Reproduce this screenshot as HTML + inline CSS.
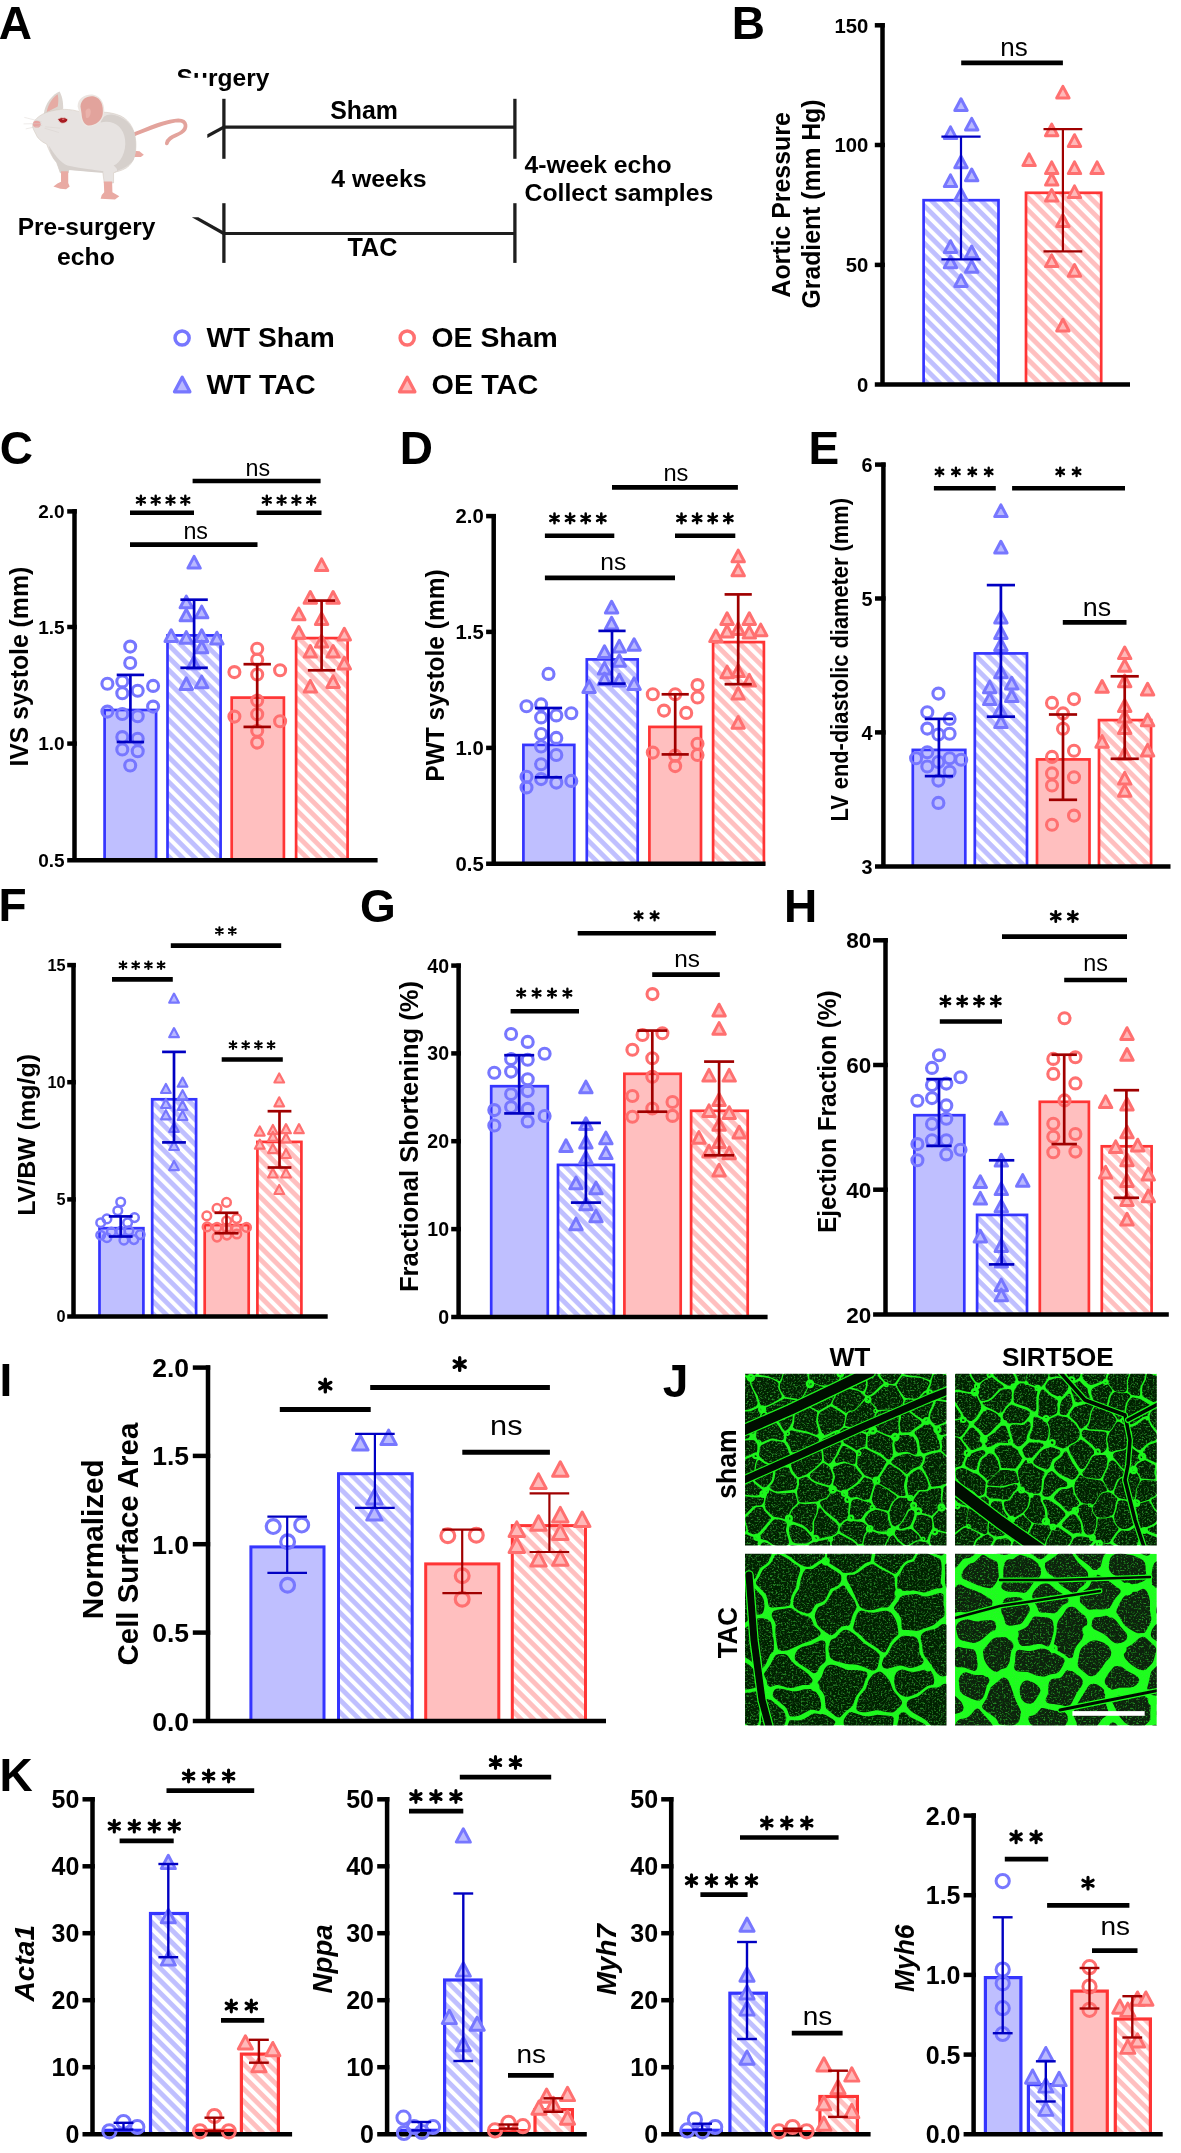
<!DOCTYPE html>
<html><head><meta charset="utf-8"><style>
html,body{margin:0;padding:0;background:#fff;}
svg{display:block;font-family:"Liberation Sans", sans-serif;} text{opacity:0.999;}
</style></head><body>
<svg width="1181" height="2153" viewBox="0 0 1181 2153">
<rect width="1181" height="2153" fill="#fff"/>
<defs><pattern id="hb" patternUnits="userSpaceOnUse" width="8.8" height="20" patternTransform="rotate(-45)"><rect width="8.8" height="20" fill="#bfbfff"/><rect width="4.0" height="20" fill="#fff"/></pattern><pattern id="hr" patternUnits="userSpaceOnUse" width="8.8" height="20" patternTransform="rotate(-45)"><rect width="8.8" height="20" fill="#ffbfbf"/><rect width="4.0" height="20" fill="#fff"/></pattern></defs>
<text x="-1.2" y="39.4" font-size="46" font-weight="bold" text-anchor="start" fill="#000">A</text>
<text x="731.8" y="38.9" font-size="46" font-weight="bold" text-anchor="start" fill="#000">B</text>
<text x="-0.2" y="463.5" font-size="46" font-weight="bold" text-anchor="start" fill="#000">C</text>
<text x="399.8" y="464.0" font-size="46" font-weight="bold" text-anchor="start" fill="#000">D</text>
<text x="808.4" y="464.0" font-size="46" font-weight="bold" text-anchor="start" fill="#000">E</text>
<text x="-1.6" y="921.2" font-size="46" font-weight="bold" text-anchor="start" fill="#000">F</text>
<text x="360.0" y="922.4" font-size="46" font-weight="bold" text-anchor="start" fill="#000">G</text>
<text x="784.0" y="922.3" font-size="46" font-weight="bold" text-anchor="start" fill="#000">H</text>
<text x="-0.5" y="1395.6" font-size="46" font-weight="bold" text-anchor="start" fill="#000">I</text>
<text x="662.8" y="1397.3" font-size="46" font-weight="bold" text-anchor="start" fill="#000">J</text>
<text x="-0.6" y="1790.8" font-size="46" font-weight="bold" text-anchor="start" fill="#000">K</text>
<g transform="translate(20,85) scale(0.14395)">
<path d="M790 345 C 900 300, 1010 250, 1100 245 C 1160 245, 1165 300, 1120 330 C 1080 355, 1030 360, 1020 405" fill="none" stroke="#e3a39c" stroke-width="26" stroke-linecap="round"/>
<path d="M775 455 L 830 460 L 860 485 L 840 500 L 790 500 Z" fill="#e9aaa3"/>
<path d="M165 205 C 170 130, 230 60, 275 45 C 300 90, 300 140, 300 165 Z" fill="#dcd5d0"/>
<path d="M185 190 C 195 130, 235 80, 262 65 C 270 100, 265 130, 262 150 Z" fill="#e6aba4"/>
<path d="M88 275 C 100 235, 150 195, 220 180 C 300 160, 380 170, 440 195 C 520 185, 620 180, 700 215 C 770 250, 800 320, 805 400 C 808 480, 790 540, 740 575 C 700 600, 670 600, 650 610 L 650 680 L 585 680 L 575 605 C 500 600, 420 590, 340 585 L 335 610 L 280 610 L 255 540 C 220 500, 200 450, 185 410 C 150 395, 120 370, 110 340 C 100 320, 85 300, 88 275 Z" fill="#e7e3e1" stroke="#d3c8be" stroke-width="4"/>
<path d="M560 260 C 650 240, 720 290, 730 380 C 740 460, 700 540, 650 560 C 700 600, 660 610, 650 610 C 670 600, 760 570, 790 520 C 810 470, 810 380, 790 320 C 760 250, 700 215, 640 205 C 600 200, 570 220, 560 260 Z" fill="#d6d0cc"/>
<path d="M200 420 C 230 470, 280 540, 330 560 C 420 580, 520 590, 580 600 L 575 610 C 500 605, 420 595, 340 590 L 335 612 L 280 612 L 255 540 C 225 505, 205 460, 200 420 Z" fill="#d6d0cc"/>
<path d="M400 150 C 400 90, 460 60, 510 68 C 570 80, 590 140, 585 200 C 580 250, 530 290, 470 290 C 430 280, 420 240, 415 200 Z" fill="#ece6e2"/>
<path d="M420 150 C 425 95, 470 72, 515 80 C 565 92, 580 145, 575 200 C 570 245, 525 285, 472 282 C 440 270, 430 235, 428 200 Z" fill="#e2a39c"/>
<path d="M455 180 C 470 150, 500 160, 490 200 C 485 225, 470 235, 458 225 Z" fill="#eab2ab"/>
<path d="M262 238 C 280 222, 318 222, 332 240 C 330 262, 300 272, 282 262 C 272 256, 266 248, 262 238 Z" fill="#a81c22" stroke="#e9dcd5" stroke-width="6"/>
<ellipse cx="300" cy="238" rx="9" ry="5" fill="#d8686c"/>
<ellipse cx="117" cy="272" rx="27" ry="24" fill="#e8a3a0"/>
<path d="M150 255 L 30 225 M150 268 L 25 270 M155 280 L 40 305 M170 300 L 270 330 M175 290 L 280 300" stroke="#d8d0cc" stroke-width="3" fill="none"/>
<path d="M285 600 L 335 600 L 335 680 L 345 705 L 320 725 L 280 720 L 232 705 L 260 685 L 285 672 Z" fill="#e9aaa3"/>
<path d="M582 670 L 640 670 L 642 745 L 690 772 L 660 795 L 560 790 L 568 765 L 585 745 Z" fill="#e9aaa3"/>
</g>
<line x1="223.9" y1="98.8" x2="223.9" y2="158.8" stroke="#1e1e1e" stroke-width="3.3" stroke-linecap="butt"/>
<line x1="223.9" y1="127.1" x2="514.9" y2="127.1" stroke="#1e1e1e" stroke-width="3.1" stroke-linecap="butt"/>
<line x1="514.9" y1="98.8" x2="514.9" y2="158.8" stroke="#1e1e1e" stroke-width="3.3" stroke-linecap="butt"/>
<polygon points="207.3,134.2 207.3,137.9 224.7,128.5 223.1,125.7" fill="#1e1e1e"/>
<line x1="223.9" y1="203.2" x2="223.9" y2="262.9" stroke="#1e1e1e" stroke-width="3.3" stroke-linecap="butt"/>
<line x1="223.9" y1="233.5" x2="514.9" y2="233.5" stroke="#1e1e1e" stroke-width="3.1" stroke-linecap="butt"/>
<line x1="514.9" y1="203.2" x2="514.9" y2="262.9" stroke="#1e1e1e" stroke-width="3.3" stroke-linecap="butt"/>
<polygon points="191.8,217.2 198.3,217.2 224.7,232.1 223.1,234.9" fill="#1e1e1e"/>
<text x="176.6" y="85.6" font-size="24.6" font-weight="bold" text-anchor="start" textLength="92.8" lengthAdjust="spacingAndGlyphs" fill="#000">Surgery</text>
<rect x="174" y="77.8" width="35" height="16" fill="#fff"/>
<text x="364.1" y="119.2" font-size="24.9" font-weight="bold" text-anchor="middle" textLength="67.8" lengthAdjust="spacingAndGlyphs" fill="#000">Sham</text>
<text x="378.9" y="187.2" font-size="24.7" font-weight="bold" text-anchor="middle" textLength="95.3" lengthAdjust="spacingAndGlyphs" fill="#000">4 weeks</text>
<text x="372.5" y="256.3" font-size="24.9" font-weight="bold" text-anchor="middle" textLength="49.9" lengthAdjust="spacingAndGlyphs" fill="#000">TAC</text>
<text x="524.5" y="173.0" font-size="24.7" font-weight="bold" text-anchor="start" textLength="147.1" lengthAdjust="spacingAndGlyphs" fill="#000">4-week echo</text>
<text x="524.5" y="200.9" font-size="24.7" font-weight="bold" text-anchor="start" textLength="188.8" lengthAdjust="spacingAndGlyphs" fill="#000">Collect samples</text>
<text x="86.5" y="235.4" font-size="24.5" font-weight="bold" text-anchor="middle" textLength="137.7" lengthAdjust="spacingAndGlyphs" fill="#000">Pre-surgery</text>
<text x="85.9" y="265.0" font-size="24.5" font-weight="bold" text-anchor="middle" textLength="57.8" lengthAdjust="spacingAndGlyphs" fill="#000">echo</text>
<circle cx="182.1" cy="338.0" r="7.05" fill="none" stroke="#7777ff" stroke-width="3.5"/>
<circle cx="407.2" cy="338.0" r="7.05" fill="none" stroke="#ff7070" stroke-width="3.5"/>
<path d="M182.2 377.3L189.9 391.8L174.5 391.8Z" fill="#b9b9ff" stroke="#7777ff" stroke-width="3.3" stroke-linejoin="round"/>
<path d="M407.2 377.3L414.9 391.8L399.5 391.8Z" fill="#ffb9b9" stroke="#ff7070" stroke-width="3.3" stroke-linejoin="round"/>
<text x="206.5" y="346.5" font-size="28" font-weight="bold" text-anchor="start" textLength="128.2" lengthAdjust="spacingAndGlyphs" fill="#000">WT Sham</text>
<text x="206.5" y="394.4" font-size="28" font-weight="bold" text-anchor="start" textLength="109.2" lengthAdjust="spacingAndGlyphs" fill="#000">WT TAC</text>
<text x="431.5" y="346.5" font-size="28" font-weight="bold" text-anchor="start" textLength="126.2" lengthAdjust="spacingAndGlyphs" fill="#000">OE Sham</text>
<text x="431.5" y="394.4" font-size="28" font-weight="bold" text-anchor="start" textLength="106.7" lengthAdjust="spacingAndGlyphs" fill="#000">OE TAC</text>
<text transform="translate(789.9,204.9) rotate(-90)" font-size="25" font-weight="bold" text-anchor="middle" textLength="185.3" lengthAdjust="spacingAndGlyphs" fill="#000">Aortic Pressure</text>
<text transform="translate(819.8,204.0) rotate(-90)" font-size="25" font-weight="bold" text-anchor="middle" textLength="208.9" lengthAdjust="spacingAndGlyphs" fill="#000">Gradient (mm Hg)</text>
<rect x="923.6" y="200.2" width="74.9" height="184.1" fill="url(#hb)" stroke="#3535ff" stroke-width="2.7"/>
<rect x="1026.0" y="192.8" width="75.2" height="191.5" fill="url(#hr)" stroke="#ff3535" stroke-width="2.7"/>
<line x1="882.5" y1="23.1" x2="882.5" y2="384.4" stroke="#000" stroke-width="4.5" stroke-linecap="butt"/>
<line x1="874.8" y1="384.4" x2="1130.0" y2="384.4" stroke="#000" stroke-width="4.5" stroke-linecap="butt"/>
<line x1="874.8" y1="25.3" x2="884.8" y2="25.3" stroke="#000" stroke-width="4.5" stroke-linecap="butt"/>
<line x1="874.8" y1="145.0" x2="884.8" y2="145.0" stroke="#000" stroke-width="4.5" stroke-linecap="butt"/>
<line x1="874.8" y1="264.9" x2="884.8" y2="264.9" stroke="#000" stroke-width="4.5" stroke-linecap="butt"/>
<text x="868.3" y="32.6" font-size="20.3" font-weight="bold" text-anchor="end" fill="#000">150</text>
<text x="868.3" y="152.3" font-size="20.3" font-weight="bold" text-anchor="end" fill="#000">100</text>
<text x="868.3" y="272.2" font-size="20.3" font-weight="bold" text-anchor="end" fill="#000">50</text>
<text x="868.3" y="391.7" font-size="20.3" font-weight="bold" text-anchor="end" fill="#000">0</text>
<line x1="961.2" y1="62.9" x2="1062.9" y2="62.9" stroke="#000" stroke-width="4.6" stroke-linecap="butt"/>
<text x="1014.0" y="55.8" font-size="25" font-weight="normal" text-anchor="middle" textLength="27.5" lengthAdjust="spacingAndGlyphs" fill="#000">ns</text>
<path d="M961.0 98.8L967.2 110.5L954.8 110.5Z" fill="#b9b9ff" stroke="#7777ff" stroke-width="3.0" stroke-linejoin="round"/>
<path d="M971.7 118.4L977.9 130.0L965.5 130.0Z" fill="#b9b9ff" stroke="#7777ff" stroke-width="3.0" stroke-linejoin="round"/>
<path d="M950.5 126.9L956.7 138.6L944.3 138.6Z" fill="#b9b9ff" stroke="#7777ff" stroke-width="3.0" stroke-linejoin="round"/>
<path d="M961.0 156.1L967.2 167.7L954.8 167.7Z" fill="#b9b9ff" stroke="#7777ff" stroke-width="3.0" stroke-linejoin="round"/>
<path d="M971.7 169.0L977.9 180.7L965.5 180.7Z" fill="#b9b9ff" stroke="#7777ff" stroke-width="3.0" stroke-linejoin="round"/>
<path d="M950.5 174.9L956.7 186.6L944.3 186.6Z" fill="#b9b9ff" stroke="#7777ff" stroke-width="3.0" stroke-linejoin="round"/>
<path d="M961.0 188.6L967.2 200.3L954.8 200.3Z" fill="#b9b9ff" stroke="#7777ff" stroke-width="3.0" stroke-linejoin="round"/>
<path d="M950.5 240.7L956.7 252.4L944.3 252.4Z" fill="#b9b9ff" stroke="#7777ff" stroke-width="3.0" stroke-linejoin="round"/>
<path d="M971.7 246.0L977.9 257.7L965.5 257.7Z" fill="#b9b9ff" stroke="#7777ff" stroke-width="3.0" stroke-linejoin="round"/>
<path d="M950.5 256.2L956.7 267.8L944.3 267.8Z" fill="#b9b9ff" stroke="#7777ff" stroke-width="3.0" stroke-linejoin="round"/>
<path d="M971.7 260.6L977.9 272.3L965.5 272.3Z" fill="#b9b9ff" stroke="#7777ff" stroke-width="3.0" stroke-linejoin="round"/>
<path d="M961.0 274.8L967.2 286.5L954.8 286.5Z" fill="#b9b9ff" stroke="#7777ff" stroke-width="3.0" stroke-linejoin="round"/>
<path d="M1062.9 86.4L1069.1 98.0L1056.7 98.0Z" fill="#ffb9b9" stroke="#ff7070" stroke-width="3.0" stroke-linejoin="round"/>
<path d="M1051.7 124.1L1057.9 135.7L1045.5 135.7Z" fill="#ffb9b9" stroke="#ff7070" stroke-width="3.0" stroke-linejoin="round"/>
<path d="M1074.5 134.7L1080.7 146.4L1068.3 146.4Z" fill="#ffb9b9" stroke="#ff7070" stroke-width="3.0" stroke-linejoin="round"/>
<path d="M1029.1 153.9L1035.3 165.6L1022.9 165.6Z" fill="#ffb9b9" stroke="#ff7070" stroke-width="3.0" stroke-linejoin="round"/>
<path d="M1051.7 161.9L1057.9 173.6L1045.5 173.6Z" fill="#ffb9b9" stroke="#ff7070" stroke-width="3.0" stroke-linejoin="round"/>
<path d="M1074.5 161.9L1080.7 173.6L1068.3 173.6Z" fill="#ffb9b9" stroke="#ff7070" stroke-width="3.0" stroke-linejoin="round"/>
<path d="M1097.1 161.9L1103.3 173.6L1090.9 173.6Z" fill="#ffb9b9" stroke="#ff7070" stroke-width="3.0" stroke-linejoin="round"/>
<path d="M1051.7 173.5L1057.9 185.1L1045.5 185.1Z" fill="#ffb9b9" stroke="#ff7070" stroke-width="3.0" stroke-linejoin="round"/>
<path d="M1051.7 189.5L1057.9 201.1L1045.5 201.1Z" fill="#ffb9b9" stroke="#ff7070" stroke-width="3.0" stroke-linejoin="round"/>
<path d="M1074.5 185.9L1080.7 197.6L1068.3 197.6Z" fill="#ffb9b9" stroke="#ff7070" stroke-width="3.0" stroke-linejoin="round"/>
<path d="M1062.9 214.7L1069.1 226.4L1056.7 226.4Z" fill="#ffb9b9" stroke="#ff7070" stroke-width="3.0" stroke-linejoin="round"/>
<path d="M1051.7 254.9L1057.9 266.6L1045.5 266.6Z" fill="#ffb9b9" stroke="#ff7070" stroke-width="3.0" stroke-linejoin="round"/>
<path d="M1074.5 264.5L1080.7 276.2L1068.3 276.2Z" fill="#ffb9b9" stroke="#ff7070" stroke-width="3.0" stroke-linejoin="round"/>
<path d="M1062.9 319.3L1069.1 330.9L1056.7 330.9Z" fill="#ffb9b9" stroke="#ff7070" stroke-width="3.0" stroke-linejoin="round"/>
<line x1="961.0" y1="136.7" x2="961.0" y2="259.4" stroke="#0000c2" stroke-width="2.2" stroke-linecap="butt"/>
<line x1="941.4" y1="136.7" x2="980.6" y2="136.7" stroke="#0000c2" stroke-width="2.2" stroke-linecap="butt"/>
<line x1="941.4" y1="259.4" x2="980.6" y2="259.4" stroke="#0000c2" stroke-width="2.2" stroke-linecap="butt"/>
<line x1="1062.9" y1="129.2" x2="1062.9" y2="251.4" stroke="#a00000" stroke-width="2.2" stroke-linecap="butt"/>
<line x1="1043.5" y1="129.2" x2="1082.3" y2="129.2" stroke="#a00000" stroke-width="2.2" stroke-linecap="butt"/>
<line x1="1043.5" y1="251.4" x2="1082.3" y2="251.4" stroke="#a00000" stroke-width="2.2" stroke-linecap="butt"/>
<text transform="translate(27.9,666.7) rotate(-90)" font-size="25.5" font-weight="bold" text-anchor="middle" textLength="199.8" lengthAdjust="spacingAndGlyphs" fill="#000">IVS systole (mm)</text>
<rect x="104.6" y="710.0" width="51.5" height="150.3" fill="#bfbfff" stroke="#3535ff" stroke-width="2.7"/>
<rect x="167.5" y="635.4" width="53.1" height="224.9" fill="url(#hb)" stroke="#3535ff" stroke-width="2.7"/>
<rect x="231.7" y="697.6" width="52.2" height="162.7" fill="#ffbfbf" stroke="#ff3535" stroke-width="2.7"/>
<rect x="296.1" y="638.1" width="51.5" height="222.2" fill="url(#hr)" stroke="#ff3535" stroke-width="2.7"/>
<line x1="74.5" y1="509.1" x2="74.5" y2="860.3" stroke="#000" stroke-width="4.5" stroke-linecap="butt"/>
<line x1="67.2" y1="860.3" x2="377.6" y2="860.3" stroke="#000" stroke-width="4.5" stroke-linecap="butt"/>
<line x1="67.2" y1="511.4" x2="76.8" y2="511.4" stroke="#000" stroke-width="4.5" stroke-linecap="butt"/>
<line x1="67.2" y1="627.0" x2="76.8" y2="627.0" stroke="#000" stroke-width="4.5" stroke-linecap="butt"/>
<line x1="67.2" y1="743.6" x2="76.8" y2="743.6" stroke="#000" stroke-width="4.5" stroke-linecap="butt"/>
<text x="64.7" y="518.2" font-size="19" font-weight="bold" text-anchor="end" fill="#000">2.0</text>
<text x="64.7" y="633.8" font-size="19" font-weight="bold" text-anchor="end" fill="#000">1.5</text>
<text x="64.7" y="750.4" font-size="19" font-weight="bold" text-anchor="end" fill="#000">1.0</text>
<text x="64.7" y="867.1" font-size="19" font-weight="bold" text-anchor="end" fill="#000">0.5</text>
<line x1="192.6" y1="481.0" x2="320.6" y2="481.0" stroke="#000" stroke-width="4.6" stroke-linecap="butt"/>
<text x="257.9" y="476.0" font-size="24" font-weight="normal" text-anchor="middle" textLength="24.6" lengthAdjust="spacingAndGlyphs" fill="#000">ns</text>
<line x1="130.0" y1="512.8" x2="194.0" y2="512.8" stroke="#000" stroke-width="4.6" stroke-linecap="butt"/>
<path d="M140.90 495.75V504.75M136.95 497.97L144.85 502.53M136.95 502.53L144.85 497.97" stroke="#000" stroke-width="2.40" stroke-linecap="round" fill="none"/>
<path d="M155.70 495.75V504.75M151.75 497.97L159.65 502.53M151.75 502.53L159.65 497.97" stroke="#000" stroke-width="2.40" stroke-linecap="round" fill="none"/>
<path d="M170.50 495.75V504.75M166.55 497.97L174.45 502.53M166.55 502.53L174.45 497.97" stroke="#000" stroke-width="2.40" stroke-linecap="round" fill="none"/>
<path d="M185.30 495.75V504.75M181.35 497.97L189.25 502.53M181.35 502.53L189.25 497.97" stroke="#000" stroke-width="2.40" stroke-linecap="round" fill="none"/>
<line x1="256.6" y1="512.8" x2="321.5" y2="512.8" stroke="#000" stroke-width="4.6" stroke-linecap="butt"/>
<path d="M266.80 495.75V504.75M262.85 497.97L270.75 502.53M262.85 502.53L270.75 497.97" stroke="#000" stroke-width="2.40" stroke-linecap="round" fill="none"/>
<path d="M281.60 495.75V504.75M277.65 497.97L285.55 502.53M277.65 502.53L285.55 497.97" stroke="#000" stroke-width="2.40" stroke-linecap="round" fill="none"/>
<path d="M296.40 495.75V504.75M292.45 497.97L300.35 502.53M292.45 502.53L300.35 497.97" stroke="#000" stroke-width="2.40" stroke-linecap="round" fill="none"/>
<path d="M311.20 495.75V504.75M307.25 497.97L315.15 502.53M307.25 502.53L315.15 497.97" stroke="#000" stroke-width="2.40" stroke-linecap="round" fill="none"/>
<line x1="130.0" y1="544.6" x2="257.5" y2="544.6" stroke="#000" stroke-width="4.6" stroke-linecap="butt"/>
<text x="195.7" y="539.1" font-size="24" font-weight="normal" text-anchor="middle" textLength="24.6" lengthAdjust="spacingAndGlyphs" fill="#000">ns</text>
<circle cx="130.2" cy="646.6" r="5.5" fill="none" stroke="#7777ff" stroke-width="3.1"/>
<circle cx="130.2" cy="663.0" r="5.5" fill="none" stroke="#7777ff" stroke-width="3.1"/>
<circle cx="107.4" cy="683.7" r="5.5" fill="none" stroke="#7777ff" stroke-width="3.1"/>
<circle cx="122.3" cy="681.4" r="5.5" fill="none" stroke="#7777ff" stroke-width="3.1"/>
<circle cx="122.3" cy="693.2" r="5.5" fill="none" stroke="#7777ff" stroke-width="3.1"/>
<circle cx="137.7" cy="690.8" r="5.5" fill="none" stroke="#7777ff" stroke-width="3.1"/>
<circle cx="153.1" cy="685.9" r="5.5" fill="none" stroke="#7777ff" stroke-width="3.1"/>
<circle cx="153.1" cy="706.6" r="5.5" fill="none" stroke="#7777ff" stroke-width="3.1"/>
<circle cx="107.4" cy="711.6" r="5.5" fill="none" stroke="#7777ff" stroke-width="3.1"/>
<circle cx="122.3" cy="714.0" r="5.5" fill="none" stroke="#7777ff" stroke-width="3.1"/>
<circle cx="137.7" cy="716.3" r="5.5" fill="none" stroke="#7777ff" stroke-width="3.1"/>
<circle cx="122.3" cy="737.1" r="5.5" fill="none" stroke="#7777ff" stroke-width="3.1"/>
<circle cx="137.7" cy="738.8" r="5.5" fill="none" stroke="#7777ff" stroke-width="3.1"/>
<circle cx="122.3" cy="749.5" r="5.5" fill="none" stroke="#7777ff" stroke-width="3.1"/>
<circle cx="137.7" cy="751.3" r="5.5" fill="none" stroke="#7777ff" stroke-width="3.1"/>
<circle cx="130.2" cy="765.5" r="5.5" fill="none" stroke="#7777ff" stroke-width="3.1"/>
<path d="M194.1 556.4L200.3 568.1L187.9 568.1Z" fill="#b9b9ff" stroke="#7777ff" stroke-width="3.0" stroke-linejoin="round"/>
<path d="M186.3 596.1L192.5 607.7L180.1 607.7Z" fill="#b9b9ff" stroke="#7777ff" stroke-width="3.0" stroke-linejoin="round"/>
<path d="M186.3 609.1L192.5 620.7L180.1 620.7Z" fill="#b9b9ff" stroke="#7777ff" stroke-width="3.0" stroke-linejoin="round"/>
<path d="M201.7 606.1L207.9 617.8L195.5 617.8Z" fill="#b9b9ff" stroke="#7777ff" stroke-width="3.0" stroke-linejoin="round"/>
<path d="M171.2 629.8L177.4 641.5L165.0 641.5Z" fill="#b9b9ff" stroke="#7777ff" stroke-width="3.0" stroke-linejoin="round"/>
<path d="M186.3 631.6L192.5 643.3L180.1 643.3Z" fill="#b9b9ff" stroke="#7777ff" stroke-width="3.0" stroke-linejoin="round"/>
<path d="M201.7 629.8L207.9 641.5L195.5 641.5Z" fill="#b9b9ff" stroke="#7777ff" stroke-width="3.0" stroke-linejoin="round"/>
<path d="M216.9 632.2L223.1 643.9L210.7 643.9Z" fill="#b9b9ff" stroke="#7777ff" stroke-width="3.0" stroke-linejoin="round"/>
<path d="M201.7 641.1L207.9 652.8L195.5 652.8Z" fill="#b9b9ff" stroke="#7777ff" stroke-width="3.0" stroke-linejoin="round"/>
<path d="M193.6 657.1L199.8 668.8L187.4 668.8Z" fill="#b9b9ff" stroke="#7777ff" stroke-width="3.0" stroke-linejoin="round"/>
<path d="M186.3 677.8L192.5 689.5L180.1 689.5Z" fill="#b9b9ff" stroke="#7777ff" stroke-width="3.0" stroke-linejoin="round"/>
<path d="M201.7 676.1L207.9 687.7L195.5 687.7Z" fill="#b9b9ff" stroke="#7777ff" stroke-width="3.0" stroke-linejoin="round"/>
<circle cx="257.2" cy="648.7" r="5.5" fill="none" stroke="#ff7070" stroke-width="3.1"/>
<circle cx="257.2" cy="659.7" r="5.5" fill="none" stroke="#ff7070" stroke-width="3.1"/>
<circle cx="234.4" cy="672.1" r="5.5" fill="none" stroke="#ff7070" stroke-width="3.1"/>
<circle cx="280.1" cy="670.3" r="5.5" fill="none" stroke="#ff7070" stroke-width="3.1"/>
<circle cx="257.2" cy="674.5" r="5.5" fill="none" stroke="#ff7070" stroke-width="3.1"/>
<circle cx="257.2" cy="700.6" r="5.5" fill="none" stroke="#ff7070" stroke-width="3.1"/>
<circle cx="234.4" cy="716.6" r="5.5" fill="none" stroke="#ff7070" stroke-width="3.1"/>
<circle cx="257.2" cy="714.2" r="5.5" fill="none" stroke="#ff7070" stroke-width="3.1"/>
<circle cx="280.1" cy="721.3" r="5.5" fill="none" stroke="#ff7070" stroke-width="3.1"/>
<circle cx="257.2" cy="730.8" r="5.5" fill="none" stroke="#ff7070" stroke-width="3.1"/>
<circle cx="257.2" cy="742.6" r="5.5" fill="none" stroke="#ff7070" stroke-width="3.1"/>
<path d="M321.6 558.9L327.8 570.6L315.4 570.6Z" fill="#ffb9b9" stroke="#ff7070" stroke-width="3.0" stroke-linejoin="round"/>
<path d="M310.3 591.5L316.5 603.2L304.1 603.2Z" fill="#ffb9b9" stroke="#ff7070" stroke-width="3.0" stroke-linejoin="round"/>
<path d="M333.1 591.5L339.3 603.2L326.9 603.2Z" fill="#ffb9b9" stroke="#ff7070" stroke-width="3.0" stroke-linejoin="round"/>
<path d="M298.8 608.1L305.0 619.8L292.6 619.8Z" fill="#ffb9b9" stroke="#ff7070" stroke-width="3.0" stroke-linejoin="round"/>
<path d="M321.6 612.9L327.8 624.5L315.4 624.5Z" fill="#ffb9b9" stroke="#ff7070" stroke-width="3.0" stroke-linejoin="round"/>
<path d="M298.8 626.5L305.0 638.2L292.6 638.2Z" fill="#ffb9b9" stroke="#ff7070" stroke-width="3.0" stroke-linejoin="round"/>
<path d="M344.3 628.3L350.5 639.9L338.1 639.9Z" fill="#ffb9b9" stroke="#ff7070" stroke-width="3.0" stroke-linejoin="round"/>
<path d="M321.6 635.4L327.8 647.1L315.4 647.1Z" fill="#ffb9b9" stroke="#ff7070" stroke-width="3.0" stroke-linejoin="round"/>
<path d="M310.3 645.5L316.5 657.1L304.1 657.1Z" fill="#ffb9b9" stroke="#ff7070" stroke-width="3.0" stroke-linejoin="round"/>
<path d="M333.1 645.5L339.3 657.1L326.9 657.1Z" fill="#ffb9b9" stroke="#ff7070" stroke-width="3.0" stroke-linejoin="round"/>
<path d="M344.3 657.3L350.5 669.0L338.1 669.0Z" fill="#ffb9b9" stroke="#ff7070" stroke-width="3.0" stroke-linejoin="round"/>
<path d="M333.1 675.7L339.3 687.4L326.9 687.4Z" fill="#ffb9b9" stroke="#ff7070" stroke-width="3.0" stroke-linejoin="round"/>
<path d="M310.3 680.4L316.5 692.1L304.1 692.1Z" fill="#ffb9b9" stroke="#ff7070" stroke-width="3.0" stroke-linejoin="round"/>
<line x1="130.4" y1="674.9" x2="130.4" y2="742.0" stroke="#0000c2" stroke-width="2.7" stroke-linecap="butt"/>
<line x1="116.7" y1="674.9" x2="144.1" y2="674.9" stroke="#0000c2" stroke-width="2.7" stroke-linecap="butt"/>
<line x1="116.7" y1="742.0" x2="144.1" y2="742.0" stroke="#0000c2" stroke-width="2.7" stroke-linecap="butt"/>
<line x1="194.1" y1="599.7" x2="194.1" y2="667.8" stroke="#0000c2" stroke-width="2.7" stroke-linecap="butt"/>
<line x1="180.4" y1="599.7" x2="207.8" y2="599.7" stroke="#0000c2" stroke-width="2.7" stroke-linecap="butt"/>
<line x1="180.4" y1="667.8" x2="207.8" y2="667.8" stroke="#0000c2" stroke-width="2.7" stroke-linecap="butt"/>
<line x1="257.2" y1="664.2" x2="257.2" y2="726.9" stroke="#a00000" stroke-width="2.7" stroke-linecap="butt"/>
<line x1="243.5" y1="664.2" x2="270.9" y2="664.2" stroke="#a00000" stroke-width="2.7" stroke-linecap="butt"/>
<line x1="243.5" y1="726.9" x2="270.9" y2="726.9" stroke="#a00000" stroke-width="2.7" stroke-linecap="butt"/>
<line x1="321.6" y1="600.6" x2="321.6" y2="670.3" stroke="#a00000" stroke-width="2.7" stroke-linecap="butt"/>
<line x1="307.9" y1="600.6" x2="335.3" y2="600.6" stroke="#a00000" stroke-width="2.7" stroke-linecap="butt"/>
<line x1="307.9" y1="670.3" x2="335.3" y2="670.3" stroke="#a00000" stroke-width="2.7" stroke-linecap="butt"/>
<text transform="translate(444.0,675.5) rotate(-90)" font-size="25.5" font-weight="bold" text-anchor="middle" textLength="212.3" lengthAdjust="spacingAndGlyphs" fill="#000">PWT systole (mm)</text>
<rect x="523.4" y="744.9" width="50.9" height="118.9" fill="#bfbfff" stroke="#3535ff" stroke-width="2.7"/>
<rect x="586.8" y="659.4" width="50.9" height="204.4" fill="url(#hb)" stroke="#3535ff" stroke-width="2.7"/>
<rect x="649.4" y="726.9" width="51.6" height="136.9" fill="#ffbfbf" stroke="#ff3535" stroke-width="2.7"/>
<rect x="713.1" y="642.1" width="50.8" height="221.6" fill="url(#hr)" stroke="#ff3535" stroke-width="2.7"/>
<line x1="493.7" y1="513.9" x2="493.7" y2="863.7" stroke="#000" stroke-width="4.5" stroke-linecap="butt"/>
<line x1="486.1" y1="863.7" x2="765.5" y2="863.7" stroke="#000" stroke-width="4.5" stroke-linecap="butt"/>
<line x1="486.1" y1="516.1" x2="495.9" y2="516.1" stroke="#000" stroke-width="4.5" stroke-linecap="butt"/>
<line x1="486.1" y1="631.9" x2="495.9" y2="631.9" stroke="#000" stroke-width="4.5" stroke-linecap="butt"/>
<line x1="486.1" y1="747.9" x2="495.9" y2="747.9" stroke="#000" stroke-width="4.5" stroke-linecap="butt"/>
<text x="483.8" y="523.4" font-size="20.3" font-weight="bold" text-anchor="end" fill="#000">2.0</text>
<text x="483.8" y="639.2" font-size="20.3" font-weight="bold" text-anchor="end" fill="#000">1.5</text>
<text x="483.8" y="755.2" font-size="20.3" font-weight="bold" text-anchor="end" fill="#000">1.0</text>
<text x="483.8" y="871.0" font-size="20.3" font-weight="bold" text-anchor="end" fill="#000">0.5</text>
<line x1="612.0" y1="487.4" x2="737.9" y2="487.4" stroke="#000" stroke-width="4.6" stroke-linecap="butt"/>
<text x="675.9" y="480.7" font-size="24" font-weight="normal" text-anchor="middle" textLength="25.0" lengthAdjust="spacingAndGlyphs" fill="#000">ns</text>
<line x1="544.9" y1="535.7" x2="614.3" y2="535.7" stroke="#000" stroke-width="4.6" stroke-linecap="butt"/>
<path d="M554.50 513.63V523.17M550.31 515.98L558.69 520.82M550.31 520.82L558.69 515.98" stroke="#000" stroke-width="2.54" stroke-linecap="round" fill="none"/>
<path d="M570.10 513.63V523.17M565.91 515.98L574.29 520.82M565.91 520.82L574.29 515.98" stroke="#000" stroke-width="2.54" stroke-linecap="round" fill="none"/>
<path d="M585.70 513.63V523.17M581.51 515.98L589.89 520.82M581.51 520.82L589.89 515.98" stroke="#000" stroke-width="2.54" stroke-linecap="round" fill="none"/>
<path d="M601.30 513.63V523.17M597.11 515.98L605.49 520.82M597.11 520.82L605.49 515.98" stroke="#000" stroke-width="2.54" stroke-linecap="round" fill="none"/>
<line x1="675.0" y1="535.7" x2="735.3" y2="535.7" stroke="#000" stroke-width="4.6" stroke-linecap="butt"/>
<path d="M681.50 513.63V523.17M677.31 515.98L685.69 520.82M677.31 520.82L685.69 515.98" stroke="#000" stroke-width="2.54" stroke-linecap="round" fill="none"/>
<path d="M697.10 513.63V523.17M692.91 515.98L701.29 520.82M692.91 520.82L701.29 515.98" stroke="#000" stroke-width="2.54" stroke-linecap="round" fill="none"/>
<path d="M712.70 513.63V523.17M708.51 515.98L716.89 520.82M708.51 520.82L716.89 515.98" stroke="#000" stroke-width="2.54" stroke-linecap="round" fill="none"/>
<path d="M728.30 513.63V523.17M724.11 515.98L732.49 520.82M724.11 520.82L732.49 515.98" stroke="#000" stroke-width="2.54" stroke-linecap="round" fill="none"/>
<line x1="544.9" y1="577.9" x2="675.0" y2="577.9" stroke="#000" stroke-width="4.6" stroke-linecap="butt"/>
<text x="613.3" y="570.4" font-size="24" font-weight="normal" text-anchor="middle" textLength="26.0" lengthAdjust="spacingAndGlyphs" fill="#000">ns</text>
<circle cx="548.5" cy="673.9" r="5.5" fill="none" stroke="#7777ff" stroke-width="3.1"/>
<circle cx="526.5" cy="706.2" r="5.5" fill="none" stroke="#7777ff" stroke-width="3.1"/>
<circle cx="541.1" cy="704.4" r="5.5" fill="none" stroke="#7777ff" stroke-width="3.1"/>
<circle cx="571.3" cy="713.3" r="5.5" fill="none" stroke="#7777ff" stroke-width="3.1"/>
<circle cx="541.1" cy="717.4" r="5.5" fill="none" stroke="#7777ff" stroke-width="3.1"/>
<circle cx="556.3" cy="715.4" r="5.5" fill="none" stroke="#7777ff" stroke-width="3.1"/>
<circle cx="541.1" cy="734.0" r="5.5" fill="none" stroke="#7777ff" stroke-width="3.1"/>
<circle cx="556.3" cy="737.9" r="5.5" fill="none" stroke="#7777ff" stroke-width="3.1"/>
<circle cx="541.1" cy="746.5" r="5.5" fill="none" stroke="#7777ff" stroke-width="3.1"/>
<circle cx="556.3" cy="755.0" r="5.5" fill="none" stroke="#7777ff" stroke-width="3.1"/>
<circle cx="541.1" cy="764.3" r="5.5" fill="none" stroke="#7777ff" stroke-width="3.1"/>
<circle cx="526.5" cy="776.7" r="5.5" fill="none" stroke="#7777ff" stroke-width="3.1"/>
<circle cx="541.1" cy="779.1" r="5.5" fill="none" stroke="#7777ff" stroke-width="3.1"/>
<circle cx="556.3" cy="782.6" r="5.5" fill="none" stroke="#7777ff" stroke-width="3.1"/>
<circle cx="571.3" cy="780.9" r="5.5" fill="none" stroke="#7777ff" stroke-width="3.1"/>
<circle cx="526.5" cy="787.4" r="5.5" fill="none" stroke="#7777ff" stroke-width="3.1"/>
<path d="M611.6 601.3L617.8 613.0L605.4 613.0Z" fill="#b9b9ff" stroke="#7777ff" stroke-width="3.0" stroke-linejoin="round"/>
<path d="M611.6 617.3L617.8 629.0L605.4 629.0Z" fill="#b9b9ff" stroke="#7777ff" stroke-width="3.0" stroke-linejoin="round"/>
<path d="M604.5 645.8L610.7 657.4L598.3 657.4Z" fill="#b9b9ff" stroke="#7777ff" stroke-width="3.0" stroke-linejoin="round"/>
<path d="M619.3 640.4L625.5 652.1L613.1 652.1Z" fill="#b9b9ff" stroke="#7777ff" stroke-width="3.0" stroke-linejoin="round"/>
<path d="M634.1 638.7L640.3 650.3L627.9 650.3Z" fill="#b9b9ff" stroke="#7777ff" stroke-width="3.0" stroke-linejoin="round"/>
<path d="M619.3 654.7L625.5 666.3L613.1 666.3Z" fill="#b9b9ff" stroke="#7777ff" stroke-width="3.0" stroke-linejoin="round"/>
<path d="M604.5 662.4L610.7 674.0L598.3 674.0Z" fill="#b9b9ff" stroke="#7777ff" stroke-width="3.0" stroke-linejoin="round"/>
<path d="M604.5 673.0L610.7 684.7L598.3 684.7Z" fill="#b9b9ff" stroke="#7777ff" stroke-width="3.0" stroke-linejoin="round"/>
<path d="M619.3 674.2L625.5 685.9L613.1 685.9Z" fill="#b9b9ff" stroke="#7777ff" stroke-width="3.0" stroke-linejoin="round"/>
<path d="M589.1 680.7L595.3 692.4L582.9 692.4Z" fill="#b9b9ff" stroke="#7777ff" stroke-width="3.0" stroke-linejoin="round"/>
<path d="M634.1 677.8L640.3 689.4L627.9 689.4Z" fill="#b9b9ff" stroke="#7777ff" stroke-width="3.0" stroke-linejoin="round"/>
<circle cx="652.8" cy="694.3" r="5.5" fill="none" stroke="#ff7070" stroke-width="3.1"/>
<circle cx="675.2" cy="694.3" r="5.5" fill="none" stroke="#ff7070" stroke-width="3.1"/>
<circle cx="697.5" cy="685.1" r="5.5" fill="none" stroke="#ff7070" stroke-width="3.1"/>
<circle cx="697.5" cy="697.5" r="5.5" fill="none" stroke="#ff7070" stroke-width="3.1"/>
<circle cx="664.0" cy="710.6" r="5.5" fill="none" stroke="#ff7070" stroke-width="3.1"/>
<circle cx="686.2" cy="712.9" r="5.5" fill="none" stroke="#ff7070" stroke-width="3.1"/>
<circle cx="697.5" cy="743.7" r="5.5" fill="none" stroke="#ff7070" stroke-width="3.1"/>
<circle cx="652.8" cy="752.6" r="5.5" fill="none" stroke="#ff7070" stroke-width="3.1"/>
<circle cx="697.5" cy="755.0" r="5.5" fill="none" stroke="#ff7070" stroke-width="3.1"/>
<circle cx="675.2" cy="755.6" r="5.5" fill="none" stroke="#ff7070" stroke-width="3.1"/>
<circle cx="675.2" cy="766.1" r="5.5" fill="none" stroke="#ff7070" stroke-width="3.1"/>
<path d="M738.2 550.1L744.4 561.8L732.0 561.8Z" fill="#ffb9b9" stroke="#ff7070" stroke-width="3.0" stroke-linejoin="round"/>
<path d="M738.2 564.1L744.4 575.8L732.0 575.8Z" fill="#ffb9b9" stroke="#ff7070" stroke-width="3.0" stroke-linejoin="round"/>
<path d="M727.1 612.8L733.3 624.5L720.9 624.5Z" fill="#ffb9b9" stroke="#ff7070" stroke-width="3.0" stroke-linejoin="round"/>
<path d="M749.3 612.8L755.5 624.5L743.1 624.5Z" fill="#ffb9b9" stroke="#ff7070" stroke-width="3.0" stroke-linejoin="round"/>
<path d="M715.9 630.0L722.1 641.6L709.7 641.6Z" fill="#ffb9b9" stroke="#ff7070" stroke-width="3.0" stroke-linejoin="round"/>
<path d="M727.1 625.2L733.3 636.9L720.9 636.9Z" fill="#ffb9b9" stroke="#ff7070" stroke-width="3.0" stroke-linejoin="round"/>
<path d="M738.2 622.9L744.3 634.5L732.0 634.5Z" fill="#ffb9b9" stroke="#ff7070" stroke-width="3.0" stroke-linejoin="round"/>
<path d="M749.3 626.4L755.5 638.1L743.1 638.1Z" fill="#ffb9b9" stroke="#ff7070" stroke-width="3.0" stroke-linejoin="round"/>
<path d="M760.7 624.1L766.9 635.7L754.5 635.7Z" fill="#ffb9b9" stroke="#ff7070" stroke-width="3.0" stroke-linejoin="round"/>
<path d="M727.1 666.1L733.3 677.8L720.9 677.8Z" fill="#ffb9b9" stroke="#ff7070" stroke-width="3.0" stroke-linejoin="round"/>
<path d="M738.2 665.0L744.3 676.6L732.0 676.6Z" fill="#ffb9b9" stroke="#ff7070" stroke-width="3.0" stroke-linejoin="round"/>
<path d="M749.3 674.4L755.5 686.1L743.1 686.1Z" fill="#ffb9b9" stroke="#ff7070" stroke-width="3.0" stroke-linejoin="round"/>
<path d="M738.2 687.5L744.3 699.1L732.0 699.1Z" fill="#ffb9b9" stroke="#ff7070" stroke-width="3.0" stroke-linejoin="round"/>
<path d="M738.2 716.5L744.3 728.2L732.0 728.2Z" fill="#ffb9b9" stroke="#ff7070" stroke-width="3.0" stroke-linejoin="round"/>
<line x1="548.5" y1="708.0" x2="548.5" y2="777.3" stroke="#0000c2" stroke-width="2.7" stroke-linecap="butt"/>
<line x1="534.9" y1="708.0" x2="562.1" y2="708.0" stroke="#0000c2" stroke-width="2.7" stroke-linecap="butt"/>
<line x1="534.9" y1="777.3" x2="562.1" y2="777.3" stroke="#0000c2" stroke-width="2.7" stroke-linecap="butt"/>
<line x1="612.0" y1="630.9" x2="612.0" y2="683.6" stroke="#0000c2" stroke-width="2.7" stroke-linecap="butt"/>
<line x1="598.4" y1="630.9" x2="625.6" y2="630.9" stroke="#0000c2" stroke-width="2.7" stroke-linecap="butt"/>
<line x1="598.4" y1="683.6" x2="625.6" y2="683.6" stroke="#0000c2" stroke-width="2.7" stroke-linecap="butt"/>
<line x1="675.2" y1="694.3" x2="675.2" y2="754.4" stroke="#a00000" stroke-width="2.7" stroke-linecap="butt"/>
<line x1="661.6" y1="694.3" x2="688.8" y2="694.3" stroke="#a00000" stroke-width="2.7" stroke-linecap="butt"/>
<line x1="661.6" y1="754.4" x2="688.8" y2="754.4" stroke="#a00000" stroke-width="2.7" stroke-linecap="butt"/>
<line x1="738.2" y1="594.4" x2="738.2" y2="684.2" stroke="#a00000" stroke-width="2.7" stroke-linecap="butt"/>
<line x1="724.6" y1="594.4" x2="751.8" y2="594.4" stroke="#a00000" stroke-width="2.7" stroke-linecap="butt"/>
<line x1="724.6" y1="684.2" x2="751.8" y2="684.2" stroke="#a00000" stroke-width="2.7" stroke-linecap="butt"/>
<text transform="translate(847.6,659.8) rotate(-90)" font-size="24" font-weight="bold" text-anchor="middle" textLength="323.5" lengthAdjust="spacingAndGlyphs" fill="#000">LV end-diastolic diameter (mm)</text>
<rect x="912.8" y="749.9" width="52.5" height="116.5" fill="#bfbfff" stroke="#3535ff" stroke-width="2.7"/>
<rect x="974.8" y="653.4" width="52.2" height="213.0" fill="url(#hb)" stroke="#3535ff" stroke-width="2.7"/>
<rect x="1037.0" y="759.4" width="52.5" height="107.0" fill="#ffbfbf" stroke="#ff3535" stroke-width="2.7"/>
<rect x="1099.0" y="720.1" width="52.1" height="146.3" fill="url(#hr)" stroke="#ff3535" stroke-width="2.7"/>
<line x1="883.4" y1="462.4" x2="883.4" y2="866.4" stroke="#000" stroke-width="4.5" stroke-linecap="butt"/>
<line x1="875.0" y1="866.4" x2="1170.5" y2="866.4" stroke="#000" stroke-width="4.5" stroke-linecap="butt"/>
<line x1="875.0" y1="464.6" x2="885.6" y2="464.6" stroke="#000" stroke-width="4.5" stroke-linecap="butt"/>
<line x1="875.0" y1="598.5" x2="885.6" y2="598.5" stroke="#000" stroke-width="4.5" stroke-linecap="butt"/>
<line x1="875.0" y1="732.4" x2="885.6" y2="732.4" stroke="#000" stroke-width="4.5" stroke-linecap="butt"/>
<text x="872.6" y="471.7" font-size="19.8" font-weight="bold" text-anchor="end" fill="#000">6</text>
<text x="872.6" y="605.6" font-size="19.8" font-weight="bold" text-anchor="end" fill="#000">5</text>
<text x="872.6" y="739.5" font-size="19.8" font-weight="bold" text-anchor="end" fill="#000">4</text>
<text x="872.6" y="873.5" font-size="19.8" font-weight="bold" text-anchor="end" fill="#000">3</text>
<line x1="933.9" y1="488.3" x2="995.8" y2="488.3" stroke="#000" stroke-width="4.6" stroke-linecap="butt"/>
<path d="M939.50 467.62V476.17M935.75 469.73L943.25 474.07M935.75 474.07L943.25 469.73" stroke="#000" stroke-width="2.28" stroke-linecap="round" fill="none"/>
<path d="M955.90 467.62V476.17M952.15 469.73L959.65 474.07M952.15 474.07L959.65 469.73" stroke="#000" stroke-width="2.28" stroke-linecap="round" fill="none"/>
<path d="M972.30 467.62V476.17M968.55 469.73L976.05 474.07M968.55 474.07L976.05 469.73" stroke="#000" stroke-width="2.28" stroke-linecap="round" fill="none"/>
<path d="M988.70 467.62V476.17M984.95 469.73L992.45 474.07M984.95 474.07L992.45 469.73" stroke="#000" stroke-width="2.28" stroke-linecap="round" fill="none"/>
<line x1="1012.1" y1="488.3" x2="1125.0" y2="488.3" stroke="#000" stroke-width="4.6" stroke-linecap="butt"/>
<path d="M1060.20 467.62V476.17M1056.45 469.73L1063.95 474.07M1056.45 474.07L1063.95 469.73" stroke="#000" stroke-width="2.28" stroke-linecap="round" fill="none"/>
<path d="M1076.60 467.62V476.17M1072.85 469.73L1080.35 474.07M1072.85 474.07L1080.35 469.73" stroke="#000" stroke-width="2.28" stroke-linecap="round" fill="none"/>
<line x1="1062.8" y1="622.4" x2="1126.5" y2="622.4" stroke="#000" stroke-width="4.6" stroke-linecap="butt"/>
<text x="1096.9" y="615.9" font-size="25" font-weight="normal" text-anchor="middle" textLength="28.4" lengthAdjust="spacingAndGlyphs" fill="#000">ns</text>
<circle cx="938.4" cy="693.6" r="5.5" fill="none" stroke="#7777ff" stroke-width="3.1"/>
<circle cx="927.3" cy="712.2" r="5.5" fill="none" stroke="#7777ff" stroke-width="3.1"/>
<circle cx="949.6" cy="718.9" r="5.5" fill="none" stroke="#7777ff" stroke-width="3.1"/>
<circle cx="927.3" cy="728.6" r="5.5" fill="none" stroke="#7777ff" stroke-width="3.1"/>
<circle cx="938.4" cy="734.5" r="5.5" fill="none" stroke="#7777ff" stroke-width="3.1"/>
<circle cx="949.6" cy="733.8" r="5.5" fill="none" stroke="#7777ff" stroke-width="3.1"/>
<circle cx="927.3" cy="752.3" r="5.5" fill="none" stroke="#7777ff" stroke-width="3.1"/>
<circle cx="916.1" cy="758.3" r="5.5" fill="none" stroke="#7777ff" stroke-width="3.1"/>
<circle cx="938.4" cy="762.0" r="5.5" fill="none" stroke="#7777ff" stroke-width="3.1"/>
<circle cx="949.6" cy="758.3" r="5.5" fill="none" stroke="#7777ff" stroke-width="3.1"/>
<circle cx="961.2" cy="759.8" r="5.5" fill="none" stroke="#7777ff" stroke-width="3.1"/>
<circle cx="927.3" cy="766.5" r="5.5" fill="none" stroke="#7777ff" stroke-width="3.1"/>
<circle cx="949.6" cy="771.7" r="5.5" fill="none" stroke="#7777ff" stroke-width="3.1"/>
<circle cx="938.4" cy="780.6" r="5.5" fill="none" stroke="#7777ff" stroke-width="3.1"/>
<circle cx="938.4" cy="802.9" r="5.5" fill="none" stroke="#7777ff" stroke-width="3.1"/>
<path d="M1000.9 504.9L1007.1 516.6L994.7 516.6Z" fill="#b9b9ff" stroke="#7777ff" stroke-width="3.0" stroke-linejoin="round"/>
<path d="M1000.9 541.3L1007.1 553.0L994.7 553.0Z" fill="#b9b9ff" stroke="#7777ff" stroke-width="3.0" stroke-linejoin="round"/>
<path d="M1000.9 611.2L1007.1 622.9L994.7 622.9Z" fill="#b9b9ff" stroke="#7777ff" stroke-width="3.0" stroke-linejoin="round"/>
<path d="M1000.9 626.8L1007.1 638.5L994.7 638.5Z" fill="#b9b9ff" stroke="#7777ff" stroke-width="3.0" stroke-linejoin="round"/>
<path d="M1000.9 638.7L1007.1 650.4L994.7 650.4Z" fill="#b9b9ff" stroke="#7777ff" stroke-width="3.0" stroke-linejoin="round"/>
<path d="M1000.9 666.2L1007.1 677.8L994.7 677.8Z" fill="#b9b9ff" stroke="#7777ff" stroke-width="3.0" stroke-linejoin="round"/>
<path d="M989.7 681.1L995.9 692.7L983.5 692.7Z" fill="#b9b9ff" stroke="#7777ff" stroke-width="3.0" stroke-linejoin="round"/>
<path d="M1011.7 677.3L1017.9 689.0L1005.5 689.0Z" fill="#b9b9ff" stroke="#7777ff" stroke-width="3.0" stroke-linejoin="round"/>
<path d="M989.7 692.9L995.9 704.6L983.5 704.6Z" fill="#b9b9ff" stroke="#7777ff" stroke-width="3.0" stroke-linejoin="round"/>
<path d="M1011.7 690.0L1017.9 701.6L1005.5 701.6Z" fill="#b9b9ff" stroke="#7777ff" stroke-width="3.0" stroke-linejoin="round"/>
<path d="M1000.1 704.1L1006.3 715.8L993.9 715.8Z" fill="#b9b9ff" stroke="#7777ff" stroke-width="3.0" stroke-linejoin="round"/>
<path d="M1000.9 716.0L1007.1 727.6L994.7 727.6Z" fill="#b9b9ff" stroke="#7777ff" stroke-width="3.0" stroke-linejoin="round"/>
<circle cx="1052.0" cy="702.9" r="5.5" fill="none" stroke="#ff7070" stroke-width="3.1"/>
<circle cx="1074.0" cy="699.1" r="5.5" fill="none" stroke="#ff7070" stroke-width="3.1"/>
<circle cx="1063.0" cy="713.4" r="5.5" fill="none" stroke="#ff7070" stroke-width="3.1"/>
<circle cx="1063.0" cy="728.8" r="5.5" fill="none" stroke="#ff7070" stroke-width="3.1"/>
<circle cx="1074.0" cy="750.8" r="5.5" fill="none" stroke="#ff7070" stroke-width="3.1"/>
<circle cx="1052.0" cy="756.9" r="5.5" fill="none" stroke="#ff7070" stroke-width="3.1"/>
<circle cx="1052.0" cy="773.4" r="5.5" fill="none" stroke="#ff7070" stroke-width="3.1"/>
<circle cx="1074.0" cy="777.2" r="5.5" fill="none" stroke="#ff7070" stroke-width="3.1"/>
<circle cx="1052.0" cy="785.5" r="5.5" fill="none" stroke="#ff7070" stroke-width="3.1"/>
<circle cx="1052.0" cy="824.7" r="5.5" fill="none" stroke="#ff7070" stroke-width="3.1"/>
<circle cx="1074.0" cy="815.6" r="5.5" fill="none" stroke="#ff7070" stroke-width="3.1"/>
<path d="M1124.7 647.0L1130.9 658.6L1118.5 658.6Z" fill="#ffb9b9" stroke="#ff7070" stroke-width="3.0" stroke-linejoin="round"/>
<path d="M1124.7 659.6L1130.9 671.3L1118.5 671.3Z" fill="#ffb9b9" stroke="#ff7070" stroke-width="3.0" stroke-linejoin="round"/>
<path d="M1102.1 680.5L1108.3 692.2L1095.9 692.2Z" fill="#ffb9b9" stroke="#ff7070" stroke-width="3.0" stroke-linejoin="round"/>
<path d="M1124.7 675.0L1130.9 686.7L1118.5 686.7Z" fill="#ffb9b9" stroke="#ff7070" stroke-width="3.0" stroke-linejoin="round"/>
<path d="M1147.6 683.3L1153.8 694.9L1141.4 694.9Z" fill="#ffb9b9" stroke="#ff7070" stroke-width="3.0" stroke-linejoin="round"/>
<path d="M1124.7 699.8L1130.9 711.4L1118.5 711.4Z" fill="#ffb9b9" stroke="#ff7070" stroke-width="3.0" stroke-linejoin="round"/>
<path d="M1124.7 710.3L1130.9 721.9L1118.5 721.9Z" fill="#ffb9b9" stroke="#ff7070" stroke-width="3.0" stroke-linejoin="round"/>
<path d="M1147.6 714.1L1153.8 725.8L1141.4 725.8Z" fill="#ffb9b9" stroke="#ff7070" stroke-width="3.0" stroke-linejoin="round"/>
<path d="M1124.7 721.8L1130.9 733.5L1118.5 733.5Z" fill="#ffb9b9" stroke="#ff7070" stroke-width="3.0" stroke-linejoin="round"/>
<path d="M1102.1 735.6L1108.3 747.2L1095.9 747.2Z" fill="#ffb9b9" stroke="#ff7070" stroke-width="3.0" stroke-linejoin="round"/>
<path d="M1147.6 744.4L1153.8 756.0L1141.4 756.0Z" fill="#ffb9b9" stroke="#ff7070" stroke-width="3.0" stroke-linejoin="round"/>
<path d="M1124.7 747.7L1130.9 759.3L1118.5 759.3Z" fill="#ffb9b9" stroke="#ff7070" stroke-width="3.0" stroke-linejoin="round"/>
<path d="M1124.7 772.4L1130.9 784.1L1118.5 784.1Z" fill="#ffb9b9" stroke="#ff7070" stroke-width="3.0" stroke-linejoin="round"/>
<path d="M1124.7 784.6L1130.9 796.2L1118.5 796.2Z" fill="#ffb9b9" stroke="#ff7070" stroke-width="3.0" stroke-linejoin="round"/>
<line x1="938.9" y1="718.9" x2="938.9" y2="776.1" stroke="#0000c2" stroke-width="2.7" stroke-linecap="butt"/>
<line x1="924.8" y1="718.9" x2="953.0" y2="718.9" stroke="#0000c2" stroke-width="2.7" stroke-linecap="butt"/>
<line x1="924.8" y1="776.1" x2="953.0" y2="776.1" stroke="#0000c2" stroke-width="2.7" stroke-linecap="butt"/>
<line x1="1000.9" y1="585.1" x2="1000.9" y2="716.7" stroke="#0000c2" stroke-width="2.7" stroke-linecap="butt"/>
<line x1="986.8" y1="585.1" x2="1015.0" y2="585.1" stroke="#0000c2" stroke-width="2.7" stroke-linecap="butt"/>
<line x1="986.8" y1="716.7" x2="1015.0" y2="716.7" stroke="#0000c2" stroke-width="2.7" stroke-linecap="butt"/>
<line x1="1063.0" y1="714.5" x2="1063.0" y2="799.8" stroke="#a00000" stroke-width="2.7" stroke-linecap="butt"/>
<line x1="1048.9" y1="714.5" x2="1077.1" y2="714.5" stroke="#a00000" stroke-width="2.7" stroke-linecap="butt"/>
<line x1="1048.9" y1="799.8" x2="1077.1" y2="799.8" stroke="#a00000" stroke-width="2.7" stroke-linecap="butt"/>
<line x1="1124.7" y1="676.3" x2="1124.7" y2="758.8" stroke="#a00000" stroke-width="2.7" stroke-linecap="butt"/>
<line x1="1110.6" y1="676.3" x2="1138.8" y2="676.3" stroke="#a00000" stroke-width="2.7" stroke-linecap="butt"/>
<line x1="1110.6" y1="758.8" x2="1138.8" y2="758.8" stroke="#a00000" stroke-width="2.7" stroke-linecap="butt"/>
<text transform="translate(34.7,1134.9) rotate(-90)" font-size="24.5" font-weight="bold" text-anchor="middle" textLength="161.8" lengthAdjust="spacingAndGlyphs" fill="#000">LV/BW (mg/g)</text>
<rect x="99.5" y="1228.2" width="43.9" height="88.2" fill="#bfbfff" stroke="#3535ff" stroke-width="2.7"/>
<rect x="152.2" y="1099.3" width="43.9" height="217.2" fill="url(#hb)" stroke="#3535ff" stroke-width="2.7"/>
<rect x="204.7" y="1225.1" width="44.0" height="91.4" fill="#ffbfbf" stroke="#ff3535" stroke-width="2.7"/>
<rect x="257.4" y="1141.9" width="44.0" height="174.6" fill="url(#hr)" stroke="#ff3535" stroke-width="2.7"/>
<line x1="73.5" y1="962.9" x2="73.5" y2="1316.5" stroke="#000" stroke-width="4.5" stroke-linecap="butt"/>
<line x1="67.2" y1="1316.5" x2="327.7" y2="1316.5" stroke="#000" stroke-width="4.5" stroke-linecap="butt"/>
<line x1="67.2" y1="965.1" x2="75.8" y2="965.1" stroke="#000" stroke-width="4.5" stroke-linecap="butt"/>
<line x1="67.2" y1="1082.2" x2="75.8" y2="1082.2" stroke="#000" stroke-width="4.5" stroke-linecap="butt"/>
<line x1="67.2" y1="1199.4" x2="75.8" y2="1199.4" stroke="#000" stroke-width="4.5" stroke-linecap="butt"/>
<text x="65.6" y="970.9" font-size="16.3" font-weight="bold" text-anchor="end" fill="#000">15</text>
<text x="65.6" y="1088.0" font-size="16.3" font-weight="bold" text-anchor="end" fill="#000">10</text>
<text x="65.6" y="1205.2" font-size="16.3" font-weight="bold" text-anchor="end" fill="#000">5</text>
<text x="65.6" y="1322.3" font-size="16.3" font-weight="bold" text-anchor="end" fill="#000">0</text>
<line x1="112.0" y1="979.4" x2="172.8" y2="979.4" stroke="#000" stroke-width="4.6" stroke-linecap="butt"/>
<path d="M123.00 961.47V969.03M119.68 963.33L126.32 967.17M119.68 967.17L126.32 963.33" stroke="#000" stroke-width="2.02" stroke-linecap="round" fill="none"/>
<path d="M135.70 961.47V969.03M132.38 963.33L139.02 967.17M132.38 967.17L139.02 963.33" stroke="#000" stroke-width="2.02" stroke-linecap="round" fill="none"/>
<path d="M148.40 961.47V969.03M145.08 963.33L151.72 967.17M145.08 967.17L151.72 963.33" stroke="#000" stroke-width="2.02" stroke-linecap="round" fill="none"/>
<path d="M161.10 961.47V969.03M157.78 963.33L164.42 967.17M157.78 967.17L164.42 963.33" stroke="#000" stroke-width="2.02" stroke-linecap="round" fill="none"/>
<line x1="170.8" y1="945.6" x2="281.2" y2="945.6" stroke="#000" stroke-width="4.6" stroke-linecap="butt"/>
<path d="M219.40 927.27V934.83M216.08 929.13L222.72 932.97M216.08 932.97L222.72 929.13" stroke="#000" stroke-width="2.02" stroke-linecap="round" fill="none"/>
<path d="M232.30 927.27V934.83M228.98 929.13L235.62 932.97M228.98 932.97L235.62 929.13" stroke="#000" stroke-width="2.02" stroke-linecap="round" fill="none"/>
<line x1="221.7" y1="1059.5" x2="282.8" y2="1059.5" stroke="#000" stroke-width="4.6" stroke-linecap="butt"/>
<path d="M233.00 1041.37V1048.93M229.68 1043.23L236.32 1047.07M229.68 1047.07L236.32 1043.23" stroke="#000" stroke-width="2.02" stroke-linecap="round" fill="none"/>
<path d="M245.70 1041.37V1048.93M242.38 1043.23L249.02 1047.07M242.38 1047.07L249.02 1043.23" stroke="#000" stroke-width="2.02" stroke-linecap="round" fill="none"/>
<path d="M258.40 1041.37V1048.93M255.08 1043.23L261.72 1047.07M255.08 1047.07L261.72 1043.23" stroke="#000" stroke-width="2.02" stroke-linecap="round" fill="none"/>
<path d="M271.10 1041.37V1048.93M267.78 1043.23L274.42 1047.07M267.78 1047.07L274.42 1043.23" stroke="#000" stroke-width="2.02" stroke-linecap="round" fill="none"/>
<circle cx="120.7" cy="1202.0" r="4.3" fill="none" stroke="#7777ff" stroke-width="2.5"/>
<circle cx="117.8" cy="1210.7" r="4.3" fill="none" stroke="#7777ff" stroke-width="2.5"/>
<circle cx="106.9" cy="1218.9" r="4.3" fill="none" stroke="#7777ff" stroke-width="2.5"/>
<circle cx="134.5" cy="1217.6" r="4.3" fill="none" stroke="#7777ff" stroke-width="2.5"/>
<circle cx="100.7" cy="1222.7" r="4.3" fill="none" stroke="#7777ff" stroke-width="2.5"/>
<circle cx="127.6" cy="1222.7" r="4.3" fill="none" stroke="#7777ff" stroke-width="2.5"/>
<circle cx="100.7" cy="1235.2" r="4.3" fill="none" stroke="#7777ff" stroke-width="2.5"/>
<circle cx="111.3" cy="1232.1" r="4.3" fill="none" stroke="#7777ff" stroke-width="2.5"/>
<circle cx="120.7" cy="1231.4" r="4.3" fill="none" stroke="#7777ff" stroke-width="2.5"/>
<circle cx="128.9" cy="1230.8" r="4.3" fill="none" stroke="#7777ff" stroke-width="2.5"/>
<circle cx="140.2" cy="1234.6" r="4.3" fill="none" stroke="#7777ff" stroke-width="2.5"/>
<circle cx="106.9" cy="1237.7" r="4.3" fill="none" stroke="#7777ff" stroke-width="2.5"/>
<circle cx="123.9" cy="1240.2" r="4.3" fill="none" stroke="#7777ff" stroke-width="2.5"/>
<circle cx="133.9" cy="1239.6" r="4.3" fill="none" stroke="#7777ff" stroke-width="2.5"/>
<path d="M174.0 993.6L178.9 1002.7L169.2 1002.7Z" fill="#b9b9ff" stroke="#7777ff" stroke-width="2.2" stroke-linejoin="round"/>
<path d="M174.0 1028.1L178.9 1037.2L169.2 1037.2Z" fill="#b9b9ff" stroke="#7777ff" stroke-width="2.2" stroke-linejoin="round"/>
<path d="M165.9 1083.9L170.7 1093.0L161.0 1093.0Z" fill="#b9b9ff" stroke="#7777ff" stroke-width="2.2" stroke-linejoin="round"/>
<path d="M182.6 1077.6L187.4 1086.7L177.7 1086.7Z" fill="#b9b9ff" stroke="#7777ff" stroke-width="2.2" stroke-linejoin="round"/>
<path d="M182.6 1090.2L187.4 1099.3L177.7 1099.3Z" fill="#b9b9ff" stroke="#7777ff" stroke-width="2.2" stroke-linejoin="round"/>
<path d="M165.9 1098.9L170.7 1108.0L161.0 1108.0Z" fill="#b9b9ff" stroke="#7777ff" stroke-width="2.2" stroke-linejoin="round"/>
<path d="M182.6 1100.8L187.4 1109.9L177.7 1109.9Z" fill="#b9b9ff" stroke="#7777ff" stroke-width="2.2" stroke-linejoin="round"/>
<path d="M165.9 1110.2L170.7 1119.3L161.0 1119.3Z" fill="#b9b9ff" stroke="#7777ff" stroke-width="2.2" stroke-linejoin="round"/>
<path d="M182.6 1110.8L187.4 1120.0L177.7 1120.0Z" fill="#b9b9ff" stroke="#7777ff" stroke-width="2.2" stroke-linejoin="round"/>
<path d="M174.0 1122.8L178.9 1131.9L169.2 1131.9Z" fill="#b9b9ff" stroke="#7777ff" stroke-width="2.2" stroke-linejoin="round"/>
<path d="M174.0 1140.9L178.9 1150.0L169.2 1150.0Z" fill="#b9b9ff" stroke="#7777ff" stroke-width="2.2" stroke-linejoin="round"/>
<path d="M174.0 1161.0L178.9 1170.1L169.2 1170.1Z" fill="#b9b9ff" stroke="#7777ff" stroke-width="2.2" stroke-linejoin="round"/>
<circle cx="226.5" cy="1202.4" r="4.3" fill="none" stroke="#ff7070" stroke-width="2.5"/>
<circle cx="217.0" cy="1208.4" r="4.3" fill="none" stroke="#ff7070" stroke-width="2.5"/>
<circle cx="206.8" cy="1215.9" r="4.3" fill="none" stroke="#ff7070" stroke-width="2.5"/>
<circle cx="236.6" cy="1218.6" r="4.3" fill="none" stroke="#ff7070" stroke-width="2.5"/>
<circle cx="226.6" cy="1220.8" r="4.3" fill="none" stroke="#ff7070" stroke-width="2.5"/>
<circle cx="207.1" cy="1226.9" r="4.3" fill="none" stroke="#ff7070" stroke-width="2.5"/>
<circle cx="217.0" cy="1227.4" r="4.3" fill="none" stroke="#ff7070" stroke-width="2.5"/>
<circle cx="226.9" cy="1228.0" r="4.3" fill="none" stroke="#ff7070" stroke-width="2.5"/>
<circle cx="236.3" cy="1228.8" r="4.3" fill="none" stroke="#ff7070" stroke-width="2.5"/>
<circle cx="246.5" cy="1227.4" r="4.3" fill="none" stroke="#ff7070" stroke-width="2.5"/>
<circle cx="217.0" cy="1237.1" r="4.3" fill="none" stroke="#ff7070" stroke-width="2.5"/>
<circle cx="226.9" cy="1235.1" r="4.3" fill="none" stroke="#ff7070" stroke-width="2.5"/>
<circle cx="236.8" cy="1234.0" r="4.3" fill="none" stroke="#ff7070" stroke-width="2.5"/>
<path d="M279.2 1073.4L284.1 1082.5L274.4 1082.5Z" fill="#ffb9b9" stroke="#ff7070" stroke-width="2.2" stroke-linejoin="round"/>
<path d="M279.2 1097.3L284.1 1106.4L274.4 1106.4Z" fill="#ffb9b9" stroke="#ff7070" stroke-width="2.2" stroke-linejoin="round"/>
<path d="M259.8 1126.5L264.6 1135.6L254.9 1135.6Z" fill="#ffb9b9" stroke="#ff7070" stroke-width="2.2" stroke-linejoin="round"/>
<path d="M272.9 1125.0L277.7 1134.1L268.1 1134.1Z" fill="#ffb9b9" stroke="#ff7070" stroke-width="2.2" stroke-linejoin="round"/>
<path d="M286.0 1124.1L290.9 1133.2L281.2 1133.2Z" fill="#ffb9b9" stroke="#ff7070" stroke-width="2.2" stroke-linejoin="round"/>
<path d="M299.0 1124.1L303.8 1133.2L294.2 1133.2Z" fill="#ffb9b9" stroke="#ff7070" stroke-width="2.2" stroke-linejoin="round"/>
<path d="M272.9 1131.8L277.7 1140.9L268.1 1140.9Z" fill="#ffb9b9" stroke="#ff7070" stroke-width="2.2" stroke-linejoin="round"/>
<path d="M286.0 1133.3L290.9 1142.4L281.2 1142.4Z" fill="#ffb9b9" stroke="#ff7070" stroke-width="2.2" stroke-linejoin="round"/>
<path d="M259.8 1139.6L264.6 1148.7L254.9 1148.7Z" fill="#ffb9b9" stroke="#ff7070" stroke-width="2.2" stroke-linejoin="round"/>
<path d="M272.9 1144.0L277.7 1153.1L268.1 1153.1Z" fill="#ffb9b9" stroke="#ff7070" stroke-width="2.2" stroke-linejoin="round"/>
<path d="M286.0 1148.9L290.9 1158.0L281.2 1158.0Z" fill="#ffb9b9" stroke="#ff7070" stroke-width="2.2" stroke-linejoin="round"/>
<path d="M272.9 1168.4L277.7 1177.5L268.1 1177.5Z" fill="#ffb9b9" stroke="#ff7070" stroke-width="2.2" stroke-linejoin="round"/>
<path d="M286.0 1168.4L290.9 1177.5L281.2 1177.5Z" fill="#ffb9b9" stroke="#ff7070" stroke-width="2.2" stroke-linejoin="round"/>
<path d="M279.2 1184.9L284.1 1194.0L274.4 1194.0Z" fill="#ffb9b9" stroke="#ff7070" stroke-width="2.2" stroke-linejoin="round"/>
<line x1="120.7" y1="1216.4" x2="120.7" y2="1236.5" stroke="#0000c2" stroke-width="2.7" stroke-linecap="butt"/>
<line x1="108.8" y1="1216.4" x2="132.6" y2="1216.4" stroke="#0000c2" stroke-width="2.7" stroke-linecap="butt"/>
<line x1="108.8" y1="1236.5" x2="132.6" y2="1236.5" stroke="#0000c2" stroke-width="2.7" stroke-linecap="butt"/>
<line x1="174.0" y1="1051.9" x2="174.0" y2="1142.4" stroke="#0000c2" stroke-width="2.7" stroke-linecap="butt"/>
<line x1="162.1" y1="1051.9" x2="185.9" y2="1051.9" stroke="#0000c2" stroke-width="2.7" stroke-linecap="butt"/>
<line x1="162.1" y1="1142.4" x2="185.9" y2="1142.4" stroke="#0000c2" stroke-width="2.7" stroke-linecap="butt"/>
<line x1="226.5" y1="1212.8" x2="226.5" y2="1233.2" stroke="#a00000" stroke-width="2.7" stroke-linecap="butt"/>
<line x1="214.6" y1="1212.8" x2="238.4" y2="1212.8" stroke="#a00000" stroke-width="2.7" stroke-linecap="butt"/>
<line x1="214.6" y1="1233.2" x2="238.4" y2="1233.2" stroke="#a00000" stroke-width="2.7" stroke-linecap="butt"/>
<line x1="279.5" y1="1111.2" x2="279.5" y2="1167.5" stroke="#a00000" stroke-width="2.7" stroke-linecap="butt"/>
<line x1="267.6" y1="1111.2" x2="291.4" y2="1111.2" stroke="#a00000" stroke-width="2.7" stroke-linecap="butt"/>
<line x1="267.6" y1="1167.5" x2="291.4" y2="1167.5" stroke="#a00000" stroke-width="2.7" stroke-linecap="butt"/>
<text transform="translate(418.4,1136.5) rotate(-90)" font-size="25" font-weight="bold" text-anchor="middle" textLength="311.2" lengthAdjust="spacingAndGlyphs" fill="#000">Fractional  Shortening (%)</text>
<rect x="491.2" y="1086.2" width="56.6" height="230.7" fill="#bfbfff" stroke="#3535ff" stroke-width="2.7"/>
<rect x="558.0" y="1164.9" width="55.9" height="152.0" fill="url(#hb)" stroke="#3535ff" stroke-width="2.7"/>
<rect x="624.4" y="1073.8" width="56.3" height="243.2" fill="#ffbfbf" stroke="#ff3535" stroke-width="2.7"/>
<rect x="691.1" y="1110.8" width="56.6" height="206.2" fill="url(#hr)" stroke="#ff3535" stroke-width="2.7"/>
<line x1="458.6" y1="963.4" x2="458.6" y2="1316.9" stroke="#000" stroke-width="4.5" stroke-linecap="butt"/>
<line x1="451.2" y1="1316.9" x2="767.6" y2="1316.9" stroke="#000" stroke-width="4.5" stroke-linecap="butt"/>
<line x1="451.2" y1="965.6" x2="460.9" y2="965.6" stroke="#000" stroke-width="4.5" stroke-linecap="butt"/>
<line x1="451.2" y1="1053.4" x2="460.9" y2="1053.4" stroke="#000" stroke-width="4.5" stroke-linecap="butt"/>
<line x1="451.2" y1="1141.2" x2="460.9" y2="1141.2" stroke="#000" stroke-width="4.5" stroke-linecap="butt"/>
<line x1="451.2" y1="1229.1" x2="460.9" y2="1229.1" stroke="#000" stroke-width="4.5" stroke-linecap="butt"/>
<text x="449.0" y="972.6" font-size="19.5" font-weight="bold" text-anchor="end" fill="#000">40</text>
<text x="449.0" y="1060.4" font-size="19.5" font-weight="bold" text-anchor="end" fill="#000">30</text>
<text x="449.0" y="1148.2" font-size="19.5" font-weight="bold" text-anchor="end" fill="#000">20</text>
<text x="449.0" y="1236.1" font-size="19.5" font-weight="bold" text-anchor="end" fill="#000">10</text>
<text x="449.0" y="1323.9" font-size="19.5" font-weight="bold" text-anchor="end" fill="#000">0</text>
<line x1="577.7" y1="933.2" x2="715.9" y2="933.2" stroke="#000" stroke-width="4.6" stroke-linecap="butt"/>
<path d="M638.60 911.39V920.21M634.73 913.57L642.47 918.03M634.73 918.03L642.47 913.57" stroke="#000" stroke-width="2.35" stroke-linecap="round" fill="none"/>
<path d="M654.60 911.39V920.21M650.73 913.57L658.47 918.03M650.73 918.03L658.47 913.57" stroke="#000" stroke-width="2.35" stroke-linecap="round" fill="none"/>
<line x1="652.2" y1="974.6" x2="719.8" y2="974.6" stroke="#000" stroke-width="4.6" stroke-linecap="butt"/>
<text x="687.1" y="966.7" font-size="24" font-weight="normal" text-anchor="middle" textLength="25.7" lengthAdjust="spacingAndGlyphs" fill="#000">ns</text>
<line x1="510.6" y1="1011.3" x2="579.0" y2="1011.3" stroke="#000" stroke-width="4.6" stroke-linecap="butt"/>
<path d="M521.20 988.79V997.61M517.33 990.97L525.07 995.43M517.33 995.43L525.07 990.97" stroke="#000" stroke-width="2.35" stroke-linecap="round" fill="none"/>
<path d="M536.60 988.79V997.61M532.73 990.97L540.47 995.43M532.73 995.43L540.47 990.97" stroke="#000" stroke-width="2.35" stroke-linecap="round" fill="none"/>
<path d="M552.00 988.79V997.61M548.13 990.97L555.87 995.43M548.13 995.43L555.87 990.97" stroke="#000" stroke-width="2.35" stroke-linecap="round" fill="none"/>
<path d="M567.40 988.79V997.61M563.53 990.97L571.27 995.43M563.53 995.43L571.27 990.97" stroke="#000" stroke-width="2.35" stroke-linecap="round" fill="none"/>
<circle cx="511.1" cy="1034.0" r="5.5" fill="none" stroke="#7777ff" stroke-width="3.1"/>
<circle cx="527.7" cy="1041.9" r="5.5" fill="none" stroke="#7777ff" stroke-width="3.1"/>
<circle cx="544.6" cy="1053.8" r="5.5" fill="none" stroke="#7777ff" stroke-width="3.1"/>
<circle cx="511.1" cy="1059.1" r="5.5" fill="none" stroke="#7777ff" stroke-width="3.1"/>
<circle cx="527.7" cy="1059.7" r="5.5" fill="none" stroke="#7777ff" stroke-width="3.1"/>
<circle cx="494.3" cy="1072.8" r="5.5" fill="none" stroke="#7777ff" stroke-width="3.1"/>
<circle cx="511.1" cy="1071.6" r="5.5" fill="none" stroke="#7777ff" stroke-width="3.1"/>
<circle cx="527.7" cy="1079.3" r="5.5" fill="none" stroke="#7777ff" stroke-width="3.1"/>
<circle cx="511.1" cy="1094.1" r="5.5" fill="none" stroke="#7777ff" stroke-width="3.1"/>
<circle cx="527.7" cy="1091.1" r="5.5" fill="none" stroke="#7777ff" stroke-width="3.1"/>
<circle cx="511.1" cy="1107.1" r="5.5" fill="none" stroke="#7777ff" stroke-width="3.1"/>
<circle cx="527.7" cy="1108.9" r="5.5" fill="none" stroke="#7777ff" stroke-width="3.1"/>
<circle cx="494.3" cy="1110.1" r="5.5" fill="none" stroke="#7777ff" stroke-width="3.1"/>
<circle cx="544.6" cy="1116.0" r="5.5" fill="none" stroke="#7777ff" stroke-width="3.1"/>
<circle cx="527.7" cy="1121.4" r="5.5" fill="none" stroke="#7777ff" stroke-width="3.1"/>
<circle cx="494.3" cy="1125.5" r="5.5" fill="none" stroke="#7777ff" stroke-width="3.1"/>
<path d="M585.9 1081.1L592.1 1092.8L579.7 1092.8Z" fill="#b9b9ff" stroke="#7777ff" stroke-width="3.0" stroke-linejoin="round"/>
<path d="M585.9 1117.8L592.1 1129.5L579.7 1129.5Z" fill="#b9b9ff" stroke="#7777ff" stroke-width="3.0" stroke-linejoin="round"/>
<path d="M566.0 1139.8L572.2 1151.5L559.8 1151.5Z" fill="#b9b9ff" stroke="#7777ff" stroke-width="3.0" stroke-linejoin="round"/>
<path d="M585.9 1136.2L592.1 1147.9L579.7 1147.9Z" fill="#b9b9ff" stroke="#7777ff" stroke-width="3.0" stroke-linejoin="round"/>
<path d="M605.9 1132.1L612.1 1143.8L599.7 1143.8Z" fill="#b9b9ff" stroke="#7777ff" stroke-width="3.0" stroke-linejoin="round"/>
<path d="M605.9 1146.9L612.1 1158.6L599.7 1158.6Z" fill="#b9b9ff" stroke="#7777ff" stroke-width="3.0" stroke-linejoin="round"/>
<path d="M585.9 1151.6L592.1 1163.3L579.7 1163.3Z" fill="#b9b9ff" stroke="#7777ff" stroke-width="3.0" stroke-linejoin="round"/>
<path d="M576.0 1177.1L582.2 1188.8L569.8 1188.8Z" fill="#b9b9ff" stroke="#7777ff" stroke-width="3.0" stroke-linejoin="round"/>
<path d="M596.0 1182.1L602.2 1193.8L589.8 1193.8Z" fill="#b9b9ff" stroke="#7777ff" stroke-width="3.0" stroke-linejoin="round"/>
<path d="M586.0 1198.1L592.2 1209.8L579.8 1209.8Z" fill="#b9b9ff" stroke="#7777ff" stroke-width="3.0" stroke-linejoin="round"/>
<path d="M596.0 1210.1L602.2 1221.8L589.8 1221.8Z" fill="#b9b9ff" stroke="#7777ff" stroke-width="3.0" stroke-linejoin="round"/>
<path d="M576.0 1218.1L582.2 1229.8L569.8 1229.8Z" fill="#b9b9ff" stroke="#7777ff" stroke-width="3.0" stroke-linejoin="round"/>
<circle cx="652.5" cy="994.1" r="5.5" fill="none" stroke="#ff7070" stroke-width="3.1"/>
<circle cx="642.5" cy="1035.0" r="5.5" fill="none" stroke="#ff7070" stroke-width="3.1"/>
<circle cx="662.4" cy="1033.2" r="5.5" fill="none" stroke="#ff7070" stroke-width="3.1"/>
<circle cx="632.4" cy="1049.8" r="5.5" fill="none" stroke="#ff7070" stroke-width="3.1"/>
<circle cx="652.3" cy="1058.3" r="5.5" fill="none" stroke="#ff7070" stroke-width="3.1"/>
<circle cx="652.3" cy="1076.8" r="5.5" fill="none" stroke="#ff7070" stroke-width="3.1"/>
<circle cx="632.4" cy="1096.0" r="5.5" fill="none" stroke="#ff7070" stroke-width="3.1"/>
<circle cx="672.5" cy="1102.0" r="5.5" fill="none" stroke="#ff7070" stroke-width="3.1"/>
<circle cx="652.3" cy="1108.5" r="5.5" fill="none" stroke="#ff7070" stroke-width="3.1"/>
<circle cx="632.4" cy="1116.8" r="5.5" fill="none" stroke="#ff7070" stroke-width="3.1"/>
<circle cx="672.5" cy="1115.9" r="5.5" fill="none" stroke="#ff7070" stroke-width="3.1"/>
<path d="M719.1 1004.2L725.3 1015.9L712.9 1015.9Z" fill="#ffb9b9" stroke="#ff7070" stroke-width="3.0" stroke-linejoin="round"/>
<path d="M719.1 1022.6L725.3 1034.3L712.9 1034.3Z" fill="#ffb9b9" stroke="#ff7070" stroke-width="3.0" stroke-linejoin="round"/>
<path d="M709.0 1069.4L715.2 1081.1L702.8 1081.1Z" fill="#ffb9b9" stroke="#ff7070" stroke-width="3.0" stroke-linejoin="round"/>
<path d="M729.2 1069.4L735.4 1081.1L723.0 1081.1Z" fill="#ffb9b9" stroke="#ff7070" stroke-width="3.0" stroke-linejoin="round"/>
<path d="M719.1 1093.7L725.3 1105.4L712.9 1105.4Z" fill="#ffb9b9" stroke="#ff7070" stroke-width="3.0" stroke-linejoin="round"/>
<path d="M709.0 1104.9L715.2 1116.6L702.8 1116.6Z" fill="#ffb9b9" stroke="#ff7070" stroke-width="3.0" stroke-linejoin="round"/>
<path d="M729.2 1106.7L735.4 1118.4L723.0 1118.4Z" fill="#ffb9b9" stroke="#ff7070" stroke-width="3.0" stroke-linejoin="round"/>
<path d="M719.1 1118.6L725.3 1130.3L712.9 1130.3Z" fill="#ffb9b9" stroke="#ff7070" stroke-width="3.0" stroke-linejoin="round"/>
<path d="M698.9 1131.6L705.1 1143.3L692.7 1143.3Z" fill="#ffb9b9" stroke="#ff7070" stroke-width="3.0" stroke-linejoin="round"/>
<path d="M739.2 1126.3L745.4 1138.0L733.0 1138.0Z" fill="#ffb9b9" stroke="#ff7070" stroke-width="3.0" stroke-linejoin="round"/>
<path d="M719.1 1135.8L725.3 1147.5L712.9 1147.5Z" fill="#ffb9b9" stroke="#ff7070" stroke-width="3.0" stroke-linejoin="round"/>
<path d="M709.0 1145.2L715.2 1156.9L702.8 1156.9Z" fill="#ffb9b9" stroke="#ff7070" stroke-width="3.0" stroke-linejoin="round"/>
<path d="M729.2 1147.0L735.4 1158.7L723.0 1158.7Z" fill="#ffb9b9" stroke="#ff7070" stroke-width="3.0" stroke-linejoin="round"/>
<path d="M719.1 1164.2L725.3 1175.9L712.9 1175.9Z" fill="#ffb9b9" stroke="#ff7070" stroke-width="3.0" stroke-linejoin="round"/>
<line x1="519.2" y1="1055.2" x2="519.2" y2="1113.4" stroke="#0000c2" stroke-width="2.7" stroke-linecap="butt"/>
<line x1="504.2" y1="1055.2" x2="534.2" y2="1055.2" stroke="#0000c2" stroke-width="2.7" stroke-linecap="butt"/>
<line x1="504.2" y1="1113.4" x2="534.2" y2="1113.4" stroke="#0000c2" stroke-width="2.7" stroke-linecap="butt"/>
<line x1="585.9" y1="1122.9" x2="585.9" y2="1202.6" stroke="#0000c2" stroke-width="2.7" stroke-linecap="butt"/>
<line x1="570.9" y1="1122.9" x2="600.9" y2="1122.9" stroke="#0000c2" stroke-width="2.7" stroke-linecap="butt"/>
<line x1="570.9" y1="1202.6" x2="600.9" y2="1202.6" stroke="#0000c2" stroke-width="2.7" stroke-linecap="butt"/>
<line x1="652.3" y1="1030.6" x2="652.3" y2="1111.7" stroke="#a00000" stroke-width="2.7" stroke-linecap="butt"/>
<line x1="637.3" y1="1030.6" x2="667.3" y2="1030.6" stroke="#a00000" stroke-width="2.7" stroke-linecap="butt"/>
<line x1="637.3" y1="1111.7" x2="667.3" y2="1111.7" stroke="#a00000" stroke-width="2.7" stroke-linecap="butt"/>
<line x1="719.1" y1="1061.6" x2="719.1" y2="1155.3" stroke="#a00000" stroke-width="2.7" stroke-linecap="butt"/>
<line x1="704.1" y1="1061.6" x2="734.1" y2="1061.6" stroke="#a00000" stroke-width="2.7" stroke-linecap="butt"/>
<line x1="704.1" y1="1155.3" x2="734.1" y2="1155.3" stroke="#a00000" stroke-width="2.7" stroke-linecap="butt"/>
<text transform="translate(836.0,1111.7) rotate(-90)" font-size="25.4" font-weight="bold" text-anchor="middle" textLength="242.7" lengthAdjust="spacingAndGlyphs" fill="#000">Ejection Fraction (%)</text>
<rect x="914.4" y="1115.2" width="49.9" height="199.2" fill="#bfbfff" stroke="#3535ff" stroke-width="2.7"/>
<rect x="977.1" y="1214.9" width="49.9" height="99.6" fill="url(#hb)" stroke="#3535ff" stroke-width="2.7"/>
<rect x="1039.8" y="1101.8" width="49.1" height="212.7" fill="#ffbfbf" stroke="#ff3535" stroke-width="2.7"/>
<rect x="1101.8" y="1146.3" width="49.8" height="168.2" fill="url(#hr)" stroke="#ff3535" stroke-width="2.7"/>
<line x1="885.5" y1="938.0" x2="885.5" y2="1314.5" stroke="#000" stroke-width="4.5" stroke-linecap="butt"/>
<line x1="873.1" y1="1314.5" x2="1168.8" y2="1314.5" stroke="#000" stroke-width="4.5" stroke-linecap="butt"/>
<line x1="873.1" y1="940.3" x2="887.8" y2="940.3" stroke="#000" stroke-width="4.5" stroke-linecap="butt"/>
<line x1="873.1" y1="1065.0" x2="887.8" y2="1065.0" stroke="#000" stroke-width="4.5" stroke-linecap="butt"/>
<line x1="873.1" y1="1189.7" x2="887.8" y2="1189.7" stroke="#000" stroke-width="4.5" stroke-linecap="butt"/>
<text x="871.3" y="948.4" font-size="22.5" font-weight="bold" text-anchor="end" fill="#000">80</text>
<text x="871.3" y="1073.1" font-size="22.5" font-weight="bold" text-anchor="end" fill="#000">60</text>
<text x="871.3" y="1197.8" font-size="22.5" font-weight="bold" text-anchor="end" fill="#000">40</text>
<text x="871.3" y="1322.6" font-size="22.5" font-weight="bold" text-anchor="end" fill="#000">20</text>
<line x1="1002.0" y1="936.6" x2="1127.0" y2="936.6" stroke="#000" stroke-width="4.6" stroke-linecap="butt"/>
<path d="M1055.75 911.33V921.67M1051.21 913.88L1060.29 919.12M1051.21 919.12L1060.29 913.88" stroke="#000" stroke-width="2.76" stroke-linecap="round" fill="none"/>
<path d="M1072.85 911.33V921.67M1068.31 913.88L1077.39 919.12M1068.31 919.12L1077.39 913.88" stroke="#000" stroke-width="2.76" stroke-linecap="round" fill="none"/>
<line x1="1064.2" y1="980.0" x2="1127.0" y2="980.0" stroke="#000" stroke-width="4.6" stroke-linecap="butt"/>
<text x="1095.5" y="971.1" font-size="24" font-weight="normal" text-anchor="middle" textLength="24.7" lengthAdjust="spacingAndGlyphs" fill="#000">ns</text>
<line x1="939.8" y1="1021.5" x2="1002.0" y2="1021.5" stroke="#000" stroke-width="4.6" stroke-linecap="butt"/>
<path d="M945.40 996.03V1006.38M940.86 998.58L949.94 1003.82M940.86 1003.82L949.94 998.58" stroke="#000" stroke-width="2.76" stroke-linecap="round" fill="none"/>
<path d="M962.20 996.03V1006.38M957.66 998.58L966.74 1003.82M957.66 1003.82L966.74 998.58" stroke="#000" stroke-width="2.76" stroke-linecap="round" fill="none"/>
<path d="M979.00 996.03V1006.38M974.46 998.58L983.54 1003.82M974.46 1003.82L983.54 998.58" stroke="#000" stroke-width="2.76" stroke-linecap="round" fill="none"/>
<path d="M995.80 996.03V1006.38M991.26 998.58L1000.34 1003.82M991.26 1003.82L1000.34 998.58" stroke="#000" stroke-width="2.76" stroke-linecap="round" fill="none"/>
<circle cx="939.0" cy="1055.2" r="5.5" fill="none" stroke="#7777ff" stroke-width="3.1"/>
<circle cx="932.0" cy="1067.9" r="5.5" fill="none" stroke="#7777ff" stroke-width="3.1"/>
<circle cx="960.5" cy="1077.3" r="5.5" fill="none" stroke="#7777ff" stroke-width="3.1"/>
<circle cx="932.0" cy="1085.0" r="5.5" fill="none" stroke="#7777ff" stroke-width="3.1"/>
<circle cx="946.3" cy="1083.6" r="5.5" fill="none" stroke="#7777ff" stroke-width="3.1"/>
<circle cx="917.4" cy="1100.7" r="5.5" fill="none" stroke="#7777ff" stroke-width="3.1"/>
<circle cx="932.0" cy="1098.1" r="5.5" fill="none" stroke="#7777ff" stroke-width="3.1"/>
<circle cx="946.3" cy="1105.4" r="5.5" fill="none" stroke="#7777ff" stroke-width="3.1"/>
<circle cx="932.0" cy="1123.9" r="5.5" fill="none" stroke="#7777ff" stroke-width="3.1"/>
<circle cx="946.3" cy="1118.8" r="5.5" fill="none" stroke="#7777ff" stroke-width="3.1"/>
<circle cx="917.4" cy="1144.1" r="5.5" fill="none" stroke="#7777ff" stroke-width="3.1"/>
<circle cx="932.0" cy="1140.2" r="5.5" fill="none" stroke="#7777ff" stroke-width="3.1"/>
<circle cx="946.3" cy="1140.2" r="5.5" fill="none" stroke="#7777ff" stroke-width="3.1"/>
<circle cx="960.5" cy="1149.7" r="5.5" fill="none" stroke="#7777ff" stroke-width="3.1"/>
<circle cx="946.3" cy="1154.4" r="5.5" fill="none" stroke="#7777ff" stroke-width="3.1"/>
<circle cx="917.4" cy="1160.3" r="5.5" fill="none" stroke="#7777ff" stroke-width="3.1"/>
<path d="M1001.3 1112.3L1007.5 1124.0L995.1 1124.0Z" fill="#b9b9ff" stroke="#7777ff" stroke-width="3.0" stroke-linejoin="round"/>
<path d="M1001.3 1154.4L1007.5 1166.1L995.1 1166.1Z" fill="#b9b9ff" stroke="#7777ff" stroke-width="3.0" stroke-linejoin="round"/>
<path d="M980.3 1175.8L986.5 1187.5L974.1 1187.5Z" fill="#b9b9ff" stroke="#7777ff" stroke-width="3.0" stroke-linejoin="round"/>
<path d="M1022.7 1174.6L1028.9 1186.3L1016.5 1186.3Z" fill="#b9b9ff" stroke="#7777ff" stroke-width="3.0" stroke-linejoin="round"/>
<path d="M1001.3 1182.9L1007.5 1194.6L995.1 1194.6Z" fill="#b9b9ff" stroke="#7777ff" stroke-width="3.0" stroke-linejoin="round"/>
<path d="M980.3 1192.4L986.5 1204.1L974.1 1204.1Z" fill="#b9b9ff" stroke="#7777ff" stroke-width="3.0" stroke-linejoin="round"/>
<path d="M1001.3 1200.1L1007.5 1211.8L995.1 1211.8Z" fill="#b9b9ff" stroke="#7777ff" stroke-width="3.0" stroke-linejoin="round"/>
<path d="M980.3 1230.3L986.5 1242.0L974.1 1242.0Z" fill="#b9b9ff" stroke="#7777ff" stroke-width="3.0" stroke-linejoin="round"/>
<path d="M1001.3 1239.8L1007.5 1251.5L995.1 1251.5Z" fill="#b9b9ff" stroke="#7777ff" stroke-width="3.0" stroke-linejoin="round"/>
<path d="M1001.3 1255.2L1007.5 1266.9L995.1 1266.9Z" fill="#b9b9ff" stroke="#7777ff" stroke-width="3.0" stroke-linejoin="round"/>
<path d="M1001.3 1279.1L1007.5 1290.8L995.1 1290.8Z" fill="#b9b9ff" stroke="#7777ff" stroke-width="3.0" stroke-linejoin="round"/>
<path d="M1001.3 1289.1L1007.5 1300.8L995.1 1300.8Z" fill="#b9b9ff" stroke="#7777ff" stroke-width="3.0" stroke-linejoin="round"/>
<circle cx="1064.5" cy="1018.2" r="5.5" fill="none" stroke="#ff7070" stroke-width="3.1"/>
<circle cx="1053.3" cy="1058.9" r="5.5" fill="none" stroke="#ff7070" stroke-width="3.1"/>
<circle cx="1075.4" cy="1057.3" r="5.5" fill="none" stroke="#ff7070" stroke-width="3.1"/>
<circle cx="1053.3" cy="1073.9" r="5.5" fill="none" stroke="#ff7070" stroke-width="3.1"/>
<circle cx="1075.4" cy="1083.4" r="5.5" fill="none" stroke="#ff7070" stroke-width="3.1"/>
<circle cx="1064.5" cy="1100.4" r="5.5" fill="none" stroke="#ff7070" stroke-width="3.1"/>
<circle cx="1053.3" cy="1123.7" r="5.5" fill="none" stroke="#ff7070" stroke-width="3.1"/>
<circle cx="1053.3" cy="1136.8" r="5.5" fill="none" stroke="#ff7070" stroke-width="3.1"/>
<circle cx="1075.4" cy="1134.0" r="5.5" fill="none" stroke="#ff7070" stroke-width="3.1"/>
<circle cx="1053.3" cy="1152.2" r="5.5" fill="none" stroke="#ff7070" stroke-width="3.1"/>
<circle cx="1075.4" cy="1151.6" r="5.5" fill="none" stroke="#ff7070" stroke-width="3.1"/>
<path d="M1127.0 1027.7L1133.2 1039.4L1120.8 1039.4Z" fill="#ffb9b9" stroke="#ff7070" stroke-width="3.0" stroke-linejoin="round"/>
<path d="M1127.0 1048.5L1133.2 1060.2L1120.8 1060.2Z" fill="#ffb9b9" stroke="#ff7070" stroke-width="3.0" stroke-linejoin="round"/>
<path d="M1105.6 1095.9L1111.8 1107.6L1099.4 1107.6Z" fill="#ffb9b9" stroke="#ff7070" stroke-width="3.0" stroke-linejoin="round"/>
<path d="M1127.0 1098.3L1133.2 1110.0L1120.8 1110.0Z" fill="#ffb9b9" stroke="#ff7070" stroke-width="3.0" stroke-linejoin="round"/>
<path d="M1127.0 1126.1L1133.2 1137.8L1120.8 1137.8Z" fill="#ffb9b9" stroke="#ff7070" stroke-width="3.0" stroke-linejoin="round"/>
<path d="M1115.7 1140.9L1121.9 1152.6L1109.5 1152.6Z" fill="#ffb9b9" stroke="#ff7070" stroke-width="3.0" stroke-linejoin="round"/>
<path d="M1137.7 1139.2L1143.9 1150.9L1131.5 1150.9Z" fill="#ffb9b9" stroke="#ff7070" stroke-width="3.0" stroke-linejoin="round"/>
<path d="M1127.0 1154.0L1133.2 1165.7L1120.8 1165.7Z" fill="#ffb9b9" stroke="#ff7070" stroke-width="3.0" stroke-linejoin="round"/>
<path d="M1105.6 1166.4L1111.8 1178.1L1099.4 1178.1Z" fill="#ffb9b9" stroke="#ff7070" stroke-width="3.0" stroke-linejoin="round"/>
<path d="M1148.3 1168.2L1154.5 1179.9L1142.1 1179.9Z" fill="#ffb9b9" stroke="#ff7070" stroke-width="3.0" stroke-linejoin="round"/>
<path d="M1127.0 1174.7L1133.2 1186.4L1120.8 1186.4Z" fill="#ffb9b9" stroke="#ff7070" stroke-width="3.0" stroke-linejoin="round"/>
<path d="M1148.3 1190.1L1154.5 1201.8L1142.1 1201.8Z" fill="#ffb9b9" stroke="#ff7070" stroke-width="3.0" stroke-linejoin="round"/>
<path d="M1127.0 1193.7L1133.2 1205.4L1120.8 1205.4Z" fill="#ffb9b9" stroke="#ff7070" stroke-width="3.0" stroke-linejoin="round"/>
<path d="M1127.0 1213.3L1133.2 1225.0L1120.8 1225.0Z" fill="#ffb9b9" stroke="#ff7070" stroke-width="3.0" stroke-linejoin="round"/>
<line x1="939.0" y1="1079.1" x2="939.0" y2="1145.9" stroke="#0000c2" stroke-width="2.7" stroke-linecap="butt"/>
<line x1="926.3" y1="1079.1" x2="951.7" y2="1079.1" stroke="#0000c2" stroke-width="2.7" stroke-linecap="butt"/>
<line x1="926.3" y1="1145.9" x2="951.7" y2="1145.9" stroke="#0000c2" stroke-width="2.7" stroke-linecap="butt"/>
<line x1="1001.6" y1="1160.3" x2="1001.6" y2="1264.4" stroke="#0000c2" stroke-width="2.7" stroke-linecap="butt"/>
<line x1="988.9" y1="1160.3" x2="1014.3" y2="1160.3" stroke="#0000c2" stroke-width="2.7" stroke-linecap="butt"/>
<line x1="988.9" y1="1264.4" x2="1014.3" y2="1264.4" stroke="#0000c2" stroke-width="2.7" stroke-linecap="butt"/>
<line x1="1064.2" y1="1054.7" x2="1064.2" y2="1144.1" stroke="#a00000" stroke-width="2.7" stroke-linecap="butt"/>
<line x1="1051.5" y1="1054.7" x2="1076.9" y2="1054.7" stroke="#a00000" stroke-width="2.7" stroke-linecap="butt"/>
<line x1="1051.5" y1="1144.1" x2="1076.9" y2="1144.1" stroke="#a00000" stroke-width="2.7" stroke-linecap="butt"/>
<line x1="1126.4" y1="1090.2" x2="1126.4" y2="1197.8" stroke="#a00000" stroke-width="2.7" stroke-linecap="butt"/>
<line x1="1113.7" y1="1090.2" x2="1139.1" y2="1090.2" stroke="#a00000" stroke-width="2.7" stroke-linecap="butt"/>
<line x1="1113.7" y1="1197.8" x2="1139.1" y2="1197.8" stroke="#a00000" stroke-width="2.7" stroke-linecap="butt"/>
<text transform="translate(102.7,1539.3) rotate(-90)" font-size="29.5" font-weight="bold" text-anchor="middle" textLength="160.1" lengthAdjust="spacingAndGlyphs" fill="#000">Normalized</text>
<text transform="translate(138.3,1544.1) rotate(-90)" font-size="29.5" font-weight="bold" text-anchor="middle" textLength="242.8" lengthAdjust="spacingAndGlyphs" fill="#000">Cell Surface Area</text>
<rect x="250.9" y="1546.9" width="73.1" height="174.2" fill="#bfbfff" stroke="#3535ff" stroke-width="3.0"/>
<rect x="338.5" y="1473.7" width="73.7" height="247.4" fill="url(#hb)" stroke="#3535ff" stroke-width="3.0"/>
<rect x="425.7" y="1563.9" width="73.1" height="157.2" fill="#ffbfbf" stroke="#ff3535" stroke-width="3.0"/>
<rect x="512.3" y="1525.6" width="73.2" height="195.5" fill="url(#hr)" stroke="#ff3535" stroke-width="3.0"/>
<line x1="208.0" y1="1365.3" x2="208.0" y2="1721.1" stroke="#000" stroke-width="4.5" stroke-linecap="butt"/>
<line x1="192.8" y1="1721.1" x2="606.0" y2="1721.1" stroke="#000" stroke-width="4.5" stroke-linecap="butt"/>
<line x1="192.8" y1="1367.6" x2="210.2" y2="1367.6" stroke="#000" stroke-width="4.5" stroke-linecap="butt"/>
<line x1="192.8" y1="1455.9" x2="210.2" y2="1455.9" stroke="#000" stroke-width="4.5" stroke-linecap="butt"/>
<line x1="192.8" y1="1544.2" x2="210.2" y2="1544.2" stroke="#000" stroke-width="4.5" stroke-linecap="butt"/>
<line x1="192.8" y1="1632.6" x2="210.2" y2="1632.6" stroke="#000" stroke-width="4.5" stroke-linecap="butt"/>
<text x="189.0" y="1377.1" font-size="26.5" font-weight="bold" text-anchor="end" fill="#000">2.0</text>
<text x="189.0" y="1465.4" font-size="26.5" font-weight="bold" text-anchor="end" fill="#000">1.5</text>
<text x="189.0" y="1553.7" font-size="26.5" font-weight="bold" text-anchor="end" fill="#000">1.0</text>
<text x="189.0" y="1642.1" font-size="26.5" font-weight="bold" text-anchor="end" fill="#000">0.5</text>
<text x="189.0" y="1730.6" font-size="26.5" font-weight="bold" text-anchor="end" fill="#000">0.0</text>
<line x1="279.8" y1="1409.5" x2="370.7" y2="1409.5" stroke="#000" stroke-width="4.9" stroke-linecap="butt"/>
<path d="M325.30 1379.30V1391.90M319.77 1382.41L330.83 1388.79M319.77 1388.79L330.83 1382.41" stroke="#000" stroke-width="3.36" stroke-linecap="round" fill="none"/>
<line x1="370.2" y1="1387.5" x2="549.9" y2="1387.5" stroke="#000" stroke-width="4.9" stroke-linecap="butt"/>
<path d="M459.70 1357.80V1370.40M454.17 1360.91L465.23 1367.29M454.17 1367.29L465.23 1360.91" stroke="#000" stroke-width="3.36" stroke-linecap="round" fill="none"/>
<line x1="462.3" y1="1452.3" x2="549.9" y2="1452.3" stroke="#000" stroke-width="4.9" stroke-linecap="butt"/>
<text x="506.3" y="1434.7" font-size="28" font-weight="normal" text-anchor="middle" textLength="32.4" lengthAdjust="spacingAndGlyphs" fill="#000">ns</text>
<circle cx="273.2" cy="1526.6" r="6.9" fill="none" stroke="#7777ff" stroke-width="3.2"/>
<circle cx="301.7" cy="1525.1" r="6.9" fill="none" stroke="#7777ff" stroke-width="3.2"/>
<circle cx="287.6" cy="1541.8" r="6.9" fill="none" stroke="#7777ff" stroke-width="3.2"/>
<circle cx="287.6" cy="1585.3" r="6.9" fill="none" stroke="#7777ff" stroke-width="3.2"/>
<path d="M360.4 1435.5L368.1 1450.0L352.7 1450.0Z" fill="#b9b9ff" stroke="#7777ff" stroke-width="3.0" stroke-linejoin="round"/>
<path d="M388.6 1430.1L396.3 1444.6L380.9 1444.6Z" fill="#b9b9ff" stroke="#7777ff" stroke-width="3.0" stroke-linejoin="round"/>
<path d="M374.4 1489.6L382.1 1504.1L366.7 1504.1Z" fill="#b9b9ff" stroke="#7777ff" stroke-width="3.0" stroke-linejoin="round"/>
<path d="M374.4 1505.6L382.1 1520.1L366.7 1520.1Z" fill="#b9b9ff" stroke="#7777ff" stroke-width="3.0" stroke-linejoin="round"/>
<circle cx="447.8" cy="1535.7" r="6.9" fill="none" stroke="#ff7070" stroke-width="3.2"/>
<circle cx="476.3" cy="1535.3" r="6.9" fill="none" stroke="#ff7070" stroke-width="3.2"/>
<circle cx="462.2" cy="1575.7" r="6.9" fill="none" stroke="#ff7070" stroke-width="3.2"/>
<circle cx="462.2" cy="1599.3" r="6.9" fill="none" stroke="#ff7070" stroke-width="3.2"/>
<path d="M560.3 1461.7L568.0 1476.2L552.6 1476.2Z" fill="#ffb9b9" stroke="#ff7070" stroke-width="3.0" stroke-linejoin="round"/>
<path d="M538.5 1473.9L546.2 1488.4L530.8 1488.4Z" fill="#ffb9b9" stroke="#ff7070" stroke-width="3.0" stroke-linejoin="round"/>
<path d="M516.8 1521.9L524.5 1536.4L509.1 1536.4Z" fill="#ffb9b9" stroke="#ff7070" stroke-width="3.0" stroke-linejoin="round"/>
<path d="M538.5 1515.8L546.2 1530.2L530.8 1530.2Z" fill="#ffb9b9" stroke="#ff7070" stroke-width="3.0" stroke-linejoin="round"/>
<path d="M560.3 1507.4L568.0 1521.9L552.6 1521.9Z" fill="#ffb9b9" stroke="#ff7070" stroke-width="3.0" stroke-linejoin="round"/>
<path d="M582.2 1512.0L589.9 1526.5L574.5 1526.5Z" fill="#ffb9b9" stroke="#ff7070" stroke-width="3.0" stroke-linejoin="round"/>
<path d="M560.3 1524.9L568.0 1539.4L552.6 1539.4Z" fill="#ffb9b9" stroke="#ff7070" stroke-width="3.0" stroke-linejoin="round"/>
<path d="M516.8 1537.9L524.5 1552.4L509.1 1552.4Z" fill="#ffb9b9" stroke="#ff7070" stroke-width="3.0" stroke-linejoin="round"/>
<path d="M538.5 1551.6L546.2 1566.1L530.8 1566.1Z" fill="#ffb9b9" stroke="#ff7070" stroke-width="3.0" stroke-linejoin="round"/>
<path d="M560.3 1550.8L568.0 1565.2L552.6 1565.2Z" fill="#ffb9b9" stroke="#ff7070" stroke-width="3.0" stroke-linejoin="round"/>
<line x1="287.2" y1="1516.7" x2="287.2" y2="1572.8" stroke="#0000c2" stroke-width="2.2" stroke-linecap="butt"/>
<line x1="267.4" y1="1516.7" x2="307.0" y2="1516.7" stroke="#0000c2" stroke-width="2.2" stroke-linecap="butt"/>
<line x1="267.4" y1="1572.8" x2="307.0" y2="1572.8" stroke="#0000c2" stroke-width="2.2" stroke-linecap="butt"/>
<line x1="374.9" y1="1433.9" x2="374.9" y2="1507.9" stroke="#0000c2" stroke-width="2.2" stroke-linecap="butt"/>
<line x1="355.1" y1="1433.9" x2="394.7" y2="1433.9" stroke="#0000c2" stroke-width="2.2" stroke-linecap="butt"/>
<line x1="355.1" y1="1507.9" x2="394.7" y2="1507.9" stroke="#0000c2" stroke-width="2.2" stroke-linecap="butt"/>
<line x1="462.2" y1="1529.6" x2="462.2" y2="1593.2" stroke="#a00000" stroke-width="2.2" stroke-linecap="butt"/>
<line x1="442.4" y1="1529.6" x2="482.0" y2="1529.6" stroke="#a00000" stroke-width="2.2" stroke-linecap="butt"/>
<line x1="442.4" y1="1593.2" x2="482.0" y2="1593.2" stroke="#a00000" stroke-width="2.2" stroke-linecap="butt"/>
<line x1="549.4" y1="1493.3" x2="549.4" y2="1552.0" stroke="#a00000" stroke-width="2.2" stroke-linecap="butt"/>
<line x1="529.6" y1="1493.3" x2="569.2" y2="1493.3" stroke="#a00000" stroke-width="2.2" stroke-linecap="butt"/>
<line x1="529.6" y1="1552.0" x2="569.2" y2="1552.0" stroke="#a00000" stroke-width="2.2" stroke-linecap="butt"/>
<text transform="translate(34.3,1963.2) rotate(-90)" font-size="28" font-weight="bold" text-anchor="middle" font-style="italic" textLength="76.6" lengthAdjust="spacingAndGlyphs" fill="#000">Acta1</text>
<rect x="105.6" y="2130.3" width="37.8" height="3.9" fill="#bfbfff" stroke="#3535ff" stroke-width="3.2"/>
<rect x="150.5" y="1913.5" width="36.9" height="220.7" fill="url(#hb)" stroke="#3535ff" stroke-width="3.2"/>
<rect x="196.2" y="2130.3" width="36.9" height="3.9" fill="#ffbfbf" stroke="#ff3535" stroke-width="3.2"/>
<rect x="241.4" y="2054.1" width="37.0" height="80.1" fill="url(#hr)" stroke="#ff3535" stroke-width="3.2"/>
<line x1="92.5" y1="1797.0" x2="92.5" y2="2134.2" stroke="#000" stroke-width="4.5" stroke-linecap="butt"/>
<line x1="82.5" y1="2134.2" x2="292.1" y2="2134.2" stroke="#000" stroke-width="4.5" stroke-linecap="butt"/>
<line x1="82.5" y1="1799.3" x2="94.8" y2="1799.3" stroke="#000" stroke-width="4.5" stroke-linecap="butt"/>
<line x1="82.5" y1="1866.3" x2="94.8" y2="1866.3" stroke="#000" stroke-width="4.5" stroke-linecap="butt"/>
<line x1="82.5" y1="1933.2" x2="94.8" y2="1933.2" stroke="#000" stroke-width="4.5" stroke-linecap="butt"/>
<line x1="82.5" y1="2000.2" x2="94.8" y2="2000.2" stroke="#000" stroke-width="4.5" stroke-linecap="butt"/>
<line x1="82.5" y1="2067.2" x2="94.8" y2="2067.2" stroke="#000" stroke-width="4.5" stroke-linecap="butt"/>
<text x="79.4" y="1808.2" font-size="25" font-weight="bold" text-anchor="end" fill="#000">50</text>
<text x="79.4" y="1875.2" font-size="25" font-weight="bold" text-anchor="end" fill="#000">40</text>
<text x="79.4" y="1942.2" font-size="25" font-weight="bold" text-anchor="end" fill="#000">30</text>
<text x="79.4" y="2009.2" font-size="25" font-weight="bold" text-anchor="end" fill="#000">20</text>
<text x="79.4" y="2076.1" font-size="25" font-weight="bold" text-anchor="end" fill="#000">10</text>
<text x="79.4" y="2143.1" font-size="25" font-weight="bold" text-anchor="end" fill="#000">0</text>
<line x1="119.6" y1="1840.8" x2="173.7" y2="1840.8" stroke="#000" stroke-width="4.7" stroke-linecap="butt"/>
<path d="M114.30 1820.25V1831.95M109.17 1823.14L119.44 1829.06M109.17 1829.06L119.44 1823.14" stroke="#000" stroke-width="3.12" stroke-linecap="round" fill="none"/>
<path d="M134.30 1820.25V1831.95M129.17 1823.14L139.44 1829.06M129.17 1829.06L139.44 1823.14" stroke="#000" stroke-width="3.12" stroke-linecap="round" fill="none"/>
<path d="M154.30 1820.25V1831.95M149.17 1823.14L159.44 1829.06M149.17 1829.06L159.44 1823.14" stroke="#000" stroke-width="3.12" stroke-linecap="round" fill="none"/>
<path d="M174.30 1820.25V1831.95M169.17 1823.14L179.44 1829.06M169.17 1829.06L179.44 1823.14" stroke="#000" stroke-width="3.12" stroke-linecap="round" fill="none"/>
<line x1="166.5" y1="1790.6" x2="254.2" y2="1790.6" stroke="#000" stroke-width="4.7" stroke-linecap="butt"/>
<path d="M188.60 1770.15V1781.85M183.47 1773.04L193.73 1778.96M183.47 1778.96L193.73 1773.04" stroke="#000" stroke-width="3.12" stroke-linecap="round" fill="none"/>
<path d="M208.60 1770.15V1781.85M203.47 1773.04L213.73 1778.96M203.47 1778.96L213.73 1773.04" stroke="#000" stroke-width="3.12" stroke-linecap="round" fill="none"/>
<path d="M228.60 1770.15V1781.85M223.47 1773.04L233.73 1778.96M223.47 1778.96L233.73 1773.04" stroke="#000" stroke-width="3.12" stroke-linecap="round" fill="none"/>
<line x1="221.0" y1="2020.4" x2="264.2" y2="2020.4" stroke="#000" stroke-width="4.7" stroke-linecap="butt"/>
<path d="M231.30 2000.15V2011.85M226.17 2003.04L236.44 2008.96M226.17 2008.96L236.44 2003.04" stroke="#000" stroke-width="3.12" stroke-linecap="round" fill="none"/>
<path d="M251.30 2000.15V2011.85M246.17 2003.04L256.44 2008.96M246.17 2008.96L256.44 2003.04" stroke="#000" stroke-width="3.12" stroke-linecap="round" fill="none"/>
<circle cx="109.4" cy="2131.3" r="6.6" fill="none" stroke="#7777ff" stroke-width="3.0"/>
<circle cx="123.5" cy="2122.0" r="6.6" fill="none" stroke="#7777ff" stroke-width="3.0"/>
<circle cx="137.3" cy="2127.0" r="6.6" fill="none" stroke="#7777ff" stroke-width="3.0"/>
<path d="M168.3 1855.3L175.4 1868.6L161.2 1868.6Z" fill="#b9b9ff" stroke="#7777ff" stroke-width="2.9" stroke-linejoin="round"/>
<path d="M168.3 1909.5L175.4 1922.8L161.2 1922.8Z" fill="#b9b9ff" stroke="#7777ff" stroke-width="2.9" stroke-linejoin="round"/>
<path d="M168.3 1951.8L175.4 1965.1L161.2 1965.1Z" fill="#b9b9ff" stroke="#7777ff" stroke-width="2.9" stroke-linejoin="round"/>
<circle cx="200.0" cy="2131.3" r="6.6" fill="none" stroke="#ff7070" stroke-width="3.0"/>
<circle cx="214.4" cy="2116.0" r="6.6" fill="none" stroke="#ff7070" stroke-width="3.0"/>
<circle cx="228.8" cy="2131.3" r="6.6" fill="none" stroke="#ff7070" stroke-width="3.0"/>
<path d="M245.4 2035.7L252.5 2049.0L238.3 2049.0Z" fill="#ffb9b9" stroke="#ff7070" stroke-width="2.9" stroke-linejoin="round"/>
<path d="M272.8 2042.4L279.9 2055.7L265.7 2055.7Z" fill="#ffb9b9" stroke="#ff7070" stroke-width="2.9" stroke-linejoin="round"/>
<path d="M258.9 2058.5L266.0 2071.8L251.8 2071.8Z" fill="#ffb9b9" stroke="#ff7070" stroke-width="2.9" stroke-linejoin="round"/>
<line x1="123.5" y1="2122.8" x2="123.5" y2="2129.6" stroke="#0000c2" stroke-width="2.4" stroke-linecap="butt"/>
<line x1="113.6" y1="2122.8" x2="133.4" y2="2122.8" stroke="#0000c2" stroke-width="2.4" stroke-linecap="butt"/>
<line x1="113.6" y1="2129.6" x2="133.4" y2="2129.6" stroke="#0000c2" stroke-width="2.4" stroke-linecap="butt"/>
<line x1="168.3" y1="1864.0" x2="168.3" y2="1957.2" stroke="#0000c2" stroke-width="2.4" stroke-linecap="butt"/>
<line x1="158.4" y1="1864.0" x2="178.2" y2="1864.0" stroke="#0000c2" stroke-width="2.4" stroke-linecap="butt"/>
<line x1="158.4" y1="1957.2" x2="178.2" y2="1957.2" stroke="#0000c2" stroke-width="2.4" stroke-linecap="butt"/>
<line x1="214.4" y1="2117.7" x2="214.4" y2="2131.0" stroke="#a00000" stroke-width="2.4" stroke-linecap="butt"/>
<line x1="204.5" y1="2117.7" x2="224.3" y2="2117.7" stroke="#a00000" stroke-width="2.4" stroke-linecap="butt"/>
<line x1="204.5" y1="2131.0" x2="224.3" y2="2131.0" stroke="#a00000" stroke-width="2.4" stroke-linecap="butt"/>
<line x1="258.9" y1="2039.8" x2="258.9" y2="2062.7" stroke="#a00000" stroke-width="2.4" stroke-linecap="butt"/>
<line x1="249.0" y1="2039.8" x2="268.8" y2="2039.8" stroke="#a00000" stroke-width="2.4" stroke-linecap="butt"/>
<line x1="249.0" y1="2062.7" x2="268.8" y2="2062.7" stroke="#a00000" stroke-width="2.4" stroke-linecap="butt"/>
<text transform="translate(332.0,1958.9) rotate(-90)" font-size="28" font-weight="bold" text-anchor="middle" font-style="italic" textLength="69.0" lengthAdjust="spacingAndGlyphs" fill="#000">Nppa</text>
<rect x="400.4" y="2130.3" width="36.0" height="3.9" fill="#bfbfff" stroke="#3535ff" stroke-width="3.2"/>
<rect x="444.6" y="1980.0" width="36.4" height="154.2" fill="url(#hb)" stroke="#3535ff" stroke-width="3.2"/>
<rect x="489.3" y="2130.6" width="37.5" height="3.6" fill="#ffbfbf" stroke="#ff3535" stroke-width="3.2"/>
<rect x="535.0" y="2109.6" width="37.4" height="24.6" fill="url(#hr)" stroke="#ff3535" stroke-width="3.2"/>
<line x1="387.1" y1="1797.0" x2="387.1" y2="2134.2" stroke="#000" stroke-width="4.5" stroke-linecap="butt"/>
<line x1="377.2" y1="2134.2" x2="586.8" y2="2134.2" stroke="#000" stroke-width="4.5" stroke-linecap="butt"/>
<line x1="377.2" y1="1799.3" x2="389.4" y2="1799.3" stroke="#000" stroke-width="4.5" stroke-linecap="butt"/>
<line x1="377.2" y1="1866.3" x2="389.4" y2="1866.3" stroke="#000" stroke-width="4.5" stroke-linecap="butt"/>
<line x1="377.2" y1="1933.2" x2="389.4" y2="1933.2" stroke="#000" stroke-width="4.5" stroke-linecap="butt"/>
<line x1="377.2" y1="2000.2" x2="389.4" y2="2000.2" stroke="#000" stroke-width="4.5" stroke-linecap="butt"/>
<line x1="377.2" y1="2067.2" x2="389.4" y2="2067.2" stroke="#000" stroke-width="4.5" stroke-linecap="butt"/>
<text x="374.0" y="1808.2" font-size="25" font-weight="bold" text-anchor="end" fill="#000">50</text>
<text x="374.0" y="1875.2" font-size="25" font-weight="bold" text-anchor="end" fill="#000">40</text>
<text x="374.0" y="1942.2" font-size="25" font-weight="bold" text-anchor="end" fill="#000">30</text>
<text x="374.0" y="2009.2" font-size="25" font-weight="bold" text-anchor="end" fill="#000">20</text>
<text x="374.0" y="2076.1" font-size="25" font-weight="bold" text-anchor="end" fill="#000">10</text>
<text x="374.0" y="2143.1" font-size="25" font-weight="bold" text-anchor="end" fill="#000">0</text>
<line x1="409.0" y1="1811.1" x2="463.3" y2="1811.1" stroke="#000" stroke-width="4.7" stroke-linecap="butt"/>
<path d="M415.90 1790.65V1802.35M410.76 1793.54L421.03 1799.46M410.76 1799.46L421.03 1793.54" stroke="#000" stroke-width="3.12" stroke-linecap="round" fill="none"/>
<path d="M435.90 1790.65V1802.35M430.76 1793.54L441.03 1799.46M430.76 1799.46L441.03 1793.54" stroke="#000" stroke-width="3.12" stroke-linecap="round" fill="none"/>
<path d="M455.90 1790.65V1802.35M450.76 1793.54L461.03 1799.46M450.76 1799.46L461.03 1793.54" stroke="#000" stroke-width="3.12" stroke-linecap="round" fill="none"/>
<line x1="459.8" y1="1777.1" x2="551.2" y2="1777.1" stroke="#000" stroke-width="4.7" stroke-linecap="butt"/>
<path d="M495.50 1756.65V1768.35M490.37 1759.54L500.63 1765.46M490.37 1765.46L500.63 1759.54" stroke="#000" stroke-width="3.12" stroke-linecap="round" fill="none"/>
<path d="M515.50 1756.65V1768.35M510.37 1759.54L520.63 1765.46M510.37 1765.46L520.63 1759.54" stroke="#000" stroke-width="3.12" stroke-linecap="round" fill="none"/>
<line x1="508.0" y1="2075.3" x2="553.8" y2="2075.3" stroke="#000" stroke-width="4.7" stroke-linecap="butt"/>
<text x="531.2" y="2062.7" font-size="26" font-weight="normal" text-anchor="middle" textLength="29.6" lengthAdjust="spacingAndGlyphs" fill="#000">ns</text>
<circle cx="403.5" cy="2117.7" r="6.6" fill="none" stroke="#7777ff" stroke-width="3.0"/>
<circle cx="404.0" cy="2133.0" r="6.6" fill="none" stroke="#7777ff" stroke-width="3.0"/>
<circle cx="414.0" cy="2127.0" r="6.6" fill="none" stroke="#7777ff" stroke-width="3.0"/>
<circle cx="422.0" cy="2132.0" r="6.6" fill="none" stroke="#7777ff" stroke-width="3.0"/>
<circle cx="433.0" cy="2127.0" r="6.6" fill="none" stroke="#7777ff" stroke-width="3.0"/>
<path d="M463.3 1828.8L470.4 1842.1L456.2 1842.1Z" fill="#b9b9ff" stroke="#7777ff" stroke-width="2.9" stroke-linejoin="round"/>
<path d="M463.3 1962.8L470.4 1976.1L456.2 1976.1Z" fill="#b9b9ff" stroke="#7777ff" stroke-width="2.9" stroke-linejoin="round"/>
<path d="M449.3 2010.3L456.4 2023.6L442.2 2023.6Z" fill="#b9b9ff" stroke="#7777ff" stroke-width="2.9" stroke-linejoin="round"/>
<path d="M477.2 2017.0L484.3 2030.3L470.1 2030.3Z" fill="#b9b9ff" stroke="#7777ff" stroke-width="2.9" stroke-linejoin="round"/>
<path d="M463.3 2037.4L470.4 2050.7L456.2 2050.7Z" fill="#b9b9ff" stroke="#7777ff" stroke-width="2.9" stroke-linejoin="round"/>
<circle cx="495.0" cy="2130.4" r="6.6" fill="none" stroke="#ff7070" stroke-width="3.0"/>
<circle cx="508.5" cy="2122.8" r="6.6" fill="none" stroke="#ff7070" stroke-width="3.0"/>
<circle cx="522.9" cy="2126.2" r="6.6" fill="none" stroke="#ff7070" stroke-width="3.0"/>
<path d="M546.6 2089.0L553.7 2102.3L539.5 2102.3Z" fill="#ffb9b9" stroke="#ff7070" stroke-width="2.9" stroke-linejoin="round"/>
<path d="M567.5 2087.3L574.6 2100.6L560.4 2100.6Z" fill="#ffb9b9" stroke="#ff7070" stroke-width="2.9" stroke-linejoin="round"/>
<path d="M539.0 2100.9L546.1 2114.2L531.9 2114.2Z" fill="#ffb9b9" stroke="#ff7070" stroke-width="2.9" stroke-linejoin="round"/>
<path d="M567.5 2111.0L574.6 2124.3L560.4 2124.3Z" fill="#ffb9b9" stroke="#ff7070" stroke-width="2.9" stroke-linejoin="round"/>
<path d="M553.4 2097.3L560.5 2110.6L546.3 2110.6Z" fill="#ffb9b9" stroke="#ff7070" stroke-width="2.9" stroke-linejoin="round"/>
<line x1="421.3" y1="2122.0" x2="421.3" y2="2130.4" stroke="#0000c2" stroke-width="2.4" stroke-linecap="butt"/>
<line x1="411.4" y1="2122.0" x2="431.2" y2="2122.0" stroke="#0000c2" stroke-width="2.4" stroke-linecap="butt"/>
<line x1="411.4" y1="2130.4" x2="431.2" y2="2130.4" stroke="#0000c2" stroke-width="2.4" stroke-linecap="butt"/>
<line x1="463.3" y1="1893.5" x2="463.3" y2="2061.0" stroke="#0000c2" stroke-width="2.4" stroke-linecap="butt"/>
<line x1="453.4" y1="1893.5" x2="473.2" y2="1893.5" stroke="#0000c2" stroke-width="2.4" stroke-linecap="butt"/>
<line x1="453.4" y1="2061.0" x2="473.2" y2="2061.0" stroke="#0000c2" stroke-width="2.4" stroke-linecap="butt"/>
<line x1="508.5" y1="2124.5" x2="508.5" y2="2128.7" stroke="#a00000" stroke-width="2.4" stroke-linecap="butt"/>
<line x1="498.6" y1="2124.5" x2="518.4" y2="2124.5" stroke="#a00000" stroke-width="2.4" stroke-linecap="butt"/>
<line x1="498.6" y1="2128.7" x2="518.4" y2="2128.7" stroke="#a00000" stroke-width="2.4" stroke-linecap="butt"/>
<line x1="553.4" y1="2098.3" x2="553.4" y2="2111.8" stroke="#a00000" stroke-width="2.4" stroke-linecap="butt"/>
<line x1="543.5" y1="2098.3" x2="563.3" y2="2098.3" stroke="#a00000" stroke-width="2.4" stroke-linecap="butt"/>
<line x1="543.5" y1="2111.8" x2="563.3" y2="2111.8" stroke="#a00000" stroke-width="2.4" stroke-linecap="butt"/>
<text transform="translate(615.9,1959.7) rotate(-90)" font-size="28" font-weight="bold" text-anchor="middle" font-style="italic" textLength="71.1" lengthAdjust="spacingAndGlyphs" fill="#000">Myh7</text>
<rect x="681.6" y="2130.3" width="39.8" height="3.9" fill="#bfbfff" stroke="#3535ff" stroke-width="3.2"/>
<rect x="729.9" y="1993.2" width="36.5" height="141.0" fill="url(#hb)" stroke="#3535ff" stroke-width="3.2"/>
<rect x="774.6" y="2131.6" width="37.5" height="2.6" fill="#ffbfbf" stroke="#ff3535" stroke-width="3.2"/>
<rect x="819.9" y="2096.5" width="37.5" height="37.7" fill="url(#hr)" stroke="#ff3535" stroke-width="3.2"/>
<line x1="671.2" y1="1797.0" x2="671.2" y2="2134.2" stroke="#000" stroke-width="4.5" stroke-linecap="butt"/>
<line x1="661.2" y1="2134.2" x2="870.6" y2="2134.2" stroke="#000" stroke-width="4.5" stroke-linecap="butt"/>
<line x1="661.2" y1="1799.3" x2="673.5" y2="1799.3" stroke="#000" stroke-width="4.5" stroke-linecap="butt"/>
<line x1="661.2" y1="1866.3" x2="673.5" y2="1866.3" stroke="#000" stroke-width="4.5" stroke-linecap="butt"/>
<line x1="661.2" y1="1933.2" x2="673.5" y2="1933.2" stroke="#000" stroke-width="4.5" stroke-linecap="butt"/>
<line x1="661.2" y1="2000.2" x2="673.5" y2="2000.2" stroke="#000" stroke-width="4.5" stroke-linecap="butt"/>
<line x1="661.2" y1="2067.2" x2="673.5" y2="2067.2" stroke="#000" stroke-width="4.5" stroke-linecap="butt"/>
<text x="658.1" y="1808.2" font-size="25" font-weight="bold" text-anchor="end" fill="#000">50</text>
<text x="658.1" y="1875.2" font-size="25" font-weight="bold" text-anchor="end" fill="#000">40</text>
<text x="658.1" y="1942.2" font-size="25" font-weight="bold" text-anchor="end" fill="#000">30</text>
<text x="658.1" y="2009.2" font-size="25" font-weight="bold" text-anchor="end" fill="#000">20</text>
<text x="658.1" y="2076.1" font-size="25" font-weight="bold" text-anchor="end" fill="#000">10</text>
<text x="658.1" y="2143.1" font-size="25" font-weight="bold" text-anchor="end" fill="#000">0</text>
<line x1="700.4" y1="1894.6" x2="747.6" y2="1894.6" stroke="#000" stroke-width="4.7" stroke-linecap="butt"/>
<path d="M691.50 1874.75V1886.45M686.37 1877.64L696.63 1883.56M686.37 1883.56L696.63 1877.64" stroke="#000" stroke-width="3.12" stroke-linecap="round" fill="none"/>
<path d="M711.50 1874.75V1886.45M706.37 1877.64L716.63 1883.56M706.37 1883.56L716.63 1877.64" stroke="#000" stroke-width="3.12" stroke-linecap="round" fill="none"/>
<path d="M731.50 1874.75V1886.45M726.37 1877.64L736.63 1883.56M726.37 1883.56L736.63 1877.64" stroke="#000" stroke-width="3.12" stroke-linecap="round" fill="none"/>
<path d="M751.50 1874.75V1886.45M746.37 1877.64L756.63 1883.56M746.37 1883.56L756.63 1877.64" stroke="#000" stroke-width="3.12" stroke-linecap="round" fill="none"/>
<line x1="740.0" y1="1837.5" x2="838.6" y2="1837.5" stroke="#000" stroke-width="4.7" stroke-linecap="butt"/>
<path d="M766.80 1817.15V1828.85M761.66 1820.04L771.93 1825.96M761.66 1825.96L771.93 1820.04" stroke="#000" stroke-width="3.12" stroke-linecap="round" fill="none"/>
<path d="M786.80 1817.15V1828.85M781.66 1820.04L791.93 1825.96M781.66 1825.96L791.93 1820.04" stroke="#000" stroke-width="3.12" stroke-linecap="round" fill="none"/>
<path d="M806.80 1817.15V1828.85M801.66 1820.04L811.93 1825.96M801.66 1825.96L811.93 1820.04" stroke="#000" stroke-width="3.12" stroke-linecap="round" fill="none"/>
<line x1="791.8" y1="2033.1" x2="842.6" y2="2033.1" stroke="#000" stroke-width="4.7" stroke-linecap="butt"/>
<text x="817.5" y="2025.4" font-size="26" font-weight="normal" text-anchor="middle" textLength="29.6" lengthAdjust="spacingAndGlyphs" fill="#000">ns</text>
<circle cx="694.9" cy="2119.4" r="6.6" fill="none" stroke="#7777ff" stroke-width="3.0"/>
<circle cx="687.2" cy="2130.4" r="6.6" fill="none" stroke="#7777ff" stroke-width="3.0"/>
<circle cx="702.5" cy="2131.3" r="6.6" fill="none" stroke="#7777ff" stroke-width="3.0"/>
<circle cx="715.2" cy="2127.0" r="6.6" fill="none" stroke="#7777ff" stroke-width="3.0"/>
<path d="M747.0 1918.0L754.1 1931.3L739.9 1931.3Z" fill="#b9b9ff" stroke="#7777ff" stroke-width="2.9" stroke-linejoin="round"/>
<path d="M747.0 1967.9L754.1 1981.2L739.9 1981.2Z" fill="#b9b9ff" stroke="#7777ff" stroke-width="2.9" stroke-linejoin="round"/>
<path d="M747.0 1985.7L754.1 1999.0L739.9 1999.0Z" fill="#b9b9ff" stroke="#7777ff" stroke-width="2.9" stroke-linejoin="round"/>
<path d="M747.0 2001.8L754.1 2015.1L739.9 2015.1Z" fill="#b9b9ff" stroke="#7777ff" stroke-width="2.9" stroke-linejoin="round"/>
<path d="M747.0 2050.9L754.1 2064.2L739.9 2064.2Z" fill="#b9b9ff" stroke="#7777ff" stroke-width="2.9" stroke-linejoin="round"/>
<circle cx="779.0" cy="2131.3" r="6.6" fill="none" stroke="#ff7070" stroke-width="3.0"/>
<circle cx="792.6" cy="2127.0" r="6.6" fill="none" stroke="#ff7070" stroke-width="3.0"/>
<circle cx="806.6" cy="2131.3" r="6.6" fill="none" stroke="#ff7070" stroke-width="3.0"/>
<path d="M823.9 2057.7L831.0 2071.0L816.8 2071.0Z" fill="#ffb9b9" stroke="#ff7070" stroke-width="2.9" stroke-linejoin="round"/>
<path d="M851.8 2067.8L858.9 2081.1L844.7 2081.1Z" fill="#ffb9b9" stroke="#ff7070" stroke-width="2.9" stroke-linejoin="round"/>
<path d="M838.0 2080.5L845.1 2093.8L830.9 2093.8Z" fill="#ffb9b9" stroke="#ff7070" stroke-width="2.9" stroke-linejoin="round"/>
<path d="M823.9 2096.6L831.0 2109.9L816.8 2109.9Z" fill="#ffb9b9" stroke="#ff7070" stroke-width="2.9" stroke-linejoin="round"/>
<path d="M851.8 2104.3L858.9 2117.6L844.7 2117.6Z" fill="#ffb9b9" stroke="#ff7070" stroke-width="2.9" stroke-linejoin="round"/>
<path d="M823.9 2117.0L831.0 2130.3L816.8 2130.3Z" fill="#ffb9b9" stroke="#ff7070" stroke-width="2.9" stroke-linejoin="round"/>
<line x1="702.1" y1="2123.7" x2="702.1" y2="2129.6" stroke="#0000c2" stroke-width="2.4" stroke-linecap="butt"/>
<line x1="692.2" y1="2123.7" x2="712.0" y2="2123.7" stroke="#0000c2" stroke-width="2.4" stroke-linecap="butt"/>
<line x1="692.2" y1="2129.6" x2="712.0" y2="2129.6" stroke="#0000c2" stroke-width="2.4" stroke-linecap="butt"/>
<line x1="747.0" y1="1942.0" x2="747.0" y2="2039.0" stroke="#0000c2" stroke-width="2.4" stroke-linecap="butt"/>
<line x1="737.1" y1="1942.0" x2="756.9" y2="1942.0" stroke="#0000c2" stroke-width="2.4" stroke-linecap="butt"/>
<line x1="737.1" y1="2039.0" x2="756.9" y2="2039.0" stroke="#0000c2" stroke-width="2.4" stroke-linecap="butt"/>
<line x1="792.6" y1="2128.7" x2="792.6" y2="2131.0" stroke="#a00000" stroke-width="2.4" stroke-linecap="butt"/>
<line x1="782.7" y1="2128.7" x2="802.5" y2="2128.7" stroke="#a00000" stroke-width="2.4" stroke-linecap="butt"/>
<line x1="782.7" y1="2131.0" x2="802.5" y2="2131.0" stroke="#a00000" stroke-width="2.4" stroke-linecap="butt"/>
<line x1="838.0" y1="2070.7" x2="838.0" y2="2116.9" stroke="#a00000" stroke-width="2.4" stroke-linecap="butt"/>
<line x1="828.1" y1="2070.7" x2="847.9" y2="2070.7" stroke="#a00000" stroke-width="2.4" stroke-linecap="butt"/>
<line x1="828.1" y1="2116.9" x2="847.9" y2="2116.9" stroke="#a00000" stroke-width="2.4" stroke-linecap="butt"/>
<text transform="translate(914.0,1958.2) rotate(-90)" font-size="28" font-weight="bold" text-anchor="middle" font-style="italic" textLength="67.5" lengthAdjust="spacingAndGlyphs" fill="#000">Myh6</text>
<rect x="985.4" y="1977.6" width="35.5" height="156.6" fill="#bfbfff" stroke="#3535ff" stroke-width="3.2"/>
<rect x="1028.4" y="2084.6" width="35.1" height="49.6" fill="url(#hb)" stroke="#3535ff" stroke-width="3.2"/>
<rect x="1071.8" y="1991.1" width="35.5" height="143.1" fill="#ffbfbf" stroke="#ff3535" stroke-width="3.2"/>
<rect x="1115.3" y="2019.0" width="35.1" height="115.2" fill="url(#hr)" stroke="#ff3535" stroke-width="3.2"/>
<line x1="973.6" y1="1813.3" x2="973.6" y2="2134.2" stroke="#000" stroke-width="4.5" stroke-linecap="butt"/>
<line x1="963.6" y1="2134.2" x2="1162.7" y2="2134.2" stroke="#000" stroke-width="4.5" stroke-linecap="butt"/>
<line x1="963.6" y1="1815.6" x2="975.9" y2="1815.6" stroke="#000" stroke-width="4.5" stroke-linecap="butt"/>
<line x1="963.6" y1="1895.2" x2="975.9" y2="1895.2" stroke="#000" stroke-width="4.5" stroke-linecap="butt"/>
<line x1="963.6" y1="1974.9" x2="975.9" y2="1974.9" stroke="#000" stroke-width="4.5" stroke-linecap="butt"/>
<line x1="963.6" y1="2054.6" x2="975.9" y2="2054.6" stroke="#000" stroke-width="4.5" stroke-linecap="butt"/>
<text x="960.5" y="1824.5" font-size="25" font-weight="bold" text-anchor="end" fill="#000">2.0</text>
<text x="960.5" y="1904.2" font-size="25" font-weight="bold" text-anchor="end" fill="#000">1.5</text>
<text x="960.5" y="1983.9" font-size="25" font-weight="bold" text-anchor="end" fill="#000">1.0</text>
<text x="960.5" y="2063.5" font-size="25" font-weight="bold" text-anchor="end" fill="#000">0.5</text>
<text x="960.5" y="2143.1" font-size="25" font-weight="bold" text-anchor="end" fill="#000">0.0</text>
<line x1="1004.8" y1="1859.1" x2="1048.2" y2="1859.1" stroke="#000" stroke-width="4.7" stroke-linecap="butt"/>
<path d="M1016.10 1831.05V1842.75M1010.96 1833.94L1021.23 1839.86M1010.96 1839.86L1021.23 1833.94" stroke="#000" stroke-width="3.12" stroke-linecap="round" fill="none"/>
<path d="M1036.10 1831.05V1842.75M1030.96 1833.94L1041.23 1839.86M1030.96 1839.86L1041.23 1833.94" stroke="#000" stroke-width="3.12" stroke-linecap="round" fill="none"/>
<line x1="1047.1" y1="1905.3" x2="1129.4" y2="1905.3" stroke="#000" stroke-width="4.7" stroke-linecap="butt"/>
<path d="M1088.00 1877.35V1889.05M1082.87 1880.24L1093.13 1886.16M1082.87 1886.16L1093.13 1880.24" stroke="#000" stroke-width="3.12" stroke-linecap="round" fill="none"/>
<line x1="1092.0" y1="1950.6" x2="1137.5" y2="1950.6" stroke="#000" stroke-width="4.7" stroke-linecap="butt"/>
<text x="1115.2" y="1935.0" font-size="26" font-weight="normal" text-anchor="middle" textLength="29.6" lengthAdjust="spacingAndGlyphs" fill="#000">ns</text>
<circle cx="1002.7" cy="1881.1" r="6.6" fill="none" stroke="#7777ff" stroke-width="3.0"/>
<circle cx="1002.7" cy="1969.6" r="6.6" fill="none" stroke="#7777ff" stroke-width="3.0"/>
<circle cx="1002.7" cy="1983.3" r="6.6" fill="none" stroke="#7777ff" stroke-width="3.0"/>
<circle cx="1002.7" cy="2008.2" r="6.6" fill="none" stroke="#7777ff" stroke-width="3.0"/>
<circle cx="1002.7" cy="2034.0" r="6.6" fill="none" stroke="#7777ff" stroke-width="3.0"/>
<path d="M1045.8 2047.4L1052.9 2060.7L1038.7 2060.7Z" fill="#b9b9ff" stroke="#7777ff" stroke-width="2.9" stroke-linejoin="round"/>
<path d="M1032.6 2069.9L1039.7 2083.2L1025.5 2083.2Z" fill="#b9b9ff" stroke="#7777ff" stroke-width="2.9" stroke-linejoin="round"/>
<path d="M1059.1 2072.3L1066.2 2085.6L1052.0 2085.6Z" fill="#b9b9ff" stroke="#7777ff" stroke-width="2.9" stroke-linejoin="round"/>
<path d="M1045.8 2078.8L1052.9 2092.1L1038.7 2092.1Z" fill="#b9b9ff" stroke="#7777ff" stroke-width="2.9" stroke-linejoin="round"/>
<path d="M1045.8 2102.1L1052.9 2115.4L1038.7 2115.4Z" fill="#b9b9ff" stroke="#7777ff" stroke-width="2.9" stroke-linejoin="round"/>
<circle cx="1089.5" cy="1967.2" r="6.6" fill="none" stroke="#ff7070" stroke-width="3.0"/>
<circle cx="1089.5" cy="1986.5" r="6.6" fill="none" stroke="#ff7070" stroke-width="3.0"/>
<circle cx="1089.5" cy="2009.8" r="6.6" fill="none" stroke="#ff7070" stroke-width="3.0"/>
<path d="M1119.8 1999.9L1126.9 2013.2L1112.7 2013.2Z" fill="#ffb9b9" stroke="#ff7070" stroke-width="2.9" stroke-linejoin="round"/>
<path d="M1127.8 2003.1L1134.9 2016.4L1120.7 2016.4Z" fill="#ffb9b9" stroke="#ff7070" stroke-width="2.9" stroke-linejoin="round"/>
<path d="M1137.5 1991.9L1144.6 2005.2L1130.4 2005.2Z" fill="#ffb9b9" stroke="#ff7070" stroke-width="2.9" stroke-linejoin="round"/>
<path d="M1145.9 1991.9L1153.0 2005.2L1138.8 2005.2Z" fill="#ffb9b9" stroke="#ff7070" stroke-width="2.9" stroke-linejoin="round"/>
<path d="M1137.5 2033.7L1144.6 2047.0L1130.4 2047.0Z" fill="#ffb9b9" stroke="#ff7070" stroke-width="2.9" stroke-linejoin="round"/>
<path d="M1127.8 2040.1L1134.9 2053.4L1120.7 2053.4Z" fill="#ffb9b9" stroke="#ff7070" stroke-width="2.9" stroke-linejoin="round"/>
<line x1="1002.7" y1="1917.3" x2="1002.7" y2="2033.2" stroke="#0000c2" stroke-width="2.4" stroke-linecap="butt"/>
<line x1="992.8" y1="1917.3" x2="1012.6" y2="1917.3" stroke="#0000c2" stroke-width="2.4" stroke-linecap="butt"/>
<line x1="992.8" y1="2033.2" x2="1012.6" y2="2033.2" stroke="#0000c2" stroke-width="2.4" stroke-linecap="butt"/>
<line x1="1045.8" y1="2061.3" x2="1045.8" y2="2101.5" stroke="#0000c2" stroke-width="2.4" stroke-linecap="butt"/>
<line x1="1035.9" y1="2061.3" x2="1055.7" y2="2061.3" stroke="#0000c2" stroke-width="2.4" stroke-linecap="butt"/>
<line x1="1035.9" y1="2101.5" x2="1055.7" y2="2101.5" stroke="#0000c2" stroke-width="2.4" stroke-linecap="butt"/>
<line x1="1089.5" y1="1968.0" x2="1089.5" y2="2008.5" stroke="#a00000" stroke-width="2.4" stroke-linecap="butt"/>
<line x1="1079.6" y1="1968.0" x2="1099.4" y2="1968.0" stroke="#a00000" stroke-width="2.4" stroke-linecap="butt"/>
<line x1="1079.6" y1="2008.5" x2="1099.4" y2="2008.5" stroke="#a00000" stroke-width="2.4" stroke-linecap="butt"/>
<line x1="1132.3" y1="1996.2" x2="1132.3" y2="2037.5" stroke="#a00000" stroke-width="2.4" stroke-linecap="butt"/>
<line x1="1122.4" y1="1996.2" x2="1142.2" y2="1996.2" stroke="#a00000" stroke-width="2.4" stroke-linecap="butt"/>
<line x1="1122.4" y1="2037.5" x2="1142.2" y2="2037.5" stroke="#a00000" stroke-width="2.4" stroke-linecap="butt"/>
<filter id="jn" x="0" y="0" width="100%" height="100%"><feTurbulence type="fractalNoise" baseFrequency="0.55" numOctaves="2" seed="3" result="t"/><feColorMatrix type="matrix" values="0 0 0 0 0.05  0 0 0 0 0.75  0 0 0 0 0.05  0 4.0 0 0 -2.05"/></filter><filter id="jb"><feGaussianBlur stdDeviation="0.45"/></filter>
<text x="850.0" y="1365.9" font-size="26.5" font-weight="bold" text-anchor="middle" textLength="40.9" lengthAdjust="spacingAndGlyphs" fill="#000">WT</text>
<text x="1057.8" y="1365.9" font-size="26.5" font-weight="bold" text-anchor="middle" textLength="111.5" lengthAdjust="spacingAndGlyphs" fill="#000">SIRT5OE</text>
<text transform="translate(735.9,1464.1) rotate(-90)" font-size="27" font-weight="bold" text-anchor="middle" textLength="69.4" lengthAdjust="spacingAndGlyphs" fill="#000">sham</text>
<text transform="translate(737.3,1632.7) rotate(-90)" font-size="27" font-weight="bold" text-anchor="middle" textLength="51.1" lengthAdjust="spacingAndGlyphs" fill="#000">TAC</text>
<clipPath id="jc11"><rect x="745" y="1373.7" width="201.5" height="171.79999999999995"/></clipPath>
<g clip-path="url(#jc11)"><g filter="url(#jb)"><rect x="745" y="1373.7" width="201.5" height="171.79999999999995" fill="#1cf51c"/>
<g transform="translate(745,1373.7)">
<path d="M-2.3 -1.0L-2.0 -3.0L-3.0 -3.0L-3.0 -0.0ZM5.9 3.2L10.4 1.0L13.2 -3.0L-0.1 -3.0L-0.0 0.1L0.7 1.3ZM-2.9 35.6L-1.5 36.1L0.9 36.2L3.4 35.8L5.9 35.0L10.5 32.8L11.6 31.8L12.3 30.5L12.6 29.0L12.4 27.7L10.1 21.3L5.6 11.9L5.0 9.6L4.7 6.0L4.3 5.2L3.7 4.7L-0.2 3.6L-1.6 3.7L-3.0 4.5ZM13.8 -1.2L13.9 0.4L14.4 1.0L23.2 2.6L28.6 4.7L33.9 7.4L34.7 7.2L35.4 6.6L36.4 4.3L38.3 -3.0L14.6 -3.0ZM17.0 33.0L18.4 33.0L23.8 31.1L28.5 28.8L35.6 24.5L36.3 23.7L36.7 22.7L36.6 21.6L33.8 16.1L33.3 14.1L33.5 9.7L32.4 8.4L27.9 5.7L25.1 4.6L18.9 3.5L10.3 3.0L8.7 3.7L6.9 5.5L6.3 8.0L6.6 10.5L8.5 15.1L12.7 22.3L15.5 31.5ZM53.9 26.4L55.1 26.2L59.1 20.1L62.1 14.5L64.0 9.4L64.0 8.1L62.9 4.3L61.9 -1.5L61.6 -2.1L60.9 -2.5L59.4 -3.0L39.6 -3.0L36.9 6.7L35.1 9.8L34.8 13.5L35.1 15.4L35.9 17.4L39.8 22.7L40.9 23.2L50.3 24.9ZM91.5 9.4L93.1 7.5L95.6 2.3L95.9 1.0L95.6 0.1L92.8 -3.0L64.7 -3.0L64.1 -2.0L64.4 4.9L65.2 7.4L66.3 8.1L73.1 10.7L75.9 11.5L78.8 11.8L81.7 11.7L84.4 11.2ZM94.4 -3.0L97.0 -0.6L97.9 -0.4L98.8 -0.7L100.9 -3.0ZM-3.0 65.8L3.3 64.5L4.5 63.1L4.6 61.2L1.7 58.5L-3.0 56.6ZM16.2 36.0L15.4 34.1L14.7 33.6L13.9 33.7L6.8 37.1L3.9 37.8L-0.3 37.8L-1.8 38.5L-3.0 40.7L-3.0 52.8L-2.3 53.8L2.5 56.2L6.8 59.6L7.5 59.8L8.4 59.7L9.1 59.2L10.0 57.3L10.7 50.7L11.3 48.9L14.8 42.6L15.7 40.0ZM39.7 57.0L41.3 56.7L44.0 54.4L47.1 48.5L47.9 42.5L48.8 39.3L52.6 29.5L52.6 27.8L51.8 26.9L39.6 24.8L31.4 29.1L20.0 34.2L19.8 35.6L20.5 37.2L24.7 41.1L31.9 46.5L33.7 48.2L35.0 49.9L37.7 54.9ZM90.5 13.7L89.8 12.2L89.2 12.1L84.9 13.3L82.3 13.6L79.4 13.5L76.4 12.8L68.3 9.9L65.6 9.6L64.7 10.7L61.0 18.9L56.5 26.5L56.6 27.4L57.6 28.6L62.6 31.8L72.7 36.9L74.3 36.9L84.7 30.7L85.7 29.7L89.7 21.7L90.1 19.7ZM102.4 -3.0L99.8 0.0L97.4 1.8L94.6 7.9L94.8 9.2L95.5 10.1L100.0 12.3L111.2 15.1L116.0 17.4L117.9 17.6L118.7 17.2L120.2 14.6L120.9 12.3L121.1 9.7L119.9 0.9L119.7 -3.0ZM134.8 -2.9L135.3 -3.0L134.5 -3.0ZM9.6 66.8L7.7 66.4L0.3 66.8L-3.0 67.6L-3.0 84.2L11.6 78.7L12.3 76.7L12.4 70.6ZM20.0 39.4L18.9 39.1L17.9 39.6L17.1 40.6L15.3 44.7L12.9 49.1L12.2 51.0L11.1 63.4L12.5 66.0L14.4 68.3L15.7 68.7L17.1 68.5L24.6 65.2L26.7 64.7L28.6 64.8L34.3 66.4L36.4 66.5L37.5 66.3L38.3 65.7L38.7 64.8L38.9 61.1L38.5 59.6L36.5 57.1L33.8 52.5L31.2 49.3ZM56.8 29.2L55.8 28.9L54.9 29.0L54.2 29.6L51.4 36.3L49.6 42.6L49.1 49.0L47.9 52.8L48.3 53.8L49.4 54.8L50.9 55.5L62.3 57.7L69.7 60.7L71.0 61.0L72.3 60.8L73.3 60.1L73.7 58.9L73.6 57.6L71.3 48.8L71.1 46.1L72.2 39.5L72.1 38.5L71.4 37.8L62.3 32.7ZM93.5 10.9L92.8 11.1L92.2 11.8L91.9 12.8L91.1 21.0L90.5 23.1L88.4 27.0L87.4 29.9L88.1 31.0L95.8 35.7L100.7 39.1L101.7 39.0L103.5 37.5L108.3 36.5L110.4 35.3L112.6 33.3L118.4 26.0L120.4 24.3L120.2 23.1L117.9 20.5L114.8 18.1L113.2 17.3L100.7 14.2L98.1 13.2ZM121.9 -0.8L122.6 10.5L122.3 13.2L120.0 19.8L120.9 21.2L122.7 21.9L123.5 21.9L126.0 20.8L128.6 18.8L136.1 11.6L138.7 9.8L138.8 9.2L138.5 8.6L134.4 4.4L133.2 2.6L131.3 -3.0L122.1 -3.0ZM136.3 -0.6L135.3 1.0L135.4 1.9L136.3 3.6L139.2 6.9L141.0 8.5L143.0 9.8L144.1 10.1L147.6 10.3L150.0 9.6L155.9 1.4L156.7 -0.7L156.6 -3.0L139.9 -3.0ZM158.2 -3.0L159.0 0.1L159.8 0.7L163.6 1.6L174.4 2.8L184.7 6.3L185.4 5.9L185.8 5.0L186.9 1.6L187.5 -3.0ZM-0.7 102.4L6.3 102.6L7.5 101.8L8.5 100.1L9.1 98.2L10.1 90.5L12.2 83.8L11.7 81.9L11.0 81.6L10.1 81.6L1.2 85.3L-3.0 86.5L-3.0 102.8ZM38.8 69.1L37.4 68.4L31.1 67.2L27.0 66.8L24.9 67.4L16.4 71.6L15.3 72.7L14.8 73.8L14.6 78.0L13.9 80.4L14.5 82.7L19.4 87.4L23.7 89.5L29.1 91.1L40.9 91.3L42.7 91.1L43.7 90.6L44.4 89.5L44.8 88.0L45.2 83.0L44.9 80.7L41.8 73.2L39.8 70.0ZM41.0 67.1L44.2 71.7L45.1 73.5L46.2 77.4L47.1 78.6L47.8 78.8L50.4 78.4L56.8 79.3L59.2 79.1L61.8 78.3L73.1 72.0L73.7 71.3L73.8 70.5L73.6 67.6L74.0 65.6L72.5 63.9L63.8 60.2L47.0 56.8L45.4 56.8L44.2 57.5L42.3 59.4L41.6 60.9ZM77.5 60.4L78.6 61.3L79.9 61.6L81.4 61.2L88.3 57.5L90.1 57.0L92.3 56.9L95.8 54.9L98.0 52.5L99.3 48.9L100.2 43.8L100.1 42.4L99.6 41.3L95.6 38.3L86.7 33.0L85.6 32.9L84.5 33.2L75.5 38.2L73.9 40.5L73.0 44.2L72.9 46.3L73.9 51.1ZM122.2 58.6L126.8 54.5L128.2 51.9L128.6 50.3L129.1 44.1L130.9 37.3L130.7 36.1L129.7 34.1L126.6 30.1L123.4 27.3L122.0 26.6L120.6 26.4L119.6 26.9L111.6 35.6L109.6 37.0L107.8 37.8L104.9 38.2L103.8 38.8L102.6 40.0L101.9 41.5L100.1 51.0L100.4 52.0L101.1 52.5L108.1 54.2L119.9 58.3L121.4 58.7ZM122.1 24.5L129.1 31.2L132.6 36.3L140.6 35.7L142.6 35.9L152.7 38.5L154.0 38.1L157.0 33.7L158.5 26.2L150.4 12.0L149.9 11.7L147.4 11.8L142.1 11.1L138.4 12.8L128.9 21.2L126.5 22.6L122.2 23.8ZM181.2 16.6L184.0 11.1L184.6 9.7L184.4 8.5L183.5 7.6L181.5 6.6L176.6 4.6L173.6 4.1L162.4 3.3L157.9 2.4L156.7 3.2L155.0 5.4L151.8 10.5L151.8 11.8L152.5 13.5L154.5 16.8L159.4 23.3L159.9 23.8L161.5 24.3L170.2 25.0L172.2 24.5L174.0 23.3L178.7 17.8ZM189.9 -2.5L195.0 -2.0L204.5 0.8L204.5 -3.0L189.5 -3.0ZM17.3 119.7L17.9 117.6L17.6 116.5L17.0 115.7L10.4 110.5L8.6 108.8L6.2 104.9L5.2 104.6L1.3 104.5L-3.0 105.3L-3.0 121.2L-0.0 121.1L8.1 121.9L11.0 121.8L13.8 121.3L16.5 120.3ZM18.2 113.5L19.6 113.6L21.7 112.7L25.7 108.3L26.7 106.5L27.4 104.2L27.8 101.5L28.3 94.7L27.9 93.6L27.1 92.7L20.7 90.4L18.6 89.3L14.5 86.3L13.4 86.6L12.4 87.6L11.7 89.1L10.2 98.9L8.1 103.4L8.2 104.4L10.6 107.7L16.9 112.8ZM76.4 87.7L77.1 85.1L76.6 78.6L75.5 75.6L73.8 75.0L72.8 75.2L64.3 79.9L61.4 80.9L58.5 81.2L51.3 80.1L49.5 80.3L47.8 81.2L46.8 82.7L46.7 83.9L46.0 92.0L47.5 96.5L48.7 98.6L51.9 102.6L52.9 103.2L54.1 103.5L57.2 102.6L61.8 100.5L70.6 93.8ZM83.8 90.0L84.8 89.9L85.7 89.4L90.6 81.7L93.5 75.2L96.3 70.0L96.1 68.5L93.0 60.1L92.1 58.9L91.5 58.8L89.7 59.3L82.3 63.3L78.3 64.7L77.1 65.9L76.0 68.6L76.2 73.1L77.7 76.1L78.3 78.5L78.9 86.3L79.4 87.3L81.0 88.6ZM111.8 76.6L115.4 74.2L119.4 73.1L120.2 72.5L120.6 70.9L121.2 62.4L120.9 60.8L112.3 57.3L106.9 55.6L99.9 54.1L98.4 54.5L94.3 57.9L93.9 59.1L96.1 64.1L98.4 68.4L99.2 69.3L107.4 73.7L111.1 76.4ZM150.5 62.8L152.8 60.8L153.6 59.4L153.9 57.7L153.3 49.3L153.9 43.6L153.9 41.9L153.5 41.1L152.6 40.2L149.9 38.9L142.2 36.9L138.1 37.1L133.5 38.1L131.7 39.8L130.3 43.5L129.5 51.4L128.9 53.5L129.5 55.0L135.2 58.1L140.8 60.5L147.7 62.6L149.4 63.0ZM182.8 19.1L181.9 18.7L181.0 18.7L179.3 19.8L174.7 24.9L173.1 26.0L171.2 26.4L164.3 25.7L161.5 26.1L160.4 26.7L159.8 27.7L159.2 30.5L159.2 31.6L159.7 32.6L164.2 35.6L169.0 40.0L173.8 43.4L180.4 47.0L181.6 46.9L182.9 45.7L184.0 38.3L187.2 31.8L188.0 29.0L188.4 26.2L188.2 25.1L187.5 24.1ZM204.5 2.3L196.0 0.1L193.4 -0.1L191.2 0.1L189.3 0.7L188.1 2.0L186.5 7.2L186.0 10.6L183.7 17.0L184.1 18.2L185.4 19.8L189.8 24.0L193.9 25.2L202.7 26.9L204.5 26.1ZM-3.0 143.2L-3.0 159.5L0.3 158.1L1.1 156.9L1.3 156.2L0.5 152.2L-1.8 147.2ZM19.0 124.4L18.4 123.5L17.3 123.1L13.3 123.9L10.4 123.9L1.6 122.7L-3.0 122.9L-3.0 140.0L-1.2 140.7L0.2 140.6L1.4 139.9L7.6 133.4L9.3 132.2L11.0 131.7L14.5 131.7L16.4 131.2L17.3 130.6L18.6 128.3L19.1 125.8ZM44.0 94.2L43.2 93.7L35.5 92.8L33.0 93.0L31.6 93.7L30.9 94.9L29.7 104.1L28.9 106.9L27.7 109.2L24.6 112.7L24.7 113.5L25.8 115.1L28.4 116.7L30.3 117.5L32.6 117.8L48.8 116.0L50.8 114.5L51.9 111.2L52.1 109.2L51.6 105.9L51.3 105.1L47.0 100.9L45.7 99.0ZM84.7 93.6L83.0 92.0L79.6 89.9L78.6 89.5L77.6 89.5L65.8 99.7L65.1 100.9L64.9 103.3L65.3 104.1L66.7 105.4L70.5 107.7L83.2 111.5L84.2 111.5L85.2 111.1L86.6 109.3L88.0 102.9L87.8 101.2ZM89.9 86.7L90.0 87.9L90.7 88.8L91.8 89.3L98.3 87.9L100.5 88.0L106.4 90.2L108.4 90.6L109.3 90.4L110.1 89.8L110.5 88.8L111.1 81.8L110.8 79.3L110.3 78.6L107.5 76.5L101.0 72.7L99.8 72.3L98.5 72.4L97.3 72.9L96.5 73.8L93.7 80.4L90.3 85.5ZM141.8 85.1L143.7 85.7L144.7 85.5L145.6 84.8L147.2 82.7L147.8 81.0L147.9 78.1L147.2 70.7L147.5 68.7L148.3 65.9L148.1 65.2L128.3 56.6L126.7 56.7L124.0 59.3L123.1 61.4L122.6 64.3L122.4 72.0L123.0 73.8L126.4 75.7L136.1 79.9ZM159.3 35.8L158.2 36.3L157.3 37.2L155.7 39.8L156.0 44.4L154.8 49.2L154.8 51.2L155.3 56.9L156.3 58.4L157.0 58.7L164.6 58.6L165.7 58.3L169.4 54.9L175.7 50.9L176.4 49.9L176.6 48.7L176.1 47.5L175.1 46.6L170.3 43.4L163.8 38.0L160.4 35.9ZM192.3 27.1L191.3 27.4L190.7 28.1L189.5 31.8L186.2 38.3L185.6 40.1L185.0 44.3L185.5 46.5L190.2 51.6L190.8 51.9L192.6 51.7L195.4 50.3L198.6 49.4L200.2 48.4L204.5 43.3L204.5 31.4L203.5 29.7L202.1 28.5ZM204.5 27.9L204.4 28.6L204.5 28.8ZM25.9 145.0L25.9 144.1L25.4 143.3L20.2 138.0L19.0 136.2L17.8 133.7L16.5 133.1L11.4 133.6L9.9 134.5L4.3 140.4L0.9 143.2L0.3 144.2L0.4 147.3L2.6 154.6L3.2 158.2L5.4 159.6L7.4 160.3L9.7 160.9L12.2 160.6L15.5 157.4ZM22.2 117.0L21.5 118.0L21.2 119.1L21.0 123.7L19.7 130.5L20.3 134.3L21.2 136.1L24.3 139.4L28.7 143.1L34.9 144.0L39.9 145.6L41.9 145.5L42.6 144.4L44.6 138.7L46.0 136.0L47.7 133.9L51.6 130.2L52.4 129.0L52.4 128.0L50.2 119.8L49.0 119.1L34.8 119.9L32.2 119.7L30.0 119.0L24.7 116.7L22.9 116.6ZM52.0 117.7L52.8 124.8L53.4 126.7L54.1 127.9L55.1 128.5L59.8 128.8L72.1 127.9L74.9 126.1L79.2 124.9L81.3 123.8L83.1 121.9L84.6 119.4L85.1 116.7L84.5 114.3L83.7 113.8L70.7 109.8L66.4 107.3L62.0 103.3L61.2 103.0L55.5 104.9L54.0 106.0L54.1 110.1L53.8 112.0ZM89.1 93.1L88.2 94.0L87.8 95.2L87.9 96.4L89.6 101.0L90.0 102.8L89.9 104.4L88.3 109.4L88.2 112.6L89.3 114.2L94.6 116.8L96.8 117.5L98.9 117.6L106.5 112.9L111.3 109.2L116.4 103.6L116.8 102.7L116.8 101.7L116.3 100.7L113.1 97.2L110.0 92.9L109.1 92.4L102.0 89.9L100.0 89.6L97.9 89.8L95.5 90.5ZM112.1 91.0L113.7 93.8L119.7 101.5L123.4 102.9L127.8 105.5L129.3 105.9L131.5 104.1L133.3 101.9L136.9 96.5L140.2 90.4L141.4 88.8L141.0 87.5L140.4 86.9L135.0 82.4L121.2 75.2L119.2 74.9L117.1 75.4L115.1 76.5L113.4 78.4L112.9 79.7ZM150.9 77.5L151.9 78.6L153.3 79.1L160.5 78.1L162.9 78.4L168.7 80.7L170.3 81.0L171.1 80.7L171.8 79.7L172.6 76.7L171.9 71.1L170.6 66.8L167.8 62.7L166.8 61.9L164.2 61.3L155.5 61.4L154.6 61.7L153.7 62.3L151.3 64.7L150.6 65.9L149.4 69.8L149.5 71.7ZM183.4 49.2L182.3 49.2L181.1 49.7L176.1 53.8L171.2 56.7L170.0 57.9L169.6 58.9L169.8 60.1L172.2 63.2L173.3 65.3L174.0 67.4L174.8 74.0L175.4 76.2L176.5 78.4L177.5 79.4L178.9 79.7L186.0 77.6L193.3 76.4L194.3 75.6L194.9 74.7L195.0 72.7L194.7 70.6L193.3 65.3L191.6 61.7L190.1 56.7L189.4 55.3L185.4 50.8L184.2 49.6ZM204.5 46.7L201.2 50.4L196.3 51.9L194.2 53.0L193.2 54.0L192.7 55.4L192.7 56.8L193.5 59.2L194.3 60.4L195.5 61.1L197.0 61.3L201.1 60.2L204.5 59.6ZM12.7 174.8L12.8 168.7L12.5 166.8L11.7 165.0L10.8 164.0L5.2 162.3L1.3 160.5L-3.0 161.9L-3.0 174.8ZM41.7 149.7L40.5 148.1L36.6 146.2L32.8 145.5L30.6 145.6L29.2 145.9L28.0 146.8L25.9 149.1L18.2 158.8L15.5 161.2L15.0 162.0L14.8 163.0L15.2 164.3L16.1 165.3L22.0 166.8L27.4 170.5L29.5 171.6L32.0 172.5L37.9 173.4L39.6 173.2L41.2 172.4L43.1 170.8L43.9 169.4L44.0 167.8L41.0 157.4L41.0 155.6L41.9 150.7ZM44.2 144.6L44.7 146.4L45.3 146.9L56.1 150.9L58.6 152.0L62.2 154.8L64.8 157.9L65.4 158.2L66.1 158.2L67.3 157.0L67.6 156.0L67.7 148.8L68.1 146.9L70.9 140.9L71.6 138.2L71.9 135.3L71.7 131.3L70.6 130.0L69.8 129.8L59.7 130.6L54.6 129.9L54.0 130.0L52.8 131.6L48.3 135.2L46.7 137.6L45.4 140.5ZM88.0 116.2L87.3 116.6L83.9 122.8L82.0 124.7L79.9 125.9L76.0 127.2L75.3 127.9L75.0 129.1L75.3 130.3L77.2 133.5L80.5 137.4L91.8 146.2L94.4 149.3L94.9 149.8L95.7 149.6L99.6 146.3L101.4 145.2L103.5 144.6L103.8 144.0L103.0 139.6L103.8 129.5L103.6 126.8L101.8 123.5L100.0 121.2L98.7 120.1L88.8 116.2ZM119.8 103.6L118.5 104.3L115.9 107.8L112.3 111.4L102.1 118.1L101.6 118.9L101.7 119.9L104.8 123.6L105.7 124.0L110.5 123.2L112.2 123.4L117.7 125.7L120.0 126.2L122.6 126.1L123.8 125.6L124.7 124.6L128.5 112.3L129.0 109.1L128.4 107.7L126.8 106.4L123.6 104.7ZM131.9 107.5L132.0 108.1L133.3 109.4L143.6 115.0L153.7 121.8L155.3 122.2L159.0 122.4L160.3 121.9L160.6 120.5L159.2 114.6L159.0 111.8L159.3 109.3L160.9 103.3L160.7 102.5L154.2 96.4L145.8 91.0L144.1 90.6L142.7 91.6L135.5 102.8ZM146.4 87.9L146.4 88.7L147.6 90.2L154.7 94.9L161.4 100.3L162.8 99.8L166.4 96.4L168.6 94.9L174.6 92.4L177.1 88.7L177.9 85.1L177.2 83.3L175.6 82.3L172.6 82.9L170.7 82.9L165.3 80.6L163.0 80.1L160.5 80.3L157.6 80.9L149.9 83.5ZM202.4 61.6L197.2 63.7L196.4 64.4L196.0 65.3L197.3 72.6L196.6 76.5L197.1 77.4L200.5 80.7L204.5 83.7L204.5 61.1ZM33.4 174.8L27.9 172.8L22.6 169.6L19.2 168.5L17.9 168.8L16.6 169.8L15.6 171.4L15.2 173.2L15.2 174.8ZM48.5 151.0L46.0 151.7L44.5 153.1L44.0 157.1L44.6 160.7L46.2 165.6L47.6 168.0L49.6 169.2L53.1 169.9L60.0 169.9L61.4 169.8L62.5 169.3L66.0 167.4L66.9 166.5L67.1 165.2L66.6 163.2L60.5 156.2L57.2 154.0L49.8 151.2ZM75.4 133.9L74.8 133.7L74.2 134.0L73.7 134.7L72.6 139.5L69.1 148.0L69.1 157.4L68.7 161.1L69.9 164.0L71.3 165.1L75.3 164.8L83.2 162.8L86.1 162.6L90.5 160.3L91.4 159.4L92.3 157.9L93.4 154.5L93.3 152.6L91.0 149.4L80.5 140.3ZM127.8 134.1L127.8 133.5L126.0 130.1L124.6 128.8L120.0 127.9L113.5 125.5L111.8 125.2L108.2 126.1L106.7 127.5L106.0 129.9L104.7 138.8L104.8 141.3L105.3 143.5L106.4 144.9L107.3 145.2L112.2 145.7L115.7 145.4L116.4 144.9L119.8 139.7L121.6 137.8ZM151.5 124.1L151.7 123.2L151.3 122.4L142.8 116.0L134.9 111.4L131.6 110.2L131.0 110.4L130.8 110.8L128.0 119.8L126.8 125.8L127.0 127.1L129.6 132.8L131.0 134.3L137.4 135.7L142.3 137.0L143.1 136.7L143.7 136.0L145.7 130.9L147.1 128.5ZM163.8 121.8L165.6 123.4L167.1 123.7L168.1 123.1L172.7 117.4L174.2 116.4L175.8 116.2L179.6 116.2L181.8 115.7L182.6 115.1L183.3 114.1L183.6 111.9L182.3 107.0L181.2 104.4L178.4 99.4L175.9 96.2L173.5 95.6L172.4 95.9L167.9 98.6L164.1 101.7L163.2 103.0L161.9 112.0L162.7 117.7ZM195.0 78.3L186.5 80.1L181.6 81.8L180.5 82.7L179.5 88.6L177.3 93.0L182.5 102.5L185.9 111.9L186.6 112.9L187.9 113.0L196.8 111.9L199.8 110.4L204.5 109.0L204.5 85.1L200.7 82.8L195.9 78.7ZM61.9 174.8L61.6 173.4L60.1 172.1L53.3 172.3L47.3 171.3L46.2 171.4L45.1 172.1L41.9 174.8ZM86.0 174.8L85.1 171.3L85.1 165.4L84.8 164.9L84.3 164.7L77.3 166.7L70.3 167.5L65.1 170.2L63.6 171.5L64.0 174.8ZM123.2 155.8L123.4 154.9L123.2 154.1L122.4 152.7L121.3 151.3L118.1 148.7L115.9 148.0L111.1 147.7L104.6 146.3L101.4 147.2L99.6 148.4L97.7 150.2L96.0 152.4L95.0 154.3L94.6 156.1L94.7 157.4L95.4 158.3L109.2 166.4L111.1 168.0L114.3 171.9L115.1 172.2L115.9 172.0L116.6 171.3L117.1 170.2L118.8 162.0L119.8 159.8ZM142.2 139.8L140.4 138.3L136.5 137.1L131.3 136.0L129.5 136.1L124.9 138.6L123.1 140.2L120.3 144.3L120.0 145.4L120.1 146.5L120.5 147.5L124.2 152.1L125.6 154.6L127.9 155.9L132.3 157.4L134.9 157.8L143.0 157.6L144.1 157.3L145.1 156.5L146.1 154.3L145.9 153.2L143.1 145.7L142.6 140.8ZM146.9 150.7L148.7 152.2L150.5 152.8L153.9 150.8L155.7 149.0L159.2 143.6L162.6 136.6L163.5 135.6L166.2 134.3L167.3 132.9L167.4 129.8L167.0 127.5L166.6 126.6L165.8 125.9L163.3 124.6L161.4 124.2L154.7 123.9L151.6 125.8L149.6 127.5L148.0 129.7L146.7 132.3L144.4 138.5L145.4 146.7ZM172.4 138.4L180.9 140.2L185.7 141.9L186.8 142.0L195.9 133.4L196.6 132.1L196.6 130.2L195.8 124.1L196.3 116.0L195.7 114.7L194.3 114.2L186.3 115.3L182.7 117.2L180.5 117.8L175.1 117.9L173.7 118.8L169.0 125.4L168.5 127.1L168.7 133.4L170.2 136.5L171.5 137.9ZM113.8 174.8L110.7 170.0L107.0 167.0L94.2 160.4L92.6 160.6L91.0 162.0L88.2 163.3L87.0 164.8L86.6 168.3L86.7 170.8L87.9 174.8ZM143.8 162.6L143.8 161.4L143.2 160.7L136.7 160.4L133.8 159.9L131.0 159.1L125.8 156.9L124.3 157.1L122.1 159.0L120.7 160.9L119.8 163.4L117.9 172.8L116.9 174.8L138.6 174.8L140.0 170.6L143.4 163.9ZM164.2 152.7L165.7 151.0L167.9 146.1L169.8 139.8L169.6 138.6L168.7 137.4L166.8 136.2L165.5 136.2L163.6 137.8L158.4 147.2L154.3 152.4L154.1 153.2L154.6 154.7L156.1 155.2ZM168.0 152.6L168.3 153.9L169.1 155.1L173.4 159.3L178.4 166.2L180.6 166.8L181.6 166.5L182.4 165.6L184.9 159.1L187.0 155.8L187.3 154.6L187.4 149.2L186.6 145.4L185.5 143.7L182.8 142.5L176.0 140.8L173.1 140.9L172.2 141.3L171.8 142.0L171.2 144.9L168.4 151.2ZM204.5 110.7L199.7 112.7L198.4 114.3L197.3 125.6L197.8 131.1L198.3 132.6L204.5 135.9ZM148.0 161.4L147.1 161.5L145.1 163.4L141.8 169.6L139.9 174.8L160.6 174.8L159.4 173.0L152.4 167.3ZM150.9 156.1L149.9 157.6L149.8 160.0L151.1 162.6L153.9 166.0L155.7 167.7L160.0 171.0L161.1 171.5L162.4 171.6L163.6 171.1L170.6 167.1L175.1 166.3L175.5 165.9L175.4 164.2L173.3 161.4L169.3 157.8L166.1 155.4L163.8 155.2L156.6 156.8ZM204.5 137.3L198.2 134.6L197.3 134.5L196.3 134.8L193.6 137.4L188.2 143.5L188.0 145.6L188.9 149.8L189.4 153.4L189.8 154.5L190.9 155.5L198.8 157.9L201.8 158.3L204.5 158.2ZM185.5 174.8L183.2 169.9L182.1 168.8L177.8 167.8L174.5 167.6L172.6 167.8L170.5 168.5L168.3 169.7L163.5 173.1L162.9 173.7L162.4 174.8ZM202.8 160.3L190.6 157.5L189.1 157.5L188.1 158.3L186.7 160.6L185.7 163.3L184.8 167.7L185.2 169.1L188.1 174.8L204.5 174.8L204.5 160.3Z" fill="#062206"/>
<rect width="201.5" height="171.79999999999995" filter="url(#jn)" opacity="0.55"/>
<circle cx="12.0" cy="163.5" r="2.6" fill="none" stroke="#1cf51c" stroke-width="2.4"/>
<circle cx="7.5" cy="103.8" r="2.0" fill="none" stroke="#1cf51c" stroke-width="1.8"/>
<circle cx="105.8" cy="144.5" r="2.5" fill="none" stroke="#1cf51c" stroke-width="2.2"/>
<circle cx="102.6" cy="125.9" r="2.3" fill="none" stroke="#1cf51c" stroke-width="2.1"/>
<circle cx="127.6" cy="134.0" r="2.1" fill="none" stroke="#1cf51c" stroke-width="1.9"/>
<circle cx="70.6" cy="164.8" r="2.5" fill="none" stroke="#1cf51c" stroke-width="2.3"/>
<circle cx="85.6" cy="165.6" r="1.8" fill="none" stroke="#1cf51c" stroke-width="1.6"/>
<circle cx="116.0" cy="174.1" r="2.8" fill="none" stroke="#1cf51c" stroke-width="2.5"/>
<circle cx="124.6" cy="155.0" r="2.6" fill="none" stroke="#1cf51c" stroke-width="2.4"/>
<circle cx="144.3" cy="159.7" r="2.0" fill="none" stroke="#1cf51c" stroke-width="1.8"/>
<circle cx="165.3" cy="124.3" r="2.2" fill="none" stroke="#1cf51c" stroke-width="2.0"/>
<circle cx="145.9" cy="157.9" r="2.7" fill="none" stroke="#1cf51c" stroke-width="2.4"/>
<circle cx="18.2" cy="120.4" r="2.7" fill="none" stroke="#1cf51c" stroke-width="2.4"/>
<circle cx="43.9" cy="144.8" r="2.8" fill="none" stroke="#1cf51c" stroke-width="2.5"/>
<circle cx="196.4" cy="133.9" r="2.8" fill="none" stroke="#1cf51c" stroke-width="2.5"/>
<circle cx="181.7" cy="47.3" r="2.7" fill="none" stroke="#1cf51c" stroke-width="2.4"/>
<circle cx="189.8" cy="157.9" r="2.5" fill="none" stroke="#1cf51c" stroke-width="2.2"/>
<circle cx="178.1" cy="165.5" r="1.7" fill="none" stroke="#1cf51c" stroke-width="1.5"/>
<circle cx="65.0" cy="10.1" r="3.0" fill="none" stroke="#1cf51c" stroke-width="2.7"/>
<circle cx="92.6" cy="11.7" r="1.6" fill="none" stroke="#1cf51c" stroke-width="1.4"/>
<circle cx="141.2" cy="10.9" r="1.8" fill="none" stroke="#1cf51c" stroke-width="1.6"/>
<circle cx="21.2" cy="117.3" r="2.0" fill="none" stroke="#1cf51c" stroke-width="1.8"/>
<circle cx="178.6" cy="47.9" r="1.4" fill="none" stroke="#1cf51c" stroke-width="1.3"/>
<circle cx="166.5" cy="60.4" r="1.8" fill="none" stroke="#1cf51c" stroke-width="1.6"/>
<circle cx="192.4" cy="55.9" r="2.9" fill="none" stroke="#1cf51c" stroke-width="2.6"/>
<circle cx="195.1" cy="64.0" r="1.9" fill="none" stroke="#1cf51c" stroke-width="1.7"/>
<circle cx="168.6" cy="131.7" r="2.5" fill="none" stroke="#1cf51c" stroke-width="2.2"/>
<circle cx="173.2" cy="137.5" r="2.8" fill="none" stroke="#1cf51c" stroke-width="2.5"/>
<circle cx="148.3" cy="156.8" r="1.6" fill="none" stroke="#1cf51c" stroke-width="1.4"/>
<circle cx="94.1" cy="10.5" r="2.5" fill="none" stroke="#1cf51c" stroke-width="2.2"/>
<circle cx="99.7" cy="119.6" r="2.6" fill="none" stroke="#1cf51c" stroke-width="2.3"/>
<circle cx="87.7" cy="115.8" r="2.9" fill="none" stroke="#1cf51c" stroke-width="2.6"/>
<circle cx="130.5" cy="37.3" r="1.6" fill="none" stroke="#1cf51c" stroke-width="1.4"/>
<circle cx="122.9" cy="25.9" r="2.5" fill="none" stroke="#1cf51c" stroke-width="2.2"/>
<circle cx="10.7" cy="82.1" r="2.3" fill="none" stroke="#1cf51c" stroke-width="2.1"/>
<circle cx="30.0" cy="93.6" r="2.5" fill="none" stroke="#1cf51c" stroke-width="2.3"/>
<circle cx="184.6" cy="18.9" r="2.3" fill="none" stroke="#1cf51c" stroke-width="2.1"/>
<circle cx="5.8" cy="4.2" r="2.9" fill="none" stroke="#1cf51c" stroke-width="2.6"/>
<circle cx="131.4" cy="106.9" r="2.8" fill="none" stroke="#1cf51c" stroke-width="2.5"/>
<circle cx="76.4" cy="62.1" r="2.0" fill="none" stroke="#1cf51c" stroke-width="1.8"/>
<circle cx="92.4" cy="59.3" r="2.0" fill="none" stroke="#1cf51c" stroke-width="1.8"/>
<circle cx="14.1" cy="68.7" r="1.7" fill="none" stroke="#1cf51c" stroke-width="1.6"/>
<circle cx="17.1" cy="35.6" r="2.8" fill="none" stroke="#1cf51c" stroke-width="2.6"/>
<circle cx="42.3" cy="59.5" r="1.9" fill="none" stroke="#1cf51c" stroke-width="1.7"/>
<circle cx="127.9" cy="56.5" r="3.0" fill="none" stroke="#1cf51c" stroke-width="2.7"/>
<circle cx="123.6" cy="60.2" r="1.4" fill="none" stroke="#1cf51c" stroke-width="1.3"/>
<circle cx="150.2" cy="63.4" r="3.0" fill="none" stroke="#1cf51c" stroke-width="2.7"/>
<circle cx="113.7" cy="79.8" r="1.9" fill="none" stroke="#1cf51c" stroke-width="1.7"/>
<circle cx="86.6" cy="91.3" r="1.8" fill="none" stroke="#1cf51c" stroke-width="1.6"/>
<circle cx="86.6" cy="91.3" r="1.5" fill="none" stroke="#1cf51c" stroke-width="1.4"/>
<circle cx="95.4" cy="-0.3" r="2.7" fill="none" stroke="#1cf51c" stroke-width="2.4"/>
<path d="M-10.0 60.3L45.0 36.3L125.0 -1.7" fill="none" stroke="#1cf51c" stroke-width="12.5" stroke-linecap="round" stroke-linejoin="round"/>
<path d="M-10.0 60.3L45.0 36.3L125.0 -1.7" fill="none" stroke="#020802" stroke-width="10" stroke-linecap="round" stroke-linejoin="round"/>
<path d="M-10.0 110.3L55.0 81.3L115.0 54.3L185.0 24.3L205.0 16.3" fill="none" stroke="#1cf51c" stroke-width="9.5" stroke-linecap="round" stroke-linejoin="round"/>
<path d="M-10.0 110.3L55.0 81.3L115.0 54.3L185.0 24.3L205.0 16.3" fill="none" stroke="#020802" stroke-width="7" stroke-linecap="round" stroke-linejoin="round"/>
</g></g></g>
<clipPath id="jc12"><rect x="955" y="1373.7" width="201.79999999999995" height="171.79999999999995"/></clipPath>
<g clip-path="url(#jc12)"><g filter="url(#jb)"><rect x="955" y="1373.7" width="201.79999999999995" height="171.79999999999995" fill="#1cf81c"/>
<g transform="translate(955,1373.7)">
<path d="M195.2 -3.0L200.6 -0.6L204.8 0.5L204.8 -3.0ZM94.3 -3.0L94.4 2.2L94.8 3.1L95.5 3.6L102.4 2.6L108.6 3.7L109.7 3.6L110.5 3.1L110.7 2.3L108.5 -3.0ZM109.8 -3.0L114.1 4.8L117.2 6.6L118.4 6.9L119.7 6.8L123.4 4.8L124.5 3.6L125.2 1.8L126.2 -3.0ZM128.0 -1.9L127.3 2.1L127.5 3.6L128.0 4.7L130.5 7.6L134.0 10.7L136.1 11.4L140.0 10.2L149.7 6.6L150.2 6.2L151.0 2.3L152.9 -3.0L128.6 -3.0ZM155.2 -3.0L153.0 2.9L152.0 6.5L152.5 8.4L155.4 12.6L158.2 16.0L159.8 17.2L161.7 18.0L166.4 18.7L168.6 18.7L170.4 18.1L171.6 16.7L171.9 14.6L171.8 8.7L172.1 6.0L174.1 0.4L174.4 -0.9L174.2 -1.7L173.0 -3.0ZM179.6 -3.0L175.7 -1.8L175.6 0.0L173.6 5.0L173.0 7.5L172.8 10.5L173.2 17.5L173.5 18.2L176.7 21.3L183.9 22.4L185.1 21.2L185.2 15.1L185.6 12.9L189.5 5.3L190.1 2.8L190.5 -3.0ZM193.1 -1.1L192.6 -1.0L191.8 0.2L190.8 6.0L187.9 11.6L187.3 13.5L187.1 15.7L187.3 20.9L188.0 22.8L188.8 23.4L195.4 26.7L199.0 28.8L200.2 28.2L203.1 25.9L204.8 19.8L204.8 3.4L198.4 1.4ZM15.2 -3.0L16.8 2.1L18.2 4.6L20.0 7.1L21.1 8.2L22.4 8.8L23.8 9.0L25.0 8.7L29.1 5.8L34.7 2.9L35.5 2.1L36.0 1.0L36.1 -3.0ZM38.2 -3.0L38.7 1.5L41.9 4.8L45.5 7.6L52.7 11.7L54.8 12.2L57.4 11.5L58.9 10.1L60.0 8.1L60.5 6.1L60.2 4.3L59.0 1.7L55.5 -3.0ZM58.2 -3.0L61.2 1.1L62.2 3.3L63.3 6.9L64.0 7.5L69.5 7.9L70.3 7.6L71.6 1.8L73.5 -3.0ZM84.4 13.3L86.0 13.1L87.1 12.5L89.4 9.8L92.9 4.4L93.6 0.1L93.4 -3.0L74.0 -3.0L72.5 0.9L71.4 5.1L71.5 7.6L72.0 8.6L74.4 10.4L80.0 12.3ZM113.2 6.8L105.5 4.6L102.9 4.4L100.4 4.6L94.5 6.4L93.2 7.4L90.7 11.3L90.4 12.0L90.5 13.6L91.3 15.0L92.8 16.6L96.3 19.7L98.7 21.0L104.1 23.3L105.2 23.5L106.4 23.3L107.4 22.6L109.3 20.3L112.5 16.1L112.9 15.4L113.6 11.5L114.9 9.4L115.1 8.7L114.7 7.8ZM120.1 9.3L118.6 10.5L116.8 13.0L116.0 15.6L116.4 17.6L120.1 27.4L120.7 28.3L121.7 28.8L122.9 28.8L133.4 26.1L135.1 25.2L135.4 24.6L135.3 23.9L133.6 20.4L132.5 15.0L131.6 14.0L128.3 11.3L125.2 7.7L124.5 7.4ZM152.0 9.3L150.9 8.8L149.8 8.9L139.7 13.5L137.8 14.6L136.5 16.2L136.1 17.9L136.4 20.4L138.7 27.0L141.0 31.1L143.9 32.8L148.1 34.3L149.7 34.3L150.9 33.6L151.7 32.4L153.6 23.5L154.9 20.8L157.1 17.6L157.1 16.4L156.3 15.1ZM160.5 18.3L159.1 18.6L157.5 20.1L156.0 22.2L154.9 25.0L152.9 34.7L153.9 36.1L158.1 39.1L159.6 40.5L162.8 45.6L164.3 46.0L165.6 45.4L168.2 41.7L169.2 39.3L170.5 31.3L171.2 29.1L172.2 27.1L174.9 23.5L175.3 22.0L174.0 20.5L172.1 19.3L166.5 19.5ZM177.3 23.9L175.3 25.4L172.8 29.1L172.1 31.3L170.8 39.7L169.9 42.4L167.1 47.4L167.5 48.4L168.6 49.4L171.2 50.8L172.7 51.1L175.3 50.8L178.0 50.0L180.6 48.5L187.8 43.6L189.8 42.8L192.3 42.4L192.7 41.9L196.0 33.8L196.1 32.5L195.5 31.5L186.1 25.7L184.4 25.1L178.4 23.8ZM204.8 28.3L203.8 28.0L202.9 28.3L200.0 30.5L198.9 31.8L195.7 38.6L194.0 44.1L195.2 47.3L197.6 51.5L204.8 60.4ZM-3.0 2.2L-1.9 -1.3L-1.2 -3.0L-3.0 -3.0ZM-2.9 16.9L1.8 15.8L4.0 16.1L11.9 18.0L17.9 18.5L19.6 18.2L21.0 17.4L21.8 16.2L22.2 14.5L22.0 12.9L21.2 11.3L15.8 4.0L14.7 1.6L13.8 -3.0L1.9 -3.0L0.2 1.0L-1.3 7.1L-3.0 10.9ZM24.7 25.8L26.1 27.0L28.3 27.3L33.0 26.1L35.4 24.6L37.8 22.5L43.7 15.9L45.5 14.9L48.2 14.3L48.6 13.7L48.5 12.8L47.9 11.8L46.8 10.9L42.6 8.1L37.3 3.7L36.4 3.4L35.3 3.6L30.2 6.2L26.9 8.7L24.3 12.2L22.8 17.7L22.5 19.0L22.8 20.2ZM27.9 28.9L27.6 29.7L28.0 30.8L29.9 32.6L37.3 35.9L44.2 39.8L45.1 40.1L46.0 39.9L46.6 39.3L50.7 33.1L55.5 28.1L56.1 27.0L56.8 23.7L56.9 17.8L56.5 16.7L55.8 15.9L53.2 15.3L48.0 15.8L46.3 16.4L44.5 17.7L38.3 24.5L35.8 26.4L33.3 27.7ZM62.8 10.7L60.3 14.0L58.9 18.5L58.6 21.0L58.6 26.7L59.1 28.6L59.9 29.3L62.3 30.3L72.2 33.5L74.0 34.5L77.6 37.5L79.6 37.8L80.5 37.4L81.0 36.6L81.4 34.6L81.3 24.0L82.6 16.5L82.5 15.5L81.9 14.7L80.8 14.2L75.8 12.5L69.8 9.8L65.5 9.6ZM88.3 15.8L86.6 16.1L85.9 16.7L84.0 22.2L83.6 27.9L83.8 36.3L83.1 41.0L84.5 42.3L88.4 43.7L91.4 44.4L95.4 43.0L98.2 41.6L100.7 40.3L102.0 39.0L102.6 35.3L102.3 31.1L103.0 27.2L101.7 25.8L94.7 21.6ZM107.0 26.5L105.1 31.3L104.7 37.2L104.9 39.5L105.4 40.4L106.1 40.9L109.7 41.6L110.8 41.4L111.8 40.8L112.5 39.9L114.7 35.6L117.5 31.7L117.5 29.5L115.7 21.4L115.1 20.4L114.3 20.0L113.3 20.2ZM138.5 32.4L138.7 30.8L137.9 29.0L136.7 28.2L135.9 28.3L127.7 31.0L120.4 32.7L119.5 33.5L116.3 37.8L114.7 40.8L114.5 41.8L114.7 42.9L121.3 48.8L122.6 50.6L125.0 54.9L126.3 55.0L127.9 54.2L131.8 50.8L132.9 49.4L133.6 47.6L135.4 39.1L136.6 35.9ZM161.1 47.8L161.4 46.0L161.1 45.2L159.3 42.3L156.5 39.4L151.2 36.0L147.6 35.2L140.8 32.9L139.8 33.3L139.0 34.1L137.5 36.7L136.4 39.9L134.7 48.8L133.8 50.7L132.1 52.9L132.0 53.6L132.4 54.4L133.2 55.1L134.4 55.5L146.4 56.1L154.3 57.2L156.7 55.0ZM153.8 76.5L154.5 77.5L155.7 78.1L157.0 78.1L161.0 76.9L167.3 75.9L169.0 75.3L172.0 73.1L174.4 70.7L175.0 69.4L175.8 62.8L175.8 60.4L175.3 58.2L174.3 56.3L170.9 52.0L164.3 48.0L162.6 48.1L161.2 49.4L157.3 55.6L154.7 58.5L152.5 63.6L152.2 65.2L152.2 66.7L153.1 70.3ZM176.5 69.8L176.9 70.8L178.3 72.5L182.2 75.8L183.9 76.4L185.6 76.1L191.7 70.4L194.2 68.9L198.8 67.4L200.6 66.4L202.1 64.9L202.6 63.8L202.7 62.3L202.3 60.9L196.3 53.1L195.1 51.0L193.4 46.8L192.8 45.8L191.9 45.1L190.7 45.0L188.6 45.9L181.3 51.2L178.7 52.5L174.3 53.6L174.2 54.2L176.8 58.6L177.2 60.8ZM203.4 67.3L201.8 68.5L195.0 70.8L192.6 72.4L190.4 74.8L188.6 77.5L188.0 78.8L188.0 80.3L188.4 81.7L189.7 83.6L191.1 84.6L200.4 88.8L201.6 88.9L204.8 87.7L204.8 65.3ZM-3.0 45.3L3.4 45.0L4.5 44.6L5.3 43.7L5.9 41.5L5.6 40.6L-0.2 31.7L-3.0 26.1ZM25.9 31.4L21.3 21.6L20.2 20.7L12.3 19.8L3.9 18.3L1.7 18.3L0.3 18.9L-0.8 20.4L-1.4 22.3L-1.5 24.3L-1.0 26.0L6.5 37.7L9.5 43.7L12.8 46.3L15.0 47.3L16.8 47.2L19.7 45.1L21.5 43.1L24.7 37.8L25.9 35.1L26.3 33.1ZM18.8 50.2L19.4 51.4L20.8 52.7L25.2 56.3L29.1 61.0L30.1 61.5L31.3 61.4L32.5 60.9L35.7 58.4L39.8 53.9L45.0 48.8L45.8 47.1L45.9 45.6L44.9 42.5L40.5 39.4L35.6 36.9L32.8 36.0L30.8 35.8L29.1 36.6L23.9 44.6L22.0 47.0L19.1 49.5ZM51.9 49.2L54.4 49.8L58.8 49.3L66.5 49.6L68.4 48.8L70.1 47.4L74.0 42.6L74.8 40.4L74.7 38.4L72.7 36.8L70.9 36.0L63.4 33.6L57.0 31.0L55.7 31.1L54.6 31.8L51.3 35.4L47.5 41.5L47.6 43.4L49.6 47.3ZM63.1 72.7L64.6 72.5L66.2 71.9L67.5 70.8L71.0 67.0L71.6 65.6L71.9 62.3L74.8 56.0L75.6 53.0L75.7 51.2L75.2 49.5L74.4 48.3L73.4 47.7L72.4 47.8L69.8 50.2L68.0 51.2L66.0 51.4L61.0 50.8L58.2 50.9L56.6 51.4L55.5 52.5L54.9 53.9L54.9 55.5L57.2 64.0L57.8 68.4L58.4 69.5L60.6 71.3L61.9 72.3ZM81.6 43.2L80.1 43.0L79.0 43.3L78.5 44.3L78.0 52.7L77.3 55.8L74.5 62.8L74.6 63.7L75.3 64.7L77.9 66.1L83.9 66.3L90.3 67.3L91.3 66.7L92.1 65.6L93.2 62.6L93.8 57.0L93.5 54.4L92.8 52.1L90.7 48.0L89.6 46.8ZM96.3 70.5L108.0 74.8L112.0 73.3L114.4 71.0L120.0 68.3L121.6 67.1L123.0 65.3L124.2 63.1L124.7 60.8L124.8 59.0L124.1 56.6L120.6 51.0L119.0 49.3L112.8 44.1L111.9 43.5L106.8 42.8L103.6 41.8L102.1 41.9L95.2 45.1L92.9 46.7L92.5 47.6L92.7 48.6L94.2 52.4L95.0 56.9L94.4 65.2L94.5 68.0L95.1 69.4ZM138.7 80.5L139.2 79.5L139.4 78.3L139.0 77.1L137.8 75.3L134.4 71.8L128.0 66.8L126.6 66.1L125.2 66.0L124.0 66.5L121.0 69.0L115.0 72.2L114.1 73.5L113.9 75.3L114.3 77.1L115.4 79.5L123.4 92.9L124.4 94.1L125.6 95.0L127.1 95.4L128.5 95.1L129.9 93.8L131.8 90.9L135.8 83.0L136.8 81.8ZM126.9 58.1L126.6 60.2L127.2 62.2L128.4 63.9L137.3 71.1L140.5 74.7L142.2 78.2L143.4 79.2L146.4 79.3L147.8 78.9L149.3 77.8L150.6 76.2L151.5 74.4L151.8 72.7L150.9 65.1L151.9 60.9L151.7 59.7L151.0 58.7L149.8 58.1L147.4 57.7L136.0 57.1L129.3 56.1L127.9 56.7ZM159.1 79.3L158.2 80.6L157.9 82.2L158.3 83.6L160.9 86.4L166.8 93.8L171.4 97.3L173.1 97.8L174.8 97.4L177.1 95.9L178.1 94.8L179.7 91.1L181.0 89.3L182.5 88.0L185.6 86.4L186.9 85.3L187.2 84.4L186.9 83.2L184.8 79.9L179.3 76.0L175.5 72.5L174.8 72.4L174.0 72.8L170.9 75.4L169.3 76.4L160.4 78.5ZM186.1 104.9L190.7 105.0L198.3 105.7L200.1 105.1L200.5 104.4L200.5 103.6L199.4 99.9L199.3 98.0L200.2 93.4L199.9 91.5L190.3 86.5L188.5 86.6L183.0 89.7L181.6 91.3L180.6 93.5L180.5 94.7L180.8 95.8L184.1 100.5ZM203.6 91.4L202.6 92.8L202.0 94.2L201.5 99.1L201.8 101.1L203.0 105.0L204.8 107.5L204.8 90.6ZM5.9 62.8L9.4 58.8L12.8 53.8L13.6 52.2L13.8 50.6L13.5 49.3L11.9 47.3L9.3 45.7L7.9 45.5L1.3 46.7L-3.0 46.7L-3.0 62.8L-1.9 62.4L-0.5 62.4L4.3 63.4ZM26.7 72.5L27.3 70.4L27.1 66.6L26.1 63.4L24.9 61.2L23.4 59.1L19.3 54.9L18.2 54.1L16.9 53.9L15.6 54.2L14.6 55.1L7.8 64.0L7.5 64.9L7.6 65.8L8.7 67.6L13.1 72.8L14.9 75.4L15.9 76.0L18.1 76.2L20.0 75.5L24.7 73.6ZM31.1 72.3L32.6 73.5L33.5 73.9L34.5 73.9L40.5 70.0L43.3 69.1L46.1 68.8L51.4 69.3L53.8 69.2L54.8 68.6L55.3 67.7L55.4 66.4L54.8 64.0L51.3 53.6L50.4 52.3L49.1 51.6L48.1 51.5L46.1 52.4L39.7 58.6L31.4 64.4L30.1 66.4L29.9 67.5L30.5 71.2ZM67.3 84.6L64.5 80.6L62.6 76.4L59.0 74.0L56.5 71.7L52.8 71.8L47.9 71.3L45.5 71.6L43.0 72.7L40.6 74.4L39.8 75.6L39.5 77.1L39.7 78.6L43.6 84.1L44.5 86.1L46.0 93.5L47.1 94.4L58.7 94.9L60.2 94.7L61.4 93.7L64.8 89.2L67.1 85.4ZM88.5 72.2L88.6 71.7L88.0 70.2L86.7 69.2L83.6 68.7L74.2 68.9L68.4 74.2L67.4 76.0L67.4 76.9L68.9 80.9L70.3 83.4L73.7 85.1L75.2 85.3L78.6 82.4L84.8 75.3ZM96.6 73.3L95.5 73.3L93.2 74.3L90.2 75.0L88.4 75.8L86.4 77.3L84.4 79.4L78.4 87.0L78.2 88.7L79.2 90.2L83.0 92.6L90.3 95.6L91.6 95.8L92.8 95.3L94.0 94.4L95.0 92.9L96.7 87.7L98.0 85.8L99.6 84.3L102.9 82.3L104.3 81.1L105.2 79.4L105.4 78.4L105.1 77.3L104.5 76.4L103.5 75.8ZM112.0 78.3L111.0 77.6L109.8 78.0L108.8 79.1L106.8 82.6L105.4 84.1L101.9 86.5L100.4 88.0L99.3 89.9L98.9 91.6L99.1 93.5L99.7 95.1L100.5 96.4L103.7 99.4L105.8 101.0L111.0 103.6L116.3 105.7L117.7 105.9L119.1 105.4L120.4 104.4L123.2 100.4L123.6 99.5L123.6 98.5L116.9 88.3ZM127.6 98.5L127.3 99.7L127.5 100.9L128.3 102.1L129.3 102.9L131.4 103.8L133.8 104.3L142.6 105.1L144.2 105.1L145.7 104.5L146.7 103.4L151.4 93.7L151.8 92.2L152.4 86.5L152.4 84.6L151.7 82.8L150.4 81.6L148.6 81.3L142.3 81.1L140.1 81.8L137.6 83.1L136.7 84.3L132.4 92.3L130.5 95.2ZM153.8 116.3L155.0 117.0L156.4 117.1L157.7 116.6L158.6 115.3L160.7 109.3L162.0 106.6L163.7 104.7L165.7 103.5L169.7 102.0L170.4 101.1L170.2 99.7L169.4 98.2L164.8 93.7L161.0 88.9L159.5 87.5L158.2 86.8L156.6 86.9L155.1 87.7L154.0 88.8L153.2 93.6L149.1 101.7L148.3 104.2L148.2 105.7L148.5 107.1L153.0 115.3ZM184.8 106.6L184.7 105.1L184.0 103.0L181.3 98.8L179.9 97.8L178.1 97.7L176.4 98.4L173.9 100.0L171.6 102.4L166.0 104.7L164.3 106.0L162.9 108.0L159.7 116.3L159.2 117.8L159.2 119.2L159.6 120.5L163.3 123.9L165.3 124.8L171.5 125.7L175.1 126.8L176.4 126.9L178.0 126.4L179.3 125.2L180.1 123.6L181.1 115.2L184.3 108.5ZM180.5 126.5L180.8 127.6L181.6 128.5L182.7 129.0L184.0 129.0L193.5 126.1L195.9 124.4L199.6 122.5L202.5 119.5L204.8 116.4L204.8 110.6L204.1 109.5L202.9 108.0L201.7 107.2L200.2 107.0L189.6 106.4L186.7 106.8L185.1 108.5L182.2 114.3L181.7 116.2L181.3 122.5ZM204.8 118.3L200.9 123.3L197.2 125.2L196.6 125.8L196.3 127.5L199.1 133.3L200.3 135.1L204.8 139.6ZM6.1 92.3L7.5 90.2L9.5 84.4L12.6 79.0L12.6 78.0L11.0 73.5L5.1 65.5L3.8 64.4L1.3 63.6L-0.3 63.3L-1.9 63.5L-3.0 64.1L-3.0 93.6L-1.5 94.1L-0.2 94.0ZM30.5 79.3L29.5 77.4L28.7 76.7L27.1 76.3L21.9 77.5L14.5 80.7L12.6 83.6L10.8 87.8L10.1 90.4L10.6 92.0L11.8 93.1L15.2 95.0L19.5 96.4L20.5 96.2L21.4 95.5L21.9 94.2L23.3 88.0L24.4 85.5L25.9 83.6L29.1 81.3L30.3 80.1ZM37.3 80.2L35.8 79.8L34.4 79.9L33.2 80.4L31.2 82.5L27.8 84.7L26.4 86.5L25.3 89.1L24.0 95.7L23.9 97.4L24.4 98.8L25.3 99.9L29.4 103.0L32.4 106.5L33.2 106.6L34.1 106.2L35.1 105.5L41.3 99.1L43.6 97.1L44.4 95.7L44.5 94.9L42.7 87.2L40.3 83.2L38.5 81.1ZM33.0 108.4L32.4 109.5L32.2 110.6L32.6 111.4L33.2 111.9L45.2 112.6L51.5 111.5L59.1 109.3L62.8 109.3L63.8 108.5L63.8 107.9L61.3 99.5L60.7 98.3L59.6 97.4L58.2 97.0L52.1 96.3L46.7 96.2L45.0 96.7L42.4 98.9ZM74.4 87.6L72.1 86.5L71.1 86.4L70.1 86.7L63.9 95.5L63.0 97.2L62.9 98.9L63.2 101.3L66.1 113.9L67.5 115.5L76.1 119.7L78.0 120.1L83.5 119.7L84.7 119.0L85.5 117.9L86.3 115.6L87.1 105.3L87.8 103.4L89.6 100.1L89.6 99.1L89.0 98.1L87.7 97.3L82.4 94.6L80.1 93.0ZM87.4 119.0L87.3 120.4L87.7 121.5L88.6 122.4L89.8 122.9L92.9 123.0L95.1 122.2L101.8 115.6L103.8 114.2L105.7 113.6L109.9 113.4L111.2 112.9L112.1 111.7L112.3 110.0L111.6 108.4L103.5 103.1L97.8 97.8L96.7 97.4L95.4 97.7L93.0 99.6L90.0 104.5L89.2 106.6L88.4 114.9ZM117.8 113.8L116.9 113.3L113.4 114.9L111.6 115.3L108.2 115.4L106.5 115.9L104.6 117.0L100.4 121.1L99.2 123.3L99.0 124.4L99.3 125.4L100.0 126.1L105.3 130.0L110.2 135.6L112.1 137.2L113.7 137.8L118.0 136.3L119.1 135.6L123.5 131.1L124.3 129.6L123.0 127.0L119.4 121.3L118.5 119.2ZM120.3 108.3L119.5 111.3L119.4 113.9L119.9 118.6L121.9 122.7L126.1 128.2L126.9 129.0L128.2 129.6L133.6 130.4L136.3 131.2L137.2 131.1L138.8 130.3L140.1 128.7L144.2 121.5L146.1 119.6L148.2 118.4L151.3 117.5L151.9 116.8L152.0 115.9L151.7 114.8L150.0 111.4L147.6 108.0L145.7 106.7L132.4 104.9L130.3 104.1L125.4 101.3L124.9 101.5L123.9 102.6ZM138.5 131.9L137.6 133.7L137.5 134.6L138.3 138.1L140.3 141.6L141.6 142.7L143.4 143.6L145.2 144.0L150.4 143.9L153.0 143.4L156.7 141.9L157.9 140.8L158.7 139.4L160.3 133.6L160.7 129.4L162.3 125.6L162.0 124.6L157.5 120.4L155.7 119.2L153.7 118.6L149.9 118.8L147.8 119.5L145.9 120.8L144.2 122.9L140.5 129.9ZM179.1 150.5L180.8 147.0L181.6 142.3L181.3 140.5L179.4 135.2L178.9 131.3L178.0 129.9L176.6 129.1L174.4 128.3L169.3 126.9L166.2 126.6L163.6 127.4L162.9 128.1L162.4 129.5L161.5 135.2L159.1 142.1L159.1 143.5L159.8 147.5L161.6 151.2L163.1 153.0L166.0 154.9L167.7 155.3L170.2 155.3L172.7 154.7L175.2 153.5L177.7 151.9ZM185.2 155.3L186.5 155.3L196.6 151.4L198.8 150.0L200.8 148.2L204.2 144.3L204.7 143.3L204.7 142.2L204.2 141.0L199.4 136.2L198.1 134.4L195.5 129.3L194.3 127.8L193.5 127.4L192.4 127.5L182.5 130.5L181.0 131.9L180.7 132.8L180.8 135.2L182.9 142.2L181.5 150.2L181.8 151.1ZM193.0 154.9L192.6 155.5L192.8 156.3L194.3 157.7L202.4 160.7L203.8 160.8L204.8 160.2L204.8 147.7L201.5 150.6L199.0 152.2ZM-0.8 106.3L-2.2 97.2L-3.0 95.5L-3.0 111.6L-1.6 109.6L-1.1 108.1ZM19.0 125.9L19.4 123.9L19.0 123.1L15.5 120.5L7.0 115.2L2.1 109.9L1.4 109.7L0.2 110.2L-1.0 111.9L-3.0 113.7L-3.0 120.0L-2.4 121.6L0.6 126.4L3.5 129.9L11.6 132.1L13.1 132.0ZM21.9 100.4L18.3 99.3L10.8 95.3L7.3 94.3L5.7 94.4L1.8 96.0L0.8 97.3L0.5 98.8L1.2 104.3L6.1 110.0L9.9 112.8L19.3 118.4L23.1 122.3L24.3 122.3L27.6 121.2L28.5 120.6L29.3 119.6L29.7 118.4L30.9 109.0L30.6 108.2L28.4 105.4ZM31.5 120.6L31.8 121.7L32.4 122.6L34.5 124.2L36.3 124.7L42.0 124.7L44.6 125.1L47.9 126.0L52.7 125.9L54.1 125.1L58.5 118.6L61.4 115.5L62.5 113.4L62.6 112.4L61.6 110.7L60.8 110.4L58.7 110.5L51.3 113.0L48.3 113.7L45.2 113.9L34.1 113.0L32.9 113.3L32.1 114.0L31.8 115.1ZM74.4 122.9L74.1 121.7L73.4 120.8L72.2 120.0L66.9 117.2L64.3 116.4L63.1 116.7L60.9 118.2L59.1 120.3L56.1 124.9L54.7 126.4L53.1 127.1L50.3 127.5L49.5 128.1L49.0 129.0L48.9 130.1L49.8 134.6L51.0 137.0L54.7 141.9L56.0 143.0L57.4 143.7L58.8 143.9L60.1 143.5L67.4 139.3L71.0 135.4L72.2 133.5L73.0 131.3L73.6 128.9ZM84.3 121.7L82.1 121.4L78.6 121.6L76.7 122.3L76.1 123.1L75.5 125.4L74.6 130.7L73.8 133.2L72.6 135.4L69.2 139.5L69.7 141.1L71.8 143.7L76.6 148.1L79.5 149.5L83.8 150.1L86.0 149.9L88.2 149.3L89.2 148.7L89.9 147.7L90.5 145.2L89.7 136.6L89.0 134.0L86.2 127.7L85.8 126.0L85.7 123.4ZM93.7 126.2L90.2 125.8L88.8 126.2L88.0 126.9L88.0 127.9L91.3 133.9L92.1 136.5L92.6 139.3L92.6 145.4L92.9 147.1L96.1 151.0L97.1 151.8L98.4 151.8L100.8 151.3L102.2 150.6L110.1 142.1L110.5 141.1L110.3 139.8L108.7 137.5L103.4 132.5L95.4 127.0ZM120.1 141.2L118.2 140.5L115.3 141.2L113.9 142.9L109.1 147.5L107.3 149.7L106.8 151.5L107.8 153.1L114.3 157.2L118.1 160.1L121.7 159.0L126.0 159.7L126.6 159.5L127.1 158.6L126.4 156.2L125.9 150.7L125.3 148.6L122.8 144.3ZM121.5 136.5L121.6 138.3L122.4 140.0L125.7 145.1L126.9 147.5L127.6 149.8L128.6 155.9L129.2 157.8L130.3 159.6L131.4 160.6L133.1 161.3L134.9 161.5L136.6 161.1L138.0 160.2L138.9 158.9L140.8 153.2L141.3 150.2L141.4 145.2L141.1 143.9L137.6 138.8L137.0 137.0L136.4 133.5L135.7 132.2L134.4 131.4L132.7 131.0L128.9 130.6L126.9 131.0L125.1 132.0L123.7 133.4L122.4 134.9ZM143.7 144.7L142.8 145.2L142.6 146.1L142.4 150.7L141.9 153.4L138.7 162.7L138.9 164.0L140.8 166.0L144.7 168.3L151.1 169.3L153.4 169.1L154.8 168.3L160.6 159.4L163.3 156.3L163.7 155.5L163.3 154.6L159.8 150.3L157.5 144.0L156.5 143.6L150.1 144.8ZM183.8 157.6L183.2 156.2L181.0 153.6L180.3 153.4L174.9 156.8L172.5 157.4L167.3 156.8L166.1 157.0L162.9 159.9L158.9 165.7L158.5 166.8L158.5 167.9L158.9 168.8L167.5 174.8L181.5 174.8L181.8 171.8L183.6 166.2L183.9 163.9ZM189.0 158.5L187.9 158.6L187.0 159.3L186.5 160.5L186.4 166.8L185.0 172.5L184.8 174.8L203.6 174.8L203.9 168.8L203.4 166.0L202.8 164.7L201.8 163.9ZM-3.0 135.0L-0.2 132.5L0.3 131.4L0.3 130.2L-3.0 124.2ZM12.8 135.5L12.1 134.3L10.9 133.6L4.1 132.2L2.6 132.4L1.3 133.1L-3.0 136.2L-3.0 158.6L-2.0 159.3L-1.1 159.5L-0.1 159.1L6.4 154.0L8.4 152.8L11.3 152.1L11.8 151.6L11.1 146.9L12.9 136.9ZM21.5 125.5L17.5 129.4L13.9 134.3L11.7 145.9L11.7 148.1L12.1 150.1L12.7 151.8L13.6 152.9L16.7 154.8L28.3 160.4L29.2 160.5L30.9 160.2L32.0 159.2L32.3 158.4L32.5 151.5L32.9 148.7L35.2 141.3L33.6 133.5L33.8 126.3L30.8 123.3L29.6 122.8L22.5 125.0ZM40.8 162.8L45.6 162.4L47.9 162.0L49.1 161.4L49.9 160.4L51.1 155.0L54.5 149.8L55.3 147.6L55.3 146.3L54.5 144.9L50.7 140.2L48.1 135.5L46.5 128.0L45.6 127.5L44.0 127.2L40.1 127.2L38.6 127.6L37.2 128.6L36.1 130.1L35.7 131.8L35.8 134.8L37.0 141.4L36.8 142.9L34.4 148.4L33.9 150.9L33.6 156.8L34.2 159.2L34.9 159.9L39.2 162.4ZM68.1 141.4L66.8 141.5L58.6 147.2L57.3 150.5L53.7 155.8L53.0 157.6L52.8 161.0L53.9 162.7L57.7 165.6L59.9 165.3L61.5 165.5L67.3 167.0L68.4 166.9L68.9 166.4L76.3 150.5L76.3 149.7L75.9 148.8ZM79.1 150.3L78.6 150.7L73.5 160.6L71.3 166.0L71.3 166.8L72.5 168.3L80.9 171.3L88.0 172.5L88.8 172.3L89.4 171.5L91.5 165.0L95.0 159.0L95.6 157.3L96.0 155.5L95.8 153.7L93.3 150.9L92.1 150.0L91.2 149.7L87.8 150.8L85.2 151.1ZM116.7 164.8L116.5 163.3L115.8 162.2L104.4 154.3L102.9 153.5L101.5 153.5L98.6 154.0L97.8 154.4L97.3 155.1L95.9 159.5L92.5 165.6L91.5 168.3L91.0 171.2L91.2 173.0L92.3 174.8L109.9 174.8L110.7 173.6L113.5 171.0L115.1 169.1L116.4 166.4ZM138.3 167.6L138.2 166.7L136.9 165.1L133.1 163.8L127.0 162.7L122.9 162.7L121.2 163.2L118.9 164.6L116.6 169.4L115.2 171.5L112.1 174.8L131.1 174.8L136.1 170.3ZM142.1 168.5L141.3 168.8L140.5 169.4L135.7 174.8L143.3 174.8L143.8 169.8L143.0 168.8ZM163.6 174.8L155.2 170.0L151.7 170.2L146.5 169.2L145.9 169.3L145.2 170.2L144.7 174.8ZM-0.5 161.5L-1.4 163.3L-2.0 170.8L-1.5 171.8L1.6 174.8L17.2 174.8L19.8 167.2L21.2 165.3L25.3 162.2L25.4 161.5L25.0 160.7L24.1 160.0L14.1 154.5L11.8 153.7L9.9 154.0L7.9 154.8ZM38.5 165.7L37.7 163.8L33.0 160.9L32.0 160.8L28.9 161.7L22.8 166.3L21.5 168.0L20.5 170.2L19.0 174.8L35.3 174.8L35.5 171.9L36.2 170.2L38.3 166.6ZM55.1 174.8L56.0 170.0L56.0 168.6L55.7 167.7L53.5 165.9L51.2 164.6L42.2 165.9L41.1 166.6L38.2 171.0L37.6 172.6L37.4 174.8ZM79.9 174.8L80.1 173.3L79.5 172.2L78.3 171.4L71.1 168.9L62.4 167.0L60.5 166.9L59.4 167.3L58.5 168.4L57.7 170.0L56.8 174.8ZM89.9 174.4L83.7 172.8L82.5 172.9L81.5 173.7L80.8 174.8L90.5 174.8ZM-0.8 174.8L-2.4 173.1L-3.0 172.7L-3.0 174.8Z" fill="#062206"/>
<rect width="201.79999999999995" height="171.79999999999995" filter="url(#jn)" opacity="0.55"/>
<circle cx="13.5" cy="152.8" r="1.7" fill="none" stroke="#1cf81c" stroke-width="1.5"/>
<circle cx="56.3" cy="145.7" r="2.6" fill="none" stroke="#1cf81c" stroke-width="2.3"/>
<circle cx="8.2" cy="46.1" r="2.3" fill="none" stroke="#1cf81c" stroke-width="2.0"/>
<circle cx="45.6" cy="41.0" r="1.7" fill="none" stroke="#1cf81c" stroke-width="1.5"/>
<circle cx="28.9" cy="35.1" r="1.9" fill="none" stroke="#1cf81c" stroke-width="1.7"/>
<circle cx="120.8" cy="30.6" r="1.7" fill="none" stroke="#1cf81c" stroke-width="1.6"/>
<circle cx="66.5" cy="116.3" r="2.4" fill="none" stroke="#1cf81c" stroke-width="2.2"/>
<circle cx="97.9" cy="153.2" r="2.3" fill="none" stroke="#1cf81c" stroke-width="2.1"/>
<circle cx="70.1" cy="166.9" r="2.1" fill="none" stroke="#1cf81c" stroke-width="1.9"/>
<circle cx="58.4" cy="12.5" r="2.1" fill="none" stroke="#1cf81c" stroke-width="1.9"/>
<circle cx="144.3" cy="169.7" r="2.5" fill="none" stroke="#1cf81c" stroke-width="2.3"/>
<circle cx="173.1" cy="97.7" r="1.7" fill="none" stroke="#1cf81c" stroke-width="1.5"/>
<circle cx="91.1" cy="44.9" r="2.5" fill="none" stroke="#1cf81c" stroke-width="2.2"/>
<circle cx="104.6" cy="24.3" r="1.6" fill="none" stroke="#1cf81c" stroke-width="1.5"/>
<circle cx="82.7" cy="14.2" r="2.2" fill="none" stroke="#1cf81c" stroke-width="2.0"/>
<circle cx="192.6" cy="44.5" r="1.6" fill="none" stroke="#1cf81c" stroke-width="1.5"/>
<circle cx="197.8" cy="31.2" r="2.0" fill="none" stroke="#1cf81c" stroke-width="1.8"/>
<circle cx="172.2" cy="51.7" r="2.1" fill="none" stroke="#1cf81c" stroke-width="1.9"/>
<circle cx="154.2" cy="81.3" r="2.3" fill="none" stroke="#1cf81c" stroke-width="2.1"/>
<circle cx="135.2" cy="13.6" r="1.6" fill="none" stroke="#1cf81c" stroke-width="1.5"/>
<circle cx="90.9" cy="147.7" r="2.9" fill="none" stroke="#1cf81c" stroke-width="2.6"/>
<circle cx="76.0" cy="121.5" r="1.8" fill="none" stroke="#1cf81c" stroke-width="1.7"/>
<circle cx="71.2" cy="9.3" r="1.4" fill="none" stroke="#1cf81c" stroke-width="1.3"/>
<circle cx="61.7" cy="9.8" r="1.4" fill="none" stroke="#1cf81c" stroke-width="1.3"/>
<circle cx="34.5" cy="1.6" r="1.8" fill="none" stroke="#1cf81c" stroke-width="1.6"/>
<circle cx="22.1" cy="12.6" r="2.2" fill="none" stroke="#1cf81c" stroke-width="1.9"/>
<circle cx="19.9" cy="18.6" r="2.9" fill="none" stroke="#1cf81c" stroke-width="2.6"/>
<circle cx="181.4" cy="129.4" r="2.7" fill="none" stroke="#1cf81c" stroke-width="2.4"/>
<circle cx="187.1" cy="83.0" r="2.9" fill="none" stroke="#1cf81c" stroke-width="2.6"/>
<circle cx="178.6" cy="96.3" r="2.9" fill="none" stroke="#1cf81c" stroke-width="2.6"/>
<circle cx="137.5" cy="164.0" r="2.4" fill="none" stroke="#1cf81c" stroke-width="2.1"/>
<circle cx="134.9" cy="131.5" r="1.4" fill="none" stroke="#1cf81c" stroke-width="1.3"/>
<circle cx="116.7" cy="6.1" r="2.5" fill="none" stroke="#1cf81c" stroke-width="2.2"/>
<circle cx="120.3" cy="136.9" r="2.6" fill="none" stroke="#1cf81c" stroke-width="2.3"/>
<circle cx="117.9" cy="109.0" r="1.5" fill="none" stroke="#1cf81c" stroke-width="1.3"/>
<circle cx="189.2" cy="156.8" r="2.4" fill="none" stroke="#1cf81c" stroke-width="2.1"/>
<circle cx="186.6" cy="157.0" r="1.9" fill="none" stroke="#1cf81c" stroke-width="1.7"/>
<circle cx="2.1" cy="132.2" r="2.4" fill="none" stroke="#1cf81c" stroke-width="2.1"/>
<circle cx="55.6" cy="67.7" r="1.9" fill="none" stroke="#1cf81c" stroke-width="1.7"/>
<circle cx="49.5" cy="49.1" r="2.0" fill="none" stroke="#1cf81c" stroke-width="1.8"/>
<circle cx="28.7" cy="65.5" r="2.8" fill="none" stroke="#1cf81c" stroke-width="2.5"/>
<circle cx="35.5" cy="75.6" r="2.0" fill="none" stroke="#1cf81c" stroke-width="1.8"/>
<circle cx="142.4" cy="78.2" r="2.4" fill="none" stroke="#1cf81c" stroke-width="2.1"/>
<circle cx="74.8" cy="86.8" r="2.1" fill="none" stroke="#1cf81c" stroke-width="1.9"/>
<circle cx="97.2" cy="68.9" r="2.5" fill="none" stroke="#1cf81c" stroke-width="2.2"/>
<circle cx="150.7" cy="8.4" r="2.1" fill="none" stroke="#1cf81c" stroke-width="1.8"/>
<circle cx="12.4" cy="79.6" r="2.6" fill="none" stroke="#1cf81c" stroke-width="2.3"/>
<circle cx="34.5" cy="75.4" r="1.7" fill="none" stroke="#1cf81c" stroke-width="1.5"/>
<path d="M-5.0 110.3L45.0 148.3L85.0 176.3" fill="none" stroke="#1cf81c" stroke-width="14.5" stroke-linecap="round" stroke-linejoin="round"/>
<path d="M-5.0 110.3L45.0 148.3L85.0 176.3" fill="none" stroke="#020802" stroke-width="12" stroke-linecap="round" stroke-linejoin="round"/>
<path d="M105.0 -1.7L130.0 26.3L170.0 41.3L175.0 66.3L173.0 91.3L170.0 106.3L180.0 146.3L190.0 176.3" fill="none" stroke="#1cf81c" stroke-width="6.0" stroke-linecap="round" stroke-linejoin="round"/>
<path d="M105.0 -1.7L130.0 26.3L170.0 41.3L175.0 66.3L173.0 91.3L170.0 106.3L180.0 146.3L190.0 176.3" fill="none" stroke="#020802" stroke-width="3.5" stroke-linecap="round" stroke-linejoin="round"/>
<path d="M173.0 46.3L205.0 29.3" fill="none" stroke="#1cf81c" stroke-width="6.0" stroke-linecap="round" stroke-linejoin="round"/>
<path d="M173.0 46.3L205.0 29.3" fill="none" stroke="#020802" stroke-width="3.5" stroke-linecap="round" stroke-linejoin="round"/>
</g></g></g>
<clipPath id="jc13"><rect x="745" y="1553.7" width="201.5" height="171.79999999999995"/></clipPath>
<g clip-path="url(#jc13)"><g filter="url(#jb)"><rect x="745" y="1553.7" width="201.5" height="171.79999999999995" fill="#1cfa1c"/>
<g transform="translate(745,1553.7)">
<path d="M204.5 -0.6L203.3 3.2L203.7 5.3L204.5 6.1ZM183.0 -3.0L188.8 -0.3L195.3 1.9L196.7 1.7L198.0 1.2L199.2 0.2L201.4 -3.0ZM202.2 35.2L204.5 37.3L204.5 10.4L201.4 9.8L200.3 10.5L199.8 11.8L200.2 19.4L199.9 28.2L200.8 32.5ZM204.5 42.6L203.5 43.9L202.9 45.4L202.6 47.9L203.0 53.0L204.5 57.8ZM130.6 -1.2L129.2 6.5L129.4 7.8L130.1 8.9L135.9 12.9L140.2 15.4L148.0 19.6L149.9 20.0L151.3 19.6L152.8 17.9L156.4 12.4L158.5 9.7L160.8 7.8L162.9 6.7L166.3 5.8L167.5 5.0L172.0 -3.0L130.6 -3.0ZM152.7 23.0L152.3 23.8L152.5 26.5L152.1 30.0L152.4 34.2L153.1 35.7L154.5 36.8L156.3 37.3L170.2 37.0L178.8 38.7L180.8 38.5L188.1 35.7L191.0 34.9L195.8 34.5L197.1 34.1L197.7 33.5L197.6 32.7L196.0 29.6L195.7 27.7L196.7 17.1L196.7 14.1L196.3 9.0L195.3 5.7L194.5 5.0L177.4 -2.8L175.9 -3.0L174.7 -2.6L173.6 -1.3L169.7 6.4L168.4 7.7L163.1 9.3L161.0 10.7L159.1 12.9L154.6 20.8ZM198.5 41.4L197.7 40.2L196.3 39.4L194.6 39.3L182.6 42.7L180.1 42.9L178.0 42.6L172.5 40.5L170.6 40.2L157.9 41.8L156.4 42.2L155.2 43.2L153.6 46.7L149.0 53.3L148.9 54.7L149.9 56.2L153.5 60.3L154.9 62.6L155.9 64.9L156.4 67.3L156.6 74.4L157.3 75.9L158.8 76.3L163.2 76.3L172.4 77.4L186.5 72.4L189.3 70.9L194.2 66.3L197.9 63.6L199.1 62.3L199.5 61.0L199.6 57.5L198.5 48.4ZM202.2 71.3L199.6 70.2L197.0 70.5L191.0 74.9L189.1 75.5L183.0 76.5L180.8 77.5L178.6 78.8L177.0 80.3L175.9 82.4L175.7 84.8L177.2 92.3L178.0 98.7L179.5 102.3L184.0 108.1L187.2 113.1L191.8 119.4L195.1 122.1L197.5 122.7L200.4 122.3L204.5 120.6L204.5 73.8ZM81.6 6.4L82.3 7.8L84.0 9.2L94.5 15.7L98.4 19.2L99.6 19.4L107.3 18.8L109.9 17.7L112.6 15.9L119.8 9.7L122.0 8.7L125.3 7.7L125.8 6.5L126.8 -0.0L126.9 -3.0L82.1 -3.0L82.2 1.5ZM102.2 21.9L101.7 23.4L101.9 25.5L102.7 27.7L106.8 35.2L114.2 51.9L115.3 53.3L117.1 54.6L119.3 55.5L122.1 56.2L125.0 56.5L127.7 56.3L130.2 55.8L136.1 53.9L141.1 53.9L142.7 53.5L144.1 52.5L149.3 45.8L150.3 43.5L151.0 40.9L151.2 38.7L149.8 31.6L149.8 25.3L149.4 23.5L148.5 22.2L146.9 20.9L134.9 14.8L130.3 11.7L128.8 10.9L127.1 10.6L125.6 10.7L121.3 12.9L113.2 18.8L110.4 20.2L107.7 21.0L103.3 21.3ZM136.3 97.7L138.1 98.6L139.7 98.8L140.7 98.0L145.6 88.8L149.2 84.3L152.8 81.2L153.3 80.2L153.2 76.8L152.1 70.2L150.3 65.3L147.2 60.4L145.3 58.6L143.2 57.5L141.2 57.1L137.6 57.2L130.3 58.9L127.8 59.0L125.1 58.8L116.9 56.9L114.9 57.2L113.3 58.5L111.9 60.9L110.8 63.9L108.1 74.0L108.6 75.8L110.2 77.5L115.7 81.6L120.5 86.8L132.3 94.5ZM137.0 111.2L137.7 112.9L138.9 114.2L140.6 114.9L142.4 115.0L153.5 112.1L155.9 111.9L158.1 112.3L164.3 114.4L166.6 114.4L171.9 112.8L176.6 110.7L177.9 109.3L178.5 107.7L178.4 106.2L174.9 100.5L174.3 98.6L174.2 90.9L172.7 86.1L171.7 84.6L170.2 83.4L168.5 82.8L166.1 82.5L159.0 82.1L157.5 82.3L156.3 82.8L151.0 87.2L147.2 91.6L142.7 100.5L140.0 103.1L138.5 104.9L137.0 109.5ZM153.4 117.1L151.4 118.9L150.0 121.6L149.2 124.4L149.0 126.9L150.2 134.1L151.8 137.3L155.0 140.5L157.4 142.0L160.2 143.0L162.8 143.1L165.0 142.6L170.6 140.6L174.8 138.1L181.1 133.1L183.0 132.1L188.2 131.0L189.0 129.2L189.2 126.5L188.9 123.7L188.1 121.4L185.7 117.0L184.0 115.6L181.4 115.5L172.0 117.8L168.8 118.2L165.9 118.1L163.3 117.5L159.0 116.0L157.2 115.8L155.3 116.2ZM162.8 147.4L162.0 148.9L161.6 150.6L161.8 152.2L162.4 153.4L164.6 156.0L167.4 158.5L180.0 165.8L182.1 167.6L188.7 174.8L204.5 174.8L204.5 150.8L204.1 149.3L204.0 147.3L204.5 143.8L204.5 138.6L203.1 132.6L202.5 131.2L201.4 130.3L200.0 130.0L198.5 130.3L194.8 132.9L192.6 133.8L185.8 134.0L183.4 134.8L181.0 136.3L174.2 142.0L172.4 143.1L165.9 145.3L163.9 146.4ZM34.8 -3.0L36.4 -1.6L45.0 3.1L51.0 8.0L55.7 11.1L58.2 12.3L60.5 13.0L62.9 13.2L65.1 12.9L67.4 11.9L73.8 7.3L77.6 5.3L78.9 4.1L79.7 2.7L80.0 0.9L79.9 -0.9L78.7 -3.0ZM48.0 50.5L49.1 53.4L50.0 54.4L53.8 57.0L56.2 58.1L62.0 59.7L64.0 59.6L65.8 58.5L67.2 56.8L69.8 51.7L71.3 50.4L77.2 48.4L79.3 46.7L81.2 44.2L85.0 36.1L86.2 34.7L91.7 32.7L93.7 31.1L95.4 28.7L96.3 26.4L96.5 24.0L96.1 21.9L95.2 20.5L93.6 19.2L84.4 13.6L79.3 9.5L78.1 9.1L76.8 9.3L74.9 10.3L68.2 15.1L66.4 15.5L62.2 15.3L60.4 15.6L59.3 16.9L58.1 19.4L55.8 25.5L54.1 35.0L50.4 40.9L49.2 43.5L48.5 46.3ZM83.2 80.4L84.9 81.2L86.3 81.5L87.9 81.0L89.6 79.9L94.9 74.3L96.9 72.9L99.1 72.3L102.5 72.3L103.3 72.0L104.5 71.0L105.3 69.5L107.6 61.6L109.0 58.6L111.3 54.9L111.6 52.8L109.7 47.4L102.9 37.9L100.5 33.5L99.7 32.4L98.5 31.8L97.2 32.0L92.5 35.4L89.0 36.8L87.8 37.7L82.2 47.4L80.2 49.7L78.1 51.3L74.7 52.7L73.4 53.6L72.2 55.2L70.3 59.2L69.8 62.6L70.0 63.9L71.8 69.7L72.9 71.7L76.7 75.5ZM132.1 114.2L132.9 112.2L134.9 103.3L134.2 100.5L130.6 97.0L119.0 89.5L111.3 82.1L106.8 78.6L104.2 77.1L101.4 76.1L98.8 76.3L96.8 77.5L95.0 79.2L90.6 84.2L87.7 85.3L86.3 86.1L85.2 87.8L83.8 92.2L83.5 94.9L83.7 97.9L84.2 100.9L85.3 103.9L87.5 106.0L90.5 107.2L100.8 110.1L104.2 110.6L110.3 110.8L113.0 111.3L118.9 113.2L126.2 116.6L128.1 117.1L129.7 116.6L131.0 115.6ZM137.0 118.7L135.5 118.0L134.2 117.8L129.6 119.8L127.8 121.1L124.5 125.4L123.2 127.8L121.0 134.5L119.9 136.1L115.2 141.6L113.8 144.1L112.8 147.0L111.2 153.5L111.3 154.9L111.9 156.3L113.1 157.4L114.8 158.1L117.8 158.6L120.9 158.6L131.2 156.5L133.0 156.5L140.8 158.4L146.4 158.7L148.4 158.5L149.7 157.8L155.7 152.0L157.0 149.8L157.0 148.1L156.3 146.6L149.0 137.6L147.8 135.5L144.9 127.8L143.7 125.9L140.3 121.9ZM183.5 174.8L180.1 171.0L178.0 169.6L165.6 163.6L160.1 158.8L158.4 158.6L156.7 158.9L155.4 159.6L153.9 161.5L153.9 164.7L151.4 174.8ZM-3.0 19.9L6.7 25.5L8.0 25.7L9.5 25.2L10.8 23.8L14.0 16.5L15.2 14.6L16.7 13.2L20.5 10.8L22.4 9.2L23.9 7.1L27.2 -0.7L28.7 -3.0L-3.0 -3.0ZM43.7 52.0L44.8 51.2L45.3 50.0L45.9 44.9L46.7 42.1L47.9 39.4L51.1 33.6L51.9 27.5L52.7 24.4L55.0 17.8L55.4 15.5L54.5 13.5L52.7 12.1L48.9 9.7L43.2 5.4L36.6 1.7L34.5 0.8L32.4 0.5L30.7 1.0L29.6 2.3L27.3 7.1L25.8 9.4L24.0 11.2L18.4 15.5L17.2 17.1L14.0 23.5L11.4 27.3L10.9 28.8L11.2 30.2L12.3 31.9L19.2 38.7L20.6 40.6L22.4 44.7L23.4 51.4L24.4 53.1L26.3 53.9L28.7 53.8L39.9 52.9ZM28.6 57.4L27.1 59.3L26.6 61.7L27.4 63.9L29.9 68.3L30.6 70.2L30.7 72.1L30.3 78.8L31.0 84.5L32.5 93.5L33.2 95.5L35.0 96.9L37.4 97.3L39.8 97.3L43.6 96.3L57.2 90.1L66.3 86.8L72.2 83.6L74.3 82.1L75.5 80.5L75.7 78.9L74.8 77.3L69.8 72.8L68.8 71.2L66.8 66.2L65.7 64.5L63.2 62.9L57.9 61.3L55.3 60.2L46.6 54.5L44.0 54.3L31.0 56.4ZM52.6 96.4L51.0 98.8L49.8 101.6L49.5 104.3L50.4 106.5L54.3 110.0L63.9 116.0L67.2 118.7L68.8 119.6L70.6 119.2L72.4 117.8L74.5 113.4L75.8 111.7L79.3 109.0L80.3 107.7L80.8 106.1L80.8 103.7L80.3 95.0L80.6 89.5L79.7 87.6L77.8 86.7L75.1 86.9L66.4 91.1L57.7 93.1L54.2 94.9ZM71.8 132.2L76.4 137.1L78.0 139.3L79.2 141.5L79.8 143.9L80.3 151.6L80.9 154.1L81.4 155.1L90.6 162.5L93.2 163.9L94.4 163.9L95.4 163.3L100.1 158.3L105.3 154.4L108.0 151.4L110.4 144.5L111.7 141.8L117.8 133.7L120.2 126.8L122.1 122.7L122.5 121.2L122.4 119.9L121.8 118.8L120.7 118.0L118.1 117.2L112.3 116.4L102.7 116.3L101.0 115.9L93.0 112.4L87.3 111.0L85.3 111.0L83.3 111.5L81.9 112.4L80.4 114.0L79.2 115.8L76.8 122.7L75.5 124.9L73.2 127.8L72.3 129.5L71.8 131.1ZM98.8 166.4L98.6 169.7L99.0 171.1L99.9 172.2L101.7 173.4L105.0 174.8L147.7 174.8L148.8 165.4L148.5 164.0L147.5 162.9L146.0 162.3L132.3 161.1L126.3 162.3L123.8 162.6L120.9 162.5L117.8 162.0L106.5 158.3L105.4 158.3L104.3 158.8L102.4 160.5L99.5 164.8ZM95.5 174.0L93.7 173.4L91.8 173.9L91.0 174.8L96.6 174.8ZM18.0 58.9L18.8 56.9L19.5 52.6L19.1 47.7L18.4 45.3L17.1 42.9L15.4 40.6L9.1 34.3L7.6 32.4L6.1 29.6L0.7 25.3L-3.0 23.0L-3.0 70.3L-1.6 69.8L1.1 68.2L8.7 61.9L10.7 60.9L15.4 60.7L16.9 60.1ZM7.2 108.4L12.7 114.8L14.9 115.4L17.5 114.5L18.6 113.4L19.8 112.1L21.3 109.4L25.1 100.8L28.4 97.6L28.9 95.6L28.9 88.3L27.6 79.9L26.9 72.7L26.0 68.9L24.7 67.2L22.5 65.8L17.8 64.5L14.0 64.6L12.0 65.1L10.0 66.2L7.8 67.9L1.7 73.5L-0.2 74.4L-3.0 74.4L-3.0 101.6L3.1 105.2ZM18.8 120.8L21.6 126.6L22.5 131.1L23.5 132.4L24.7 133.2L26.1 133.0L30.2 131.6L32.3 131.3L34.5 131.6L42.6 134.1L45.6 134.4L48.5 134.1L57.6 131.4L62.9 131.4L64.4 131.0L65.8 130.1L66.8 128.9L67.4 127.5L67.5 126.1L67.0 125.0L63.9 121.0L60.1 117.9L50.1 111.0L46.7 107.5L43.1 102.6L41.6 101.1L39.3 100.3L34.1 100.4L32.1 100.9L30.7 101.6L28.9 104.1L25.4 110.8L19.1 119.7ZM30.2 135.6L29.1 136.8L28.2 138.5L27.7 140.3L27.8 142.0L28.5 143.3L30.3 145.1L39.3 152.4L40.9 154.1L42.1 155.9L43.9 161.1L44.6 162.0L45.7 162.7L49.7 162.9L52.6 162.4L55.5 161.4L63.9 156.9L66.3 156.1L68.4 156.0L73.6 157.2L74.4 156.9L75.7 154.8L76.1 152.0L76.0 149.5L74.8 144.4L73.5 141.9L71.7 139.4L69.7 137.0L68.4 135.9L66.8 135.3L65.4 135.2L59.3 135.6L51.6 137.5L49.0 137.6L46.1 137.4L36.9 135.1L34.1 134.7L31.5 135.0ZM86.9 174.8L90.3 168.7L90.0 167.3L88.8 166.1L79.5 160.6L77.9 160.3L74.8 160.5L71.4 159.7L69.4 159.7L67.3 160.4L59.1 165.2L56.0 166.4L52.8 166.8L45.4 166.3L44.4 167.1L41.4 174.8ZM-3.0 135.6L2.4 135.8L14.1 133.4L15.4 132.4L16.2 130.9L16.4 129.3L15.5 124.5L13.9 121.0L4.9 111.7L2.8 110.4L-3.0 107.4ZM-3.0 168.5L1.7 170.7L4.3 172.9L5.9 173.6L7.9 173.5L9.9 173.0L11.7 172.0L12.9 170.7L14.1 167.2L14.3 158.9L14.8 155.5L15.6 152.3L18.5 145.1L18.7 143.4L18.3 141.9L17.0 140.3L15.1 138.9L12.6 138.0L10.2 137.9L-3.0 139.8ZM26.0 146.4L22.9 145.4L21.6 145.4L20.5 146.0L17.5 151.6L16.6 154.5L16.1 157.7L16.0 169.1L14.4 174.8L38.1 174.8L40.1 169.5L41.2 165.1L41.2 163.3L40.2 160.2L38.7 157.3L37.4 155.8ZM0.6 174.8L-2.6 173.2L-3.0 173.0L-3.0 174.8Z" fill="#062206"/>
<rect width="201.5" height="171.79999999999995" filter="url(#jn)" opacity="0.55"/>
<circle cx="153.9" cy="39.4" r="3.1" fill="none" stroke="#1cfa1c" stroke-width="2.8"/>
<circle cx="80.6" cy="7.6" r="2.9" fill="none" stroke="#1cfa1c" stroke-width="2.6"/>
<circle cx="70.1" cy="133.3" r="3.1" fill="none" stroke="#1cfa1c" stroke-width="2.8"/>
<circle cx="21.6" cy="135.1" r="2.1" fill="none" stroke="#1cfa1c" stroke-width="1.9"/>
<circle cx="183.1" cy="113.5" r="2.9" fill="none" stroke="#1cfa1c" stroke-width="2.6"/>
<circle cx="57.6" cy="15.5" r="1.7" fill="none" stroke="#1cfa1c" stroke-width="1.5"/>
<path d="M4.0 21.3L9.0 86.3L17.0 146.3L25.0 176.3" fill="none" stroke="#1cfa1c" stroke-width="9.5" stroke-linecap="round" stroke-linejoin="round"/>
<path d="M4.0 21.3L9.0 86.3L17.0 146.3L25.0 176.3" fill="none" stroke="#020802" stroke-width="7" stroke-linecap="round" stroke-linejoin="round"/>
</g></g></g>
<clipPath id="jc14"><rect x="955" y="1553.7" width="201.79999999999995" height="171.79999999999995"/></clipPath>
<g clip-path="url(#jc14)"><g filter="url(#jb)"><rect x="955" y="1553.7" width="201.79999999999995" height="171.79999999999995" fill="#1cff1c"/>
<g transform="translate(955,1553.7)">
<path d="M-3.0 15.5L-1.0 15.4L2.3 12.8L6.2 7.5L7.9 5.8L9.6 4.9L13.8 4.2L16.3 3.2L18.9 1.2L21.4 -1.4L22.3 -3.0L-3.0 -3.0ZM59.5 -3.0L35.3 -3.0L38.6 -1.4L41.2 -0.5L48.8 1.3L52.4 0.8L55.8 -0.4ZM70.9 -3.0L78.1 1.4L82.5 4.5L84.5 5.5L85.5 5.5L86.5 5.4L88.8 4.1L96.4 -3.0ZM118.9 -2.8L121.1 0.9L124.1 4.4L134.3 12.0L137.7 15.9L139.2 16.4L141.2 16.4L143.2 15.8L144.8 14.4L145.9 12.1L147.9 4.1L149.1 1.9L153.1 -3.0ZM191.4 2.0L193.3 1.9L194.8 1.0L196.4 -3.0L182.2 -3.0L186.7 0.2L189.3 1.4ZM7.4 18.2L6.5 21.0L6.8 23.4L8.1 25.1L22.1 31.2L28.1 33.2L33.2 34.3L35.1 34.6L36.6 34.4L37.9 33.2L40.2 30.3L42.9 26.0L43.6 24.4L43.8 22.6L42.8 9.6L41.5 7.7L34.2 4.3L29.0 1.2L27.6 1.0L26.0 2.0L20.0 8.1L18.3 9.0L15.3 9.7L13.6 10.8L9.3 15.3ZM68.5 39.2L70.9 38.6L73.4 36.3L78.9 28.4L84.0 23.8L85.7 21.0L86.1 17.7L85.8 15.7L85.4 13.9L84.5 11.6L81.8 8.7L78.3 6.1L76.1 4.9L70.9 2.8L65.9 1.4L63.6 1.4L58.7 5.0L57.4 5.5L54.3 5.6L52.5 6.0L50.8 7.2L49.6 9.2L48.4 14.7L48.1 26.8L46.3 32.5L46.6 34.2L48.3 36.0L50.9 37.4L53.7 38.1L62.9 38.4ZM118.4 39.7L120.3 39.5L121.8 38.3L124.2 34.8L129.2 31.0L130.7 29.4L132.7 25.1L133.2 22.4L133.0 19.8L132.1 17.8L130.5 15.9L124.6 10.3L121.2 6.4L117.8 0.9L114.8 -2.6L114.2 -3.0L106.4 -3.0L103.1 0.2L98.6 3.9L90.4 9.1L89.5 10.3L89.4 12.0L92.3 18.8L99.4 23.8L102.7 28.2L106.0 31.5L116.3 38.6ZM178.2 1.7L165.4 -0.7L162.3 -0.3L159.6 0.5L157.6 1.8L155.4 4.3L154.3 8.0L153.8 13.5L154.5 16.5L155.9 18.9L157.8 20.5L161.4 22.5L167.8 28.1L169.9 29.5L172.4 30.6L175.2 30.9L182.6 29.7L187.2 28.1L189.5 26.9L191.1 25.6L191.7 23.9L190.7 17.4L190.5 12.2L190.0 9.3L188.3 6.8L185.6 5.0ZM202.0 7.5L200.5 8.2L199.2 9.6L197.6 13.9L196.7 19.5L197.0 31.0L197.9 32.4L199.5 33.5L201.6 34.1L204.8 34.1L204.8 8.0L203.4 7.5ZM-3.0 59.7L3.1 58.2L6.2 58.2L9.4 58.6L17.9 60.8L20.2 60.9L22.2 60.4L28.0 57.8L34.9 56.9L36.3 55.6L37.5 48.3L36.8 46.4L35.4 45.3L25.7 39.4L19.8 36.8L12.5 34.3L5.7 30.9L3.7 30.8L1.8 31.8L0.3 33.9L-1.9 39.3L-2.6 41.9L-3.0 44.0ZM51.9 44.0L50.0 45.1L48.5 46.9L46.8 51.7L46.1 55.8L46.7 59.3L49.0 64.1L50.2 69.4L51.6 71.1L54.6 72.0L57.8 71.9L64.8 70.5L66.5 69.6L68.0 68.0L73.9 58.7L74.8 56.6L74.8 54.7L74.2 53.0L73.3 51.3L71.0 48.3L66.9 44.8L64.9 43.9L61.7 43.4ZM112.1 49.2L113.3 47.8L113.6 46.1L112.9 44.1L111.1 42.4L102.0 36.9L94.8 30.8L92.7 29.9L90.2 29.7L87.8 30.0L85.2 31.1L82.6 33.3L80.8 35.3L78.9 37.8L77.6 40.3L77.1 42.9L77.6 45.1L82.3 53.6L83.5 57.1L84.5 58.3L86.1 58.9L92.3 59.0L97.5 59.6L99.9 59.5L101.9 58.4L106.7 52.6L108.4 51.1ZM124.9 44.0L124.9 47.7L125.6 49.0L132.5 55.2L134.3 56.1L141.0 55.6L147.0 55.7L151.4 55.4L153.4 55.0L154.8 54.1L160.0 45.1L165.1 39.2L165.7 37.9L165.5 36.6L164.6 35.4L161.5 33.3L154.5 27.7L144.9 21.6L143.3 21.1L141.8 21.0L139.1 21.9L137.8 23.7L136.0 29.1L134.7 31.7L133.2 33.8L131.4 35.3L128.1 37.1L127.0 38.2L126.1 39.9ZM193.6 41.2L192.2 38.3L190.4 36.1L188.5 35.0L186.6 35.4L183.4 37.4L181.6 38.0L174.7 38.3L172.7 39.4L167.8 44.3L164.8 49.2L161.4 56.9L161.4 58.5L162.1 60.1L164.6 63.5L168.6 70.4L170.1 72.1L174.6 75.3L179.6 78.3L182.7 79.6L188.8 79.3L189.9 78.8L194.4 71.2L195.5 68.9L196.3 65.9L196.2 63.5L195.0 57.3L195.0 47.4ZM204.8 40.4L203.0 41.0L202.0 42.8L202.5 48.4L202.3 51.0L201.3 55.7L201.1 58.6L202.1 60.9L204.8 62.9ZM3.2 69.0L1.7 71.4L0.9 73.8L1.1 75.9L2.7 82.4L3.3 83.8L4.3 85.2L7.0 86.8L18.0 89.3L20.3 89.1L25.1 87.1L27.6 85.2L34.6 79.0L36.3 77.9L39.2 77.1L40.1 76.4L40.8 74.9L41.2 72.8L40.6 69.4L39.4 67.7L37.5 66.7L35.1 66.4L20.8 67.5L18.7 67.2L13.0 65.6L10.8 65.6L5.6 67.3ZM97.9 67.5L96.5 65.7L94.1 64.2L91.1 63.5L79.7 62.8L77.9 63.8L73.1 71.7L71.5 73.3L69.7 74.5L63.5 77.3L62.0 79.4L61.8 82.5L64.2 89.8L65.5 91.4L67.2 92.2L69.3 92.4L74.2 92.1L82.5 90.4L84.9 90.3L87.1 90.6L92.3 92.9L93.8 92.5L95.0 90.8L96.0 88.1L98.6 78.8L98.8 73.3ZM120.4 54.1L117.5 53.1L114.3 53.4L112.8 54.0L111.6 55.1L107.6 61.6L104.2 65.5L103.2 67.3L101.9 70.7L101.6 78.2L98.9 90.2L98.8 92.9L99.6 95.0L101.6 96.5L108.7 100.2L113.3 104.0L114.6 104.8L115.9 105.1L117.1 104.6L117.8 103.2L119.2 97.4L120.4 94.3L122.0 91.6L126.4 86.4L127.2 84.9L128.6 80.5L131.0 74.9L132.4 68.7L131.7 65.4L130.1 62.2L124.5 58.1ZM139.2 64.0L137.9 65.5L137.2 67.3L136.5 72.5L136.9 74.0L138.2 75.1L147.9 79.8L152.1 82.8L156.4 87.1L159.8 89.2L162.3 89.8L165.1 89.6L169.2 87.7L171.4 85.7L172.3 82.8L171.5 79.9L165.9 73.4L161.8 67.8L160.2 66.1L156.0 63.0L153.3 62.0L150.3 62.1L145.0 63.2L140.9 63.5ZM200.6 71.0L198.7 73.2L197.1 75.9L196.1 78.7L195.7 81.1L196.4 83.3L198.2 85.0L204.8 89.6L204.8 69.6L202.9 69.9ZM-3.0 90.7L-2.5 87.8L-3.0 85.5ZM3.5 93.1L2.1 93.6L0.8 94.8L-3.0 100.0L-3.0 109.2L0.1 112.4L2.1 113.5L7.5 113.6L10.0 114.0L17.8 117.0L19.4 117.2L20.8 116.7L21.9 115.1L22.5 112.8L22.6 110.2L21.5 101.2L20.1 97.2L18.6 95.8L16.3 95.2L8.6 94.4ZM46.0 115.6L50.5 114.4L51.8 113.3L54.1 109.3L54.8 106.7L55.9 98.7L56.6 96.5L58.4 93.2L58.5 91.7L58.0 90.0L55.8 86.4L54.4 85.0L52.5 84.1L49.1 83.2L41.2 83.9L39.0 84.5L36.8 86.1L28.5 96.1L27.9 98.4L29.1 105.5L31.1 109.7L34.5 114.2L38.5 117.4L40.9 118.3L42.9 117.7ZM96.7 97.7L89.6 95.1L87.9 94.8L85.9 94.9L78.3 96.9L75.3 97.3L72.3 97.3L64.6 96.1L62.6 96.6L61.3 97.9L60.6 99.8L60.0 108.1L59.1 113.7L59.6 115.6L61.0 117.0L63.0 117.7L72.6 118.3L81.9 122.0L87.4 122.9L89.9 122.8L94.8 120.9L101.0 119.8L102.6 119.1L104.0 117.9L105.4 116.0L107.9 111.9L109.5 108.1L109.7 106.6L109.2 105.4L107.7 104.0ZM124.3 100.2L122.6 110.2L123.1 113.0L125.2 115.3L133.6 122.1L135.8 122.6L138.4 122.3L141.1 120.8L143.1 118.6L147.0 113.7L150.7 108.0L153.8 105.1L155.8 102.2L156.3 98.5L155.1 95.0L153.2 92.4L151.9 91.2L148.8 89.1L146.8 88.2L141.9 86.8L138.2 86.7L135.0 87.9L127.9 93.1L126.3 94.8L125.1 97.2ZM169.2 96.1L168.8 98.4L168.8 101.0L169.4 103.4L170.4 105.1L173.7 108.8L177.4 111.7L182.5 115.0L185.8 116.4L188.8 116.6L191.3 115.6L196.8 110.1L198.1 108.0L199.0 105.4L201.2 97.3L201.1 94.8L199.8 92.5L191.1 84.2L189.4 83.2L187.8 83.0L184.4 84.3L177.0 90.8L170.3 94.5ZM-2.6 131.2L-2.5 129.8L-3.0 129.0L-3.0 131.5ZM16.4 145.0L21.7 146.7L23.3 146.8L24.9 146.7L27.5 144.6L28.9 142.2L29.9 139.4L31.9 131.9L34.1 128.4L34.4 126.0L32.8 123.4L29.6 121.6L25.9 121.2L20.9 121.3L18.7 121.0L11.1 118.5L8.0 119.3L5.2 122.2L3.7 126.3L4.8 136.2L5.6 138.3L8.1 140.7L9.9 141.9ZM72.9 126.8L70.9 126.7L69.0 127.6L67.5 128.8L66.3 130.5L65.2 133.0L64.7 136.0L65.0 140.7L65.6 143.1L66.7 145.5L69.0 148.2L72.2 149.8L75.6 150.1L78.4 148.7L80.6 146.1L84.4 139.8L85.5 137.1L84.9 134.8L82.8 132.1L80.0 129.8L77.1 128.3ZM90.6 145.5L90.7 147.1L91.8 148.7L93.9 149.7L105.8 151.3L110.7 152.6L112.8 152.8L115.0 151.6L116.9 149.1L121.9 138.7L126.3 132.9L127.7 130.0L127.8 127.0L127.2 125.8L126.5 124.6L124.7 122.8L117.9 117.7L115.0 116.3L112.4 116.2L110.4 117.8L107.5 122.3L105.9 123.9L104.2 124.6L98.2 125.0L96.1 125.8L94.2 128.0L93.5 131.4L93.0 139.8L92.3 142.0ZM153.4 119.9L149.8 126.1L149.8 127.7L149.9 129.1L150.6 130.5L153.3 133.9L155.2 135.5L157.2 136.0L164.9 134.1L175.3 133.9L178.5 133.0L181.2 131.2L183.3 129.1L184.3 126.4L183.1 123.5L180.1 121.2L172.8 117.6L166.3 112.8L163.8 112.3L161.2 112.2L159.4 112.8L158.3 113.8ZM204.8 106.0L202.5 111.4L201.1 113.1L197.9 116.0L196.6 117.6L195.7 119.6L193.3 130.2L191.8 135.5L191.7 136.8L194.1 139.5L197.2 141.3L200.5 142.1L203.5 141.2L204.8 140.2ZM-2.0 160.9L5.4 158.8L7.8 157.0L8.6 154.1L7.8 150.8L6.0 147.9L0.5 142.6L-1.2 142.0L-3.0 142.5L-3.0 161.5ZM53.5 172.0L56.1 172.0L58.6 171.6L60.9 170.5L63.1 168.7L64.6 166.4L66.0 158.3L65.4 156.4L60.7 146.8L55.7 132.2L53.3 126.8L51.7 125.0L49.7 124.0L47.8 123.9L46.0 125.0L35.6 133.8L31.7 144.5L27.2 151.9L27.2 153.6L28.3 155.4L30.2 157.1L39.2 163.4L40.9 164.9L42.1 166.4L43.5 169.5L44.8 170.7ZM74.3 162.5L73.4 163.7L73.4 165.6L74.1 167.8L75.2 169.7L76.6 171.2L81.2 174.8L107.3 174.8L109.4 172.8L111.1 170.6L112.3 168.4L112.8 166.4L112.7 163.0L112.0 161.2L110.8 159.5L109.2 158.3L105.5 157.5L98.0 156.6L88.0 154.2L86.3 154.4L81.6 159.5L79.8 160.9L78.0 161.7ZM118.0 159.3L118.1 161.0L119.0 163.2L121.5 168.5L122.2 173.4L123.0 174.8L139.7 174.7L141.5 173.1L147.3 165.0L149.3 163.5L152.9 161.4L153.6 160.1L153.6 158.6L150.2 147.8L149.8 145.0L150.4 138.4L149.9 137.0L146.7 133.8L142.2 130.9L140.4 130.2L138.5 130.0L135.6 130.6L133.8 132.0L132.3 134.1L123.3 148.5L120.0 154.4ZM163.0 161.1L169.1 168.4L172.7 170.8L180.5 174.8L186.8 174.8L194.5 167.2L195.4 165.7L195.2 158.8L196.0 150.0L195.5 147.3L193.5 145.2L187.5 140.9L185.5 139.8L183.7 139.8L180.2 141.3L178.3 141.8L164.6 141.7L161.4 142.3L158.7 143.6L157.0 145.4L157.0 148.0L160.9 155.9ZM204.8 150.6L203.1 153.7L201.8 157.7L201.8 161.2L203.5 164.0L204.8 164.6ZM35.8 168.8L24.2 155.6L22.4 154.7L20.5 155.3L16.4 160.3L14.1 162.6L11.7 164.0L9.4 164.7L5.3 165.2L3.6 166.2L1.8 168.0L0.2 171.1L-0.6 174.8L38.8 174.8L38.2 172.5ZM70.3 174.0L69.0 173.5L67.3 173.9L65.6 174.8L71.0 174.8ZM160.4 169.6L158.6 168.7L156.7 168.7L155.2 170.0L152.4 174.8L165.2 174.8ZM204.8 172.7L200.3 171.1L198.6 171.3L197.0 172.1L194.4 174.8L204.8 174.8Z" fill="#072407"/>
<rect width="201.79999999999995" height="171.79999999999995" filter="url(#jn)" opacity="0.55"/>
<circle cx="188.0" cy="137.5" r="3.5" fill="none" stroke="#1cff1c" stroke-width="3.2"/>
<circle cx="152.9" cy="137.8" r="2.6" fill="none" stroke="#1cff1c" stroke-width="2.4"/>
<circle cx="198.0" cy="147.3" r="3.4" fill="none" stroke="#1cff1c" stroke-width="3.1"/>
<circle cx="157.7" cy="162.0" r="3.2" fill="none" stroke="#1cff1c" stroke-width="2.8"/>
<circle cx="162.3" cy="103.1" r="3.7" fill="none" stroke="#1cff1c" stroke-width="3.4"/>
<circle cx="165.7" cy="95.2" r="4.1" fill="none" stroke="#1cff1c" stroke-width="3.7"/>
<circle cx="31.9" cy="118.7" r="3.1" fill="none" stroke="#1cff1c" stroke-width="2.8"/>
<circle cx="52.9" cy="119.7" r="2.4" fill="none" stroke="#1cff1c" stroke-width="2.2"/>
<circle cx="137.7" cy="21.2" r="2.9" fill="none" stroke="#1cff1c" stroke-width="2.6"/>
<circle cx="146.2" cy="17.7" r="2.8" fill="none" stroke="#1cff1c" stroke-width="2.5"/>
<circle cx="86.8" cy="10.5" r="2.3" fill="none" stroke="#1cff1c" stroke-width="2.1"/>
<circle cx="155.7" cy="59.0" r="3.3" fill="none" stroke="#1cff1c" stroke-width="2.9"/>
<circle cx="172.2" cy="35.3" r="4.5" fill="none" stroke="#1cff1c" stroke-width="4.0"/>
<circle cx="196.0" cy="35.4" r="2.8" fill="none" stroke="#1cff1c" stroke-width="2.5"/>
<circle cx="115.8" cy="110.7" r="4.5" fill="none" stroke="#1cff1c" stroke-width="4.0"/>
<circle cx="133.0" cy="76.9" r="3.9" fill="none" stroke="#1cff1c" stroke-width="3.5"/>
<circle cx="45.8" cy="39.7" r="2.2" fill="none" stroke="#1cff1c" stroke-width="2.0"/>
<circle cx="57.4" cy="80.8" r="4.4" fill="none" stroke="#1cff1c" stroke-width="4.0"/>
<circle cx="98.3" cy="95.1" r="3.1" fill="none" stroke="#1cff1c" stroke-width="2.8"/>
<circle cx="120.3" cy="47.2" r="2.5" fill="none" stroke="#1cff1c" stroke-width="2.3"/>
<path d="M0.0 64.3L45.0 52.3L105.0 43.3L145.0 37.3" fill="none" stroke="#1cff1c" stroke-width="5.0" stroke-linecap="round" stroke-linejoin="round"/>
<path d="M0.0 64.3L45.0 52.3L105.0 43.3L145.0 37.3" fill="none" stroke="#031003" stroke-width="2.5" stroke-linecap="round" stroke-linejoin="round"/>
<path d="M45.0 26.3L105.0 26.3L195.0 23.3" fill="none" stroke="#1cff1c" stroke-width="5.0" stroke-linecap="round" stroke-linejoin="round"/>
<path d="M45.0 26.3L105.0 26.3L195.0 23.3" fill="none" stroke="#031003" stroke-width="2.5" stroke-linecap="round" stroke-linejoin="round"/>
<path d="M105.0 156.3L155.0 146.3L205.0 136.3" fill="none" stroke="#1cff1c" stroke-width="5.5" stroke-linecap="round" stroke-linejoin="round"/>
<path d="M105.0 156.3L155.0 146.3L205.0 136.3" fill="none" stroke="#031003" stroke-width="3" stroke-linecap="round" stroke-linejoin="round"/>
</g></g></g>
<rect x="1072.4" y="1711.1" width="72.3" height="4.7" fill="#fff"/>
</svg>
</body></html>
